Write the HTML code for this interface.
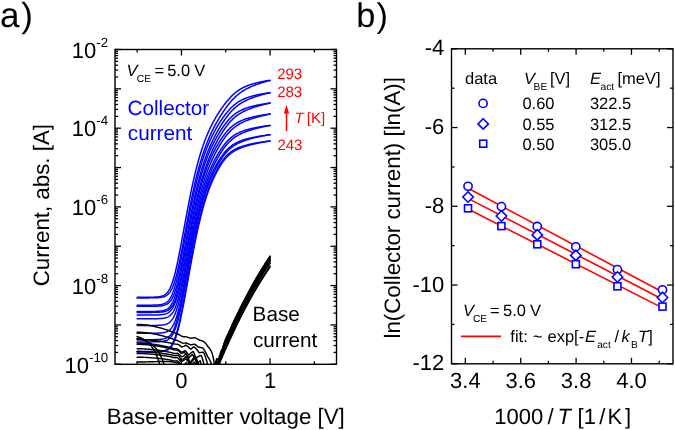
<!DOCTYPE html><html><head><meta charset="utf-8"><style>html,body{margin:0;padding:0;background:#fff;width:675px;height:430px;overflow:hidden}svg{display:block;will-change:transform}</style></head><body><svg width="675" height="430" viewBox="0 0 675 430" text-rendering="geometricPrecision" font-family='"Liberation Sans", sans-serif'>
<rect width="675" height="430" fill="#fff"/>
<defs><clipPath id="ca"><rect x="115.0" y="49.5" width="221.5" height="314.8"/></clipPath></defs>
<text y="27.2" font-size="35"><tspan x="0">a</tspan><tspan x="21.3">)</tspan></text>
<text y="26.6" font-size="34.3"><tspan x="356.2">b</tspan><tspan x="376.6">)</tspan></text>
<g clip-path="url(#ca)" fill="none" stroke-linejoin="round" stroke-linecap="round">
<path d="M137.15,297.3 L137.89,297.3 L138.63,297.3 L139.37,297.3 L140.11,297.3 L140.85,297.3 L141.58,297.29 L142.32,297.29 L143.06,297.29 L143.8,297.29 L144.54,297.29 L145.28,297.29 L146.02,297.28 L146.76,297.28 L147.5,297.27 L148.24,297.27 L148.98,297.26 L149.72,297.25 L150.45,297.24 L151.19,297.23 L151.93,297.21 L152.67,297.2 L153.41,297.17 L154.15,297.14 L154.89,297.11 L155.63,297.07 L156.37,297.02 L157.11,296.96 L157.85,296.88 L158.59,296.79 L159.32,296.68 L160.06,296.55 L160.66,296.42 L161.25,296.27 L161.84,296.1 L162.43,295.9 L163.02,295.66 L163.61,295.39 L164.2,295.08 L164.65,294.81 L165.09,294.51 L165.53,294.18 L165.98,293.82 L166.42,293.41 L166.86,292.96 L167.31,292.47 L167.75,291.92 L168.19,291.32 L168.49,290.89 L168.79,290.43 L169.08,289.95 L169.38,289.44 L169.67,288.89 L169.97,288.32 L170.26,287.71 L170.56,287.08 L170.86,286.41 L171.15,285.7 L171.45,284.97 L171.74,284.19 L172.04,283.39 L172.33,282.54 L172.63,281.67 L172.93,280.75 L173.22,279.81 L173.52,278.82 L173.81,277.81 L174.11,276.75 L174.4,275.67 L174.55,275.11 L174.7,274.55 L174.85,273.98 L174.99,273.4 L175.14,272.81 L175.29,272.22 L175.44,271.62 L175.59,271.01 L175.73,270.39 L175.88,269.77 L176.03,269.14 L176.18,268.5 L176.33,267.85 L176.47,267.2 L176.62,266.54 L176.77,265.88 L176.92,265.21 L177.06,264.53 L177.21,263.85 L177.36,263.16 L177.51,262.46 L177.66,261.76 L177.8,261.06 L177.95,260.35 L178.1,259.63 L178.25,258.91 L178.39,258.19 L178.54,257.46 L178.69,256.72 L178.84,255.98 L178.99,255.24 L179.13,254.5 L179.28,253.75 L179.43,252.99 L179.58,252.23 L179.73,251.47 L179.87,250.71 L180.02,249.94 L180.17,249.17 L180.32,248.4 L180.46,247.62 L180.61,246.84 L180.76,246.06 L180.91,245.28 L181.06,244.49 L181.2,243.71 L181.35,242.92 L181.5,242.13 L181.65,241.33 L181.79,240.54 L181.94,239.74 L182.09,238.95 L182.24,238.15 L182.39,237.35 L182.53,236.55 L182.68,235.75 L182.83,234.94 L182.98,234.14 L183.13,233.34 L183.27,232.53 L183.42,231.73 L183.57,230.92 L183.72,230.12 L183.86,229.32 L184.01,228.51 L184.16,227.71 L184.31,226.9 L184.46,226.1 L184.6,225.29 L184.75,224.49 L184.9,223.69 L185.05,222.88 L185.2,222.08 L185.34,221.28 L185.49,220.48 L185.64,219.68 L185.79,218.88 L185.93,218.09 L186.08,217.29 L186.23,216.5 L186.38,215.7 L186.53,214.91 L186.67,214.12 L186.82,213.33 L186.97,212.55 L187.12,211.76 L187.26,210.98 L187.41,210.2 L187.56,209.42 L187.71,208.64 L187.86,207.86 L188,207.09 L188.15,206.32 L188.3,205.55 L188.45,204.78 L188.6,204.02 L188.74,203.26 L188.89,202.5 L189.04,201.74 L189.19,200.98 L189.33,200.23 L189.48,199.48 L189.63,198.74 L189.78,197.99 L189.93,197.25 L190.07,196.52 L190.22,195.78 L190.37,195.05 L190.52,194.32 L190.66,193.6 L190.81,192.87 L190.96,192.15 L191.11,191.44 L191.26,190.73 L191.4,190.02 L191.55,189.31 L191.7,188.61 L191.85,187.91 L192,187.21 L192.14,186.52 L192.29,185.83 L192.44,185.15 L192.59,184.46 L192.73,183.79 L192.88,183.11 L193.03,182.44 L193.18,181.77 L193.33,181.11 L193.47,180.45 L193.62,179.8 L193.77,179.14 L193.92,178.5 L194.06,177.85 L194.21,177.21 L194.36,176.57 L194.51,175.94 L194.66,175.31 L194.8,174.69 L194.95,174.06 L195.1,173.45 L195.25,172.83 L195.4,172.22 L195.54,171.62 L195.69,171.01 L195.84,170.42 L195.99,169.82 L196.13,169.23 L196.28,168.64 L196.43,168.06 L196.58,167.48 L196.73,166.91 L196.87,166.34 L197.02,165.77 L197.17,165.21 L197.32,164.65 L197.47,164.09 L197.61,163.54 L197.91,162.44 L198.2,161.37 L198.5,160.3 L198.8,159.25 L199.09,158.22 L199.39,157.2 L199.68,156.19 L199.98,155.2 L200.27,154.22 L200.57,153.26 L200.87,152.31 L201.16,151.37 L201.46,150.45 L201.75,149.54 L202.05,148.64 L202.34,147.75 L202.64,146.88 L202.93,146.02 L203.23,145.17 L203.53,144.33 L203.82,143.51 L204.12,142.69 L204.41,141.89 L204.71,141.09 L205,140.31 L205.3,139.54 L205.6,138.78 L205.89,138.02 L206.19,137.28 L206.48,136.55 L206.78,135.83 L207.07,135.11 L207.37,134.41 L207.67,133.71 L207.96,133.03 L208.26,132.35 L208.55,131.68 L208.85,131.02 L209.14,130.36 L209.44,129.72 L209.73,129.08 L210.03,128.45 L210.33,127.82 L210.62,127.21 L210.92,126.6 L211.21,126 L211.51,125.4 L211.8,124.81 L212.1,124.23 L212.4,123.66 L212.69,123.09 L212.99,122.52 L213.28,121.97 L213.58,121.42 L213.87,120.87 L214.17,120.33 L214.47,119.8 L214.76,119.27 L215.06,118.75 L215.35,118.23 L215.65,117.72 L215.94,117.21 L216.24,116.71 L216.54,116.21 L216.83,115.72 L217.13,115.23 L217.42,114.75 L217.72,114.27 L218.01,113.79 L218.31,113.32 L218.6,112.86 L218.9,112.4 L219.2,111.94 L219.49,111.49 L219.79,111.04 L220.08,110.6 L220.38,110.15 L220.67,109.72 L220.97,109.29 L221.27,108.86 L221.56,108.43 L221.86,108.01 L222.15,107.59 L222.45,107.18 L222.74,106.77 L223.04,106.36 L223.48,105.76 L223.93,105.16 L224.37,104.58 L224.81,104 L225.26,103.43 L225.7,102.86 L226.14,102.31 L226.59,101.76 L227.03,101.22 L227.47,100.69 L227.92,100.16 L228.36,99.65 L228.81,99.14 L229.25,98.64 L229.69,98.16 L230.14,97.67 L230.58,97.2 L231.02,96.74 L231.47,96.28 L231.91,95.84 L232.35,95.4 L232.8,94.98 L233.24,94.56 L233.68,94.15 L234.13,93.76 L234.57,93.37 L235.01,92.99 L235.46,92.62 L235.9,92.26 L236.34,91.91 L236.79,91.57 L237.23,91.24 L237.68,90.91 L238.12,90.6 L238.56,90.29 L239.01,90 L239.45,89.71 L239.89,89.43 L240.34,89.16 L240.78,88.89 L241.37,88.55 L241.96,88.22 L242.55,87.91 L243.14,87.61 L243.74,87.31 L244.33,87.03 L244.92,86.76 L245.51,86.5 L246.1,86.25 L246.69,86 L247.28,85.77 L247.88,85.54 L248.47,85.32 L249.06,85.11 L249.65,84.9 L250.24,84.7 L250.83,84.51 L251.42,84.32 L252.01,84.14 L252.61,83.96 L253.2,83.79 L253.79,83.63 L254.38,83.46 L254.97,83.31 L255.56,83.15 L256.15,83.01 L256.75,82.86 L257.34,82.72 L257.93,82.58 L258.52,82.45 L259.11,82.31 L259.7,82.19 L260.29,82.06 L260.88,81.94 L261.48,81.82 L262.07,81.7 L262.66,81.59 L263.25,81.48 L263.84,81.36 L264.58,81.23 L265.32,81.1 L266.06,80.97 L266.8,80.85 L267.54,80.73 L268.28,80.61 L269.02,80.49 L269.75,80.4 L270.05,80.4" stroke="#00f" stroke-width="1.5"/>
<path d="M137.15,297.9 L137.89,297.9 L138.63,297.9 L139.37,297.9 L140.11,297.9 L140.85,297.9 L141.58,297.9 L142.32,297.9 L143.06,297.9 L143.8,297.89 L144.54,297.89 L145.28,297.89 L146.02,297.89 L146.76,297.89 L147.5,297.89 L148.24,297.88 L148.98,297.88 L149.72,297.87 L150.45,297.87 L151.19,297.86 L151.93,297.85 L152.67,297.84 L153.41,297.83 L154.15,297.81 L154.89,297.79 L155.63,297.77 L156.37,297.74 L157.11,297.71 L157.85,297.66 L158.59,297.61 L159.32,297.54 L160.06,297.46 L160.8,297.37 L161.54,297.25 L162.13,297.13 L162.72,297 L163.32,296.85 L163.91,296.67 L164.5,296.46 L165.09,296.21 L165.68,295.93 L166.27,295.6 L166.72,295.31 L167.16,295 L167.6,294.65 L168.05,294.26 L168.49,293.83 L168.93,293.36 L169.38,292.83 L169.82,292.25 L170.12,291.83 L170.41,291.39 L170.71,290.92 L171,290.42 L171.3,289.89 L171.59,289.32 L171.89,288.73 L172.19,288.1 L172.48,287.44 L172.78,286.75 L173.07,286.02 L173.37,285.26 L173.66,284.46 L173.96,283.62 L174.26,282.75 L174.55,281.84 L174.85,280.9 L175.14,279.92 L175.44,278.9 L175.73,277.85 L176.03,276.76 L176.18,276.21 L176.33,275.64 L176.47,275.07 L176.62,274.49 L176.77,273.9 L176.92,273.3 L177.06,272.7 L177.21,272.09 L177.36,271.47 L177.51,270.84 L177.66,270.2 L177.8,269.56 L177.95,268.91 L178.1,268.26 L178.25,267.6 L178.39,266.93 L178.54,266.25 L178.69,265.57 L178.84,264.88 L178.99,264.19 L179.13,263.49 L179.28,262.78 L179.43,262.07 L179.58,261.36 L179.73,260.64 L179.87,259.91 L180.02,259.18 L180.17,258.45 L180.32,257.71 L180.46,256.96 L180.61,256.22 L180.76,255.47 L180.91,254.71 L181.06,253.95 L181.2,253.19 L181.35,252.42 L181.5,251.65 L181.65,250.88 L181.79,250.11 L181.94,249.33 L182.09,248.55 L182.24,247.77 L182.39,246.98 L182.53,246.2 L182.68,245.41 L182.83,244.62 L182.98,243.83 L183.13,243.03 L183.27,242.24 L183.42,241.44 L183.57,240.64 L183.72,239.84 L183.86,239.04 L184.01,238.24 L184.16,237.44 L184.31,236.64 L184.46,235.84 L184.6,235.03 L184.75,234.23 L184.9,233.43 L185.05,232.63 L185.2,231.82 L185.34,231.02 L185.49,230.22 L185.64,229.42 L185.79,228.61 L185.93,227.81 L186.08,227.01 L186.23,226.21 L186.38,225.41 L186.53,224.62 L186.67,223.82 L186.82,223.02 L186.97,222.23 L187.12,221.44 L187.26,220.65 L187.41,219.86 L187.56,219.07 L187.71,218.28 L187.86,217.5 L188,216.71 L188.15,215.93 L188.3,215.15 L188.45,214.37 L188.6,213.6 L188.74,212.83 L188.89,212.05 L189.04,211.29 L189.19,210.52 L189.33,209.76 L189.48,208.99 L189.63,208.24 L189.78,207.48 L189.93,206.73 L190.07,205.97 L190.22,205.23 L190.37,204.48 L190.52,203.74 L190.66,203 L190.81,202.26 L190.96,201.53 L191.11,200.8 L191.26,200.07 L191.4,199.35 L191.55,198.63 L191.7,197.91 L191.85,197.2 L192,196.49 L192.14,195.78 L192.29,195.08 L192.44,194.38 L192.59,193.68 L192.73,192.99 L192.88,192.3 L193.03,191.61 L193.18,190.93 L193.33,190.25 L193.47,189.57 L193.62,188.9 L193.77,188.23 L193.92,187.57 L194.06,186.91 L194.21,186.25 L194.36,185.6 L194.51,184.95 L194.66,184.3 L194.8,183.66 L194.95,183.02 L195.1,182.39 L195.25,181.76 L195.4,181.13 L195.54,180.51 L195.69,179.89 L195.84,179.28 L195.99,178.67 L196.13,178.06 L196.28,177.46 L196.43,176.86 L196.58,176.26 L196.73,175.67 L196.87,175.08 L197.02,174.5 L197.17,173.92 L197.32,173.34 L197.47,172.77 L197.61,172.2 L197.76,171.63 L197.91,171.07 L198.06,170.51 L198.2,169.96 L198.5,168.86 L198.8,167.78 L199.09,166.71 L199.39,165.65 L199.68,164.61 L199.98,163.59 L200.27,162.57 L200.57,161.58 L200.87,160.59 L201.16,159.62 L201.46,158.66 L201.75,157.71 L202.05,156.78 L202.34,155.86 L202.64,154.95 L202.93,154.06 L203.23,153.17 L203.53,152.3 L203.82,151.44 L204.12,150.59 L204.41,149.75 L204.71,148.92 L205,148.1 L205.3,147.29 L205.6,146.5 L205.89,145.71 L206.19,144.93 L206.48,144.17 L206.78,143.41 L207.07,142.66 L207.37,141.92 L207.67,141.19 L207.96,140.47 L208.26,139.75 L208.55,139.05 L208.85,138.35 L209.14,137.66 L209.44,136.98 L209.73,136.31 L210.03,135.64 L210.33,134.98 L210.62,134.33 L210.92,133.69 L211.21,133.05 L211.51,132.42 L211.8,131.79 L212.1,131.18 L212.4,130.57 L212.69,129.96 L212.99,129.36 L213.28,128.77 L213.58,128.19 L213.87,127.61 L214.17,127.03 L214.47,126.46 L214.76,125.9 L215.06,125.34 L215.35,124.79 L215.65,124.24 L215.94,123.7 L216.24,123.16 L216.54,122.63 L216.83,122.1 L217.13,121.57 L217.42,121.06 L217.72,120.54 L218.01,120.03 L218.31,119.53 L218.6,119.03 L218.9,118.53 L219.2,118.04 L219.49,117.55 L219.79,117.07 L220.08,116.59 L220.38,116.11 L220.67,115.64 L220.97,115.17 L221.27,114.71 L221.56,114.24 L221.86,113.79 L222.15,113.33 L222.45,112.89 L222.74,112.44 L223.04,112 L223.34,111.56 L223.63,111.12 L223.93,110.69 L224.22,110.27 L224.52,109.84 L224.81,109.42 L225.11,109 L225.41,108.59 L225.7,108.18 L226,107.77 L226.44,107.17 L226.88,106.57 L227.33,105.99 L227.77,105.41 L228.21,104.84 L228.66,104.27 L229.1,103.72 L229.54,103.17 L229.99,102.64 L230.43,102.11 L230.87,101.59 L231.32,101.08 L231.76,100.58 L232.21,100.09 L232.65,99.6 L233.09,99.13 L233.54,98.67 L233.98,98.21 L234.42,97.77 L234.87,97.33 L235.31,96.91 L235.75,96.49 L236.2,96.08 L236.64,95.69 L237.08,95.3 L237.53,94.92 L237.97,94.55 L238.41,94.19 L238.86,93.83 L239.3,93.49 L239.74,93.15 L240.19,92.83 L240.63,92.51 L241.08,92.2 L241.52,91.89 L241.96,91.59 L242.41,91.3 L242.85,91.02 L243.29,90.74 L243.74,90.47 L244.18,90.2 L244.62,89.94 L245.21,89.61 L245.81,89.28 L246.4,88.96 L246.99,88.65 L247.58,88.35 L248.17,88.05 L248.76,87.77 L249.35,87.49 L249.94,87.21 L250.54,86.94 L251.13,86.68 L251.72,86.43 L252.31,86.18 L252.9,85.93 L253.49,85.69 L254.08,85.46 L254.68,85.23 L255.27,85 L255.86,84.78 L256.45,84.56 L257.04,84.35 L257.63,84.14 L258.22,83.93 L258.81,83.73 L259.41,83.53 L260,83.33 L260.59,83.13 L261.18,82.94 L261.77,82.75 L262.36,82.56 L262.95,82.38 L263.55,82.2 L264.14,82.02 L264.73,81.84 L265.32,81.67 L265.91,81.49 L266.5,81.32 L267.09,81.15 L267.68,80.99 L268.28,80.82 L268.87,80.66 L269.46,80.49 L270.05,80.4" stroke="#00f" stroke-width="1.5"/>
<path d="M137.15,305.2 L137.89,305.2 L138.63,305.2 L139.37,305.2 L140.11,305.2 L140.85,305.2 L141.58,305.2 L142.32,305.2 L143.06,305.19 L143.8,305.19 L144.54,305.19 L145.28,305.19 L146.02,305.19 L146.76,305.19 L147.5,305.18 L148.24,305.18 L148.98,305.17 L149.72,305.17 L150.45,305.16 L151.19,305.15 L151.93,305.14 L152.67,305.13 L153.41,305.11 L154.15,305.09 L154.89,305.07 L155.63,305.04 L156.37,305 L157.11,304.96 L157.85,304.91 L158.59,304.85 L159.32,304.77 L160.06,304.68 L160.8,304.56 L161.54,304.42 L162.13,304.29 L162.72,304.14 L163.32,303.96 L163.91,303.75 L164.5,303.51 L165.09,303.23 L165.68,302.91 L166.12,302.64 L166.57,302.33 L167.01,301.99 L167.46,301.62 L167.9,301.2 L168.34,300.74 L168.79,300.23 L169.23,299.67 L169.67,299.06 L169.97,298.62 L170.26,298.15 L170.56,297.66 L170.86,297.13 L171.15,296.58 L171.45,295.99 L171.74,295.38 L172.04,294.73 L172.33,294.04 L172.63,293.33 L172.93,292.58 L173.22,291.79 L173.52,290.97 L173.81,290.12 L174.11,289.23 L174.4,288.3 L174.7,287.34 L174.99,286.35 L175.29,285.32 L175.59,284.25 L175.88,283.16 L176.03,282.6 L176.18,282.03 L176.33,281.45 L176.47,280.87 L176.62,280.27 L176.77,279.67 L176.92,279.07 L177.06,278.45 L177.21,277.83 L177.36,277.2 L177.51,276.57 L177.66,275.92 L177.8,275.27 L177.95,274.62 L178.1,273.96 L178.25,273.29 L178.39,272.61 L178.54,271.93 L178.69,271.24 L178.84,270.55 L178.99,269.85 L179.13,269.15 L179.28,268.44 L179.43,267.73 L179.58,267.01 L179.73,266.29 L179.87,265.56 L180.02,264.83 L180.17,264.09 L180.32,263.35 L180.46,262.61 L180.61,261.86 L180.76,261.11 L180.91,260.36 L181.06,259.6 L181.2,258.84 L181.35,258.07 L181.5,257.3 L181.65,256.53 L181.79,255.76 L181.94,254.98 L182.09,254.2 L182.24,253.42 L182.39,252.64 L182.53,251.86 L182.68,251.07 L182.83,250.28 L182.98,249.49 L183.13,248.7 L183.27,247.91 L183.42,247.11 L183.57,246.32 L183.72,245.52 L183.86,244.72 L184.01,243.92 L184.16,243.12 L184.31,242.32 L184.46,241.52 L184.6,240.72 L184.75,239.92 L184.9,239.12 L185.05,238.32 L185.2,237.52 L185.34,236.72 L185.49,235.91 L185.64,235.11 L185.79,234.31 L185.93,233.51 L186.08,232.71 L186.23,231.91 L186.38,231.11 L186.53,230.32 L186.67,229.52 L186.82,228.72 L186.97,227.93 L187.12,227.13 L187.26,226.34 L187.41,225.55 L187.56,224.76 L187.71,223.97 L187.86,223.18 L188,222.4 L188.15,221.61 L188.3,220.83 L188.45,220.05 L188.6,219.27 L188.74,218.49 L188.89,217.72 L189.04,216.95 L189.19,216.18 L189.33,215.41 L189.48,214.64 L189.63,213.88 L189.78,213.12 L189.93,212.36 L190.07,211.6 L190.22,210.85 L190.37,210.09 L190.52,209.35 L190.66,208.6 L190.81,207.86 L190.96,207.12 L191.11,206.38 L191.26,205.64 L191.4,204.91 L191.55,204.18 L191.7,203.46 L191.85,202.73 L192,202.02 L192.14,201.3 L192.29,200.59 L192.44,199.88 L192.59,199.17 L192.73,198.47 L192.88,197.77 L193.03,197.07 L193.18,196.38 L193.33,195.69 L193.47,195 L193.62,194.32 L193.77,193.64 L193.92,192.97 L194.06,192.3 L194.21,191.63 L194.36,190.97 L194.51,190.31 L194.66,189.65 L194.8,189 L194.95,188.35 L195.1,187.7 L195.25,187.06 L195.4,186.42 L195.54,185.79 L195.69,185.16 L195.84,184.53 L195.99,183.91 L196.13,183.29 L196.28,182.68 L196.43,182.07 L196.58,181.46 L196.73,180.86 L196.87,180.26 L197.02,179.66 L197.17,179.07 L197.32,178.49 L197.47,177.9 L197.61,177.32 L197.76,176.75 L197.91,176.17 L198.06,175.61 L198.2,175.04 L198.35,174.48 L198.5,173.92 L198.65,173.37 L198.94,172.28 L199.24,171.2 L199.53,170.13 L199.83,169.08 L200.13,168.04 L200.42,167.02 L200.72,166.02 L201.01,165.02 L201.31,164.04 L201.6,163.08 L201.9,162.13 L202.2,161.19 L202.49,160.26 L202.79,159.35 L203.08,158.45 L203.38,157.56 L203.67,156.69 L203.97,155.82 L204.27,154.97 L204.56,154.13 L204.86,153.31 L205.15,152.49 L205.45,151.68 L205.74,150.89 L206.04,150.11 L206.33,149.33 L206.63,148.57 L206.93,147.82 L207.22,147.07 L207.52,146.34 L207.81,145.61 L208.11,144.9 L208.4,144.19 L208.7,143.5 L209,142.81 L209.29,142.13 L209.59,141.46 L209.88,140.79 L210.18,140.14 L210.47,139.49 L210.77,138.85 L211.07,138.22 L211.36,137.6 L211.66,136.98 L211.95,136.37 L212.25,135.77 L212.54,135.17 L212.84,134.58 L213.14,134 L213.43,133.43 L213.73,132.86 L214.02,132.29 L214.32,131.73 L214.61,131.18 L214.91,130.64 L215.2,130.1 L215.5,129.56 L215.8,129.03 L216.09,128.51 L216.39,127.99 L216.68,127.48 L216.98,126.97 L217.27,126.47 L217.57,125.97 L217.87,125.48 L218.16,124.99 L218.46,124.51 L218.75,124.03 L219.05,123.56 L219.34,123.09 L219.64,122.63 L219.94,122.17 L220.23,121.71 L220.53,121.26 L220.82,120.81 L221.12,120.37 L221.41,119.93 L221.71,119.5 L222,119.07 L222.3,118.64 L222.6,118.22 L222.89,117.8 L223.19,117.39 L223.48,116.98 L223.78,116.57 L224.22,115.97 L224.67,115.38 L225.11,114.79 L225.55,114.22 L226,113.66 L226.44,113.1 L226.88,112.56 L227.33,112.02 L227.77,111.49 L228.21,110.97 L228.66,110.47 L229.1,109.97 L229.54,109.48 L229.99,109.01 L230.43,108.54 L230.87,108.08 L231.32,107.64 L231.76,107.2 L232.21,106.78 L232.65,106.37 L233.09,105.96 L233.54,105.57 L233.98,105.19 L234.42,104.82 L234.87,104.46 L235.31,104.11 L235.75,103.77 L236.2,103.44 L236.64,103.11 L237.08,102.8 L237.53,102.5 L237.97,102.21 L238.41,101.92 L238.86,101.65 L239.3,101.38 L239.74,101.12 L240.34,100.79 L240.93,100.47 L241.52,100.16 L242.11,99.86 L242.7,99.58 L243.29,99.3 L243.88,99.04 L244.48,98.78 L245.07,98.54 L245.66,98.3 L246.25,98.07 L246.84,97.85 L247.43,97.64 L248.02,97.43 L248.61,97.23 L249.21,97.03 L249.8,96.85 L250.39,96.67 L250.98,96.49 L251.57,96.32 L252.16,96.15 L252.75,95.99 L253.35,95.83 L253.94,95.68 L254.53,95.53 L255.12,95.38 L255.71,95.24 L256.3,95.1 L256.89,94.97 L257.48,94.84 L258.08,94.71 L258.67,94.58 L259.26,94.46 L259.85,94.34 L260.44,94.23 L261.03,94.11 L261.62,94 L262.21,93.89 L262.95,93.76 L263.69,93.63 L264.43,93.5 L265.17,93.38 L265.91,93.26 L266.65,93.14 L267.39,93.02 L268.13,92.91 L268.87,92.8 L269.61,92.7 L270.05,92.7" stroke="#00f" stroke-width="1.5"/>
<path d="M137.15,306.3 L137.89,306.3 L138.63,306.3 L139.37,306.3 L140.11,306.3 L140.85,306.3 L141.58,306.3 L142.32,306.3 L143.06,306.3 L143.8,306.3 L144.54,306.3 L145.28,306.29 L146.02,306.29 L146.76,306.29 L147.5,306.29 L148.24,306.29 L148.98,306.28 L149.72,306.28 L150.45,306.28 L151.19,306.27 L151.93,306.26 L152.67,306.25 L153.41,306.24 L154.15,306.23 L154.89,306.22 L155.63,306.2 L156.37,306.17 L157.11,306.15 L157.85,306.11 L158.59,306.07 L159.32,306.02 L160.06,305.96 L160.8,305.88 L161.54,305.79 L162.28,305.67 L163.02,305.53 L163.61,305.4 L164.2,305.25 L164.79,305.07 L165.39,304.86 L165.98,304.61 L166.57,304.33 L167.16,304 L167.6,303.72 L168.05,303.41 L168.49,303.06 L168.93,302.67 L169.38,302.25 L169.82,301.77 L170.26,301.25 L170.71,300.68 L171,300.26 L171.3,299.82 L171.59,299.35 L171.89,298.86 L172.19,298.33 L172.48,297.77 L172.78,297.18 L173.07,296.56 L173.37,295.91 L173.66,295.22 L173.96,294.5 L174.26,293.74 L174.55,292.95 L174.85,292.12 L175.14,291.25 L175.44,290.35 L175.73,289.41 L176.03,288.44 L176.33,287.43 L176.62,286.39 L176.92,285.31 L177.21,284.2 L177.36,283.63 L177.51,283.05 L177.66,282.47 L177.8,281.87 L177.95,281.27 L178.1,280.67 L178.25,280.05 L178.39,279.43 L178.54,278.8 L178.69,278.16 L178.84,277.51 L178.99,276.86 L179.13,276.2 L179.28,275.54 L179.43,274.87 L179.58,274.19 L179.73,273.51 L179.87,272.82 L180.02,272.12 L180.17,271.42 L180.32,270.71 L180.46,270 L180.61,269.29 L180.76,268.56 L180.91,267.84 L181.06,267.11 L181.2,266.37 L181.35,265.63 L181.5,264.89 L181.65,264.14 L181.79,263.39 L181.94,262.63 L182.09,261.87 L182.24,261.11 L182.39,260.34 L182.53,259.57 L182.68,258.8 L182.83,258.03 L182.98,257.25 L183.13,256.47 L183.27,255.69 L183.42,254.91 L183.57,254.12 L183.72,253.33 L183.86,252.54 L184.01,251.75 L184.16,250.96 L184.31,250.17 L184.46,249.37 L184.6,248.57 L184.75,247.78 L184.9,246.98 L185.05,246.18 L185.2,245.38 L185.34,244.58 L185.49,243.78 L185.64,242.98 L185.79,242.18 L185.93,241.37 L186.08,240.57 L186.23,239.77 L186.38,238.97 L186.53,238.17 L186.67,237.37 L186.82,236.57 L186.97,235.77 L187.12,234.97 L187.26,234.17 L187.41,233.38 L187.56,232.58 L187.71,231.79 L187.86,230.99 L188,230.2 L188.15,229.41 L188.3,228.62 L188.45,227.83 L188.6,227.05 L188.74,226.26 L188.89,225.48 L189.04,224.7 L189.19,223.92 L189.33,223.14 L189.48,222.37 L189.63,221.59 L189.78,220.82 L189.93,220.05 L190.07,219.29 L190.22,218.52 L190.37,217.76 L190.52,217 L190.66,216.24 L190.81,215.49 L190.96,214.74 L191.11,213.99 L191.26,213.25 L191.4,212.5 L191.55,211.76 L191.7,211.03 L191.85,210.29 L192,209.56 L192.14,208.83 L192.29,208.11 L192.44,207.39 L192.59,206.67 L192.73,205.95 L192.88,205.24 L193.03,204.53 L193.18,203.83 L193.33,203.13 L193.47,202.43 L193.62,201.73 L193.77,201.04 L193.92,200.35 L194.06,199.67 L194.21,198.99 L194.36,198.31 L194.51,197.64 L194.66,196.97 L194.8,196.31 L194.95,195.64 L195.1,194.98 L195.25,194.33 L195.4,193.68 L195.54,193.03 L195.69,192.39 L195.84,191.75 L195.99,191.11 L196.13,190.48 L196.28,189.85 L196.43,189.23 L196.58,188.61 L196.73,187.99 L196.87,187.38 L197.02,186.77 L197.17,186.17 L197.32,185.57 L197.47,184.97 L197.61,184.37 L197.76,183.79 L197.91,183.2 L198.06,182.62 L198.2,182.04 L198.35,181.46 L198.5,180.89 L198.65,180.33 L198.8,179.76 L198.94,179.2 L199.09,178.65 L199.39,177.55 L199.68,176.46 L199.98,175.39 L200.27,174.33 L200.57,173.29 L200.87,172.26 L201.16,171.25 L201.46,170.25 L201.75,169.26 L202.05,168.29 L202.34,167.33 L202.64,166.38 L202.93,165.45 L203.23,164.52 L203.53,163.61 L203.82,162.72 L204.12,161.83 L204.41,160.96 L204.71,160.1 L205,159.24 L205.3,158.4 L205.6,157.58 L205.89,156.76 L206.19,155.95 L206.48,155.15 L206.78,154.37 L207.07,153.59 L207.37,152.82 L207.67,152.07 L207.96,151.32 L208.26,150.58 L208.55,149.85 L208.85,149.13 L209.14,148.41 L209.44,147.71 L209.73,147.01 L210.03,146.33 L210.33,145.65 L210.62,144.98 L210.92,144.31 L211.21,143.65 L211.51,143.01 L211.8,142.36 L212.1,141.73 L212.4,141.1 L212.69,140.48 L212.99,139.86 L213.28,139.26 L213.58,138.65 L213.87,138.06 L214.17,137.47 L214.47,136.89 L214.76,136.31 L215.06,135.74 L215.35,135.17 L215.65,134.61 L215.94,134.06 L216.24,133.51 L216.54,132.96 L216.83,132.42 L217.13,131.89 L217.42,131.36 L217.72,130.84 L218.01,130.32 L218.31,129.81 L218.6,129.3 L218.9,128.79 L219.2,128.29 L219.49,127.8 L219.79,127.3 L220.08,126.82 L220.38,126.34 L220.67,125.86 L220.97,125.38 L221.27,124.91 L221.56,124.45 L221.86,123.99 L222.15,123.53 L222.45,123.08 L222.74,122.63 L223.04,122.18 L223.34,121.74 L223.63,121.31 L223.93,120.87 L224.22,120.45 L224.52,120.02 L224.81,119.6 L225.11,119.18 L225.41,118.77 L225.7,118.36 L226.14,117.76 L226.59,117.16 L227.03,116.58 L227.47,116 L227.92,115.43 L228.36,114.88 L228.81,114.33 L229.25,113.79 L229.69,113.27 L230.14,112.75 L230.58,112.24 L231.02,111.75 L231.47,111.26 L231.91,110.79 L232.35,110.32 L232.8,109.87 L233.24,109.43 L233.68,109 L234.13,108.57 L234.57,108.16 L235.01,107.76 L235.46,107.37 L235.9,106.99 L236.34,106.62 L236.79,106.26 L237.23,105.91 L237.68,105.57 L238.12,105.23 L238.56,104.91 L239.01,104.59 L239.45,104.28 L239.89,103.98 L240.34,103.69 L240.78,103.4 L241.22,103.13 L241.67,102.86 L242.11,102.59 L242.55,102.33 L243.14,102 L243.74,101.67 L244.33,101.36 L244.92,101.05 L245.51,100.75 L246.1,100.47 L246.69,100.19 L247.28,99.91 L247.88,99.65 L248.47,99.39 L249.06,99.13 L249.65,98.89 L250.24,98.65 L250.83,98.41 L251.42,98.18 L252.01,97.95 L252.61,97.73 L253.2,97.52 L253.79,97.31 L254.38,97.1 L254.97,96.89 L255.56,96.69 L256.15,96.5 L256.75,96.3 L257.34,96.11 L257.93,95.93 L258.52,95.74 L259.11,95.56 L259.7,95.39 L260.29,95.21 L260.88,95.04 L261.48,94.87 L262.07,94.7 L262.66,94.53 L263.25,94.37 L263.84,94.21 L264.43,94.05 L265.02,93.89 L265.62,93.74 L266.21,93.58 L266.8,93.43 L267.39,93.28 L267.98,93.13 L268.57,92.99 L269.16,92.84 L269.75,92.73 L270.05,92.7" stroke="#00f" stroke-width="1.5"/>
<path d="M137.15,311.5 L137.89,311.5 L138.63,311.5 L139.37,311.5 L140.11,311.5 L140.85,311.5 L141.58,311.5 L142.32,311.5 L143.06,311.5 L143.8,311.5 L144.54,311.49 L145.28,311.49 L146.02,311.49 L146.76,311.49 L147.5,311.49 L148.24,311.48 L148.98,311.48 L149.72,311.48 L150.45,311.47 L151.19,311.47 L151.93,311.46 L152.67,311.45 L153.41,311.44 L154.15,311.42 L154.89,311.41 L155.63,311.38 L156.37,311.36 L157.11,311.33 L157.85,311.29 L158.59,311.24 L159.32,311.19 L160.06,311.12 L160.8,311.04 L161.54,310.94 L162.28,310.82 L162.87,310.7 L163.46,310.56 L164.06,310.41 L164.65,310.22 L165.24,310.01 L165.83,309.76 L166.42,309.47 L167.01,309.14 L167.46,308.86 L167.9,308.55 L168.34,308.2 L168.79,307.81 L169.23,307.39 L169.67,306.91 L170.12,306.39 L170.56,305.82 L170.86,305.41 L171.15,304.97 L171.45,304.51 L171.74,304.02 L172.04,303.49 L172.33,302.94 L172.63,302.36 L172.93,301.75 L173.22,301.1 L173.52,300.43 L173.81,299.71 L174.11,298.97 L174.4,298.19 L174.7,297.37 L174.99,296.52 L175.29,295.63 L175.59,294.71 L175.88,293.76 L176.18,292.77 L176.47,291.74 L176.77,290.68 L177.06,289.59 L177.21,289.03 L177.36,288.47 L177.51,287.89 L177.66,287.31 L177.8,286.72 L177.95,286.12 L178.1,285.52 L178.25,284.91 L178.39,284.29 L178.54,283.66 L178.69,283.03 L178.84,282.39 L178.99,281.74 L179.13,281.09 L179.28,280.43 L179.43,279.76 L179.58,279.09 L179.73,278.41 L179.87,277.73 L180.02,277.04 L180.17,276.34 L180.32,275.64 L180.46,274.93 L180.61,274.22 L180.76,273.51 L180.91,272.79 L181.06,272.06 L181.2,271.33 L181.35,270.6 L181.5,269.86 L181.65,269.12 L181.79,268.37 L181.94,267.62 L182.09,266.87 L182.24,266.12 L182.39,265.36 L182.53,264.59 L182.68,263.83 L182.83,263.06 L182.98,262.29 L183.13,261.52 L183.27,260.74 L183.42,259.96 L183.57,259.18 L183.72,258.4 L183.86,257.61 L184.01,256.83 L184.16,256.04 L184.31,255.25 L184.46,254.46 L184.6,253.67 L184.75,252.88 L184.9,252.08 L185.05,251.29 L185.2,250.49 L185.34,249.7 L185.49,248.9 L185.64,248.1 L185.79,247.3 L185.93,246.51 L186.08,245.71 L186.23,244.91 L186.38,244.11 L186.53,243.31 L186.67,242.51 L186.82,241.72 L186.97,240.92 L187.12,240.12 L187.26,239.33 L187.41,238.53 L187.56,237.74 L187.71,236.94 L187.86,236.15 L188,235.36 L188.15,234.56 L188.3,233.77 L188.45,232.99 L188.6,232.2 L188.74,231.41 L188.89,230.63 L189.04,229.84 L189.19,229.06 L189.33,228.28 L189.48,227.51 L189.63,226.73 L189.78,225.96 L189.93,225.18 L190.07,224.41 L190.22,223.64 L190.37,222.88 L190.52,222.12 L190.66,221.35 L190.81,220.6 L190.96,219.84 L191.11,219.08 L191.26,218.33 L191.4,217.58 L191.55,216.84 L191.7,216.1 L191.85,215.35 L192,214.62 L192.14,213.88 L192.29,213.15 L192.44,212.42 L192.59,211.69 L192.73,210.97 L192.88,210.25 L193.03,209.54 L193.18,208.82 L193.33,208.11 L193.47,207.41 L193.62,206.7 L193.77,206 L193.92,205.3 L194.06,204.61 L194.21,203.92 L194.36,203.24 L194.51,202.55 L194.66,201.87 L194.8,201.2 L194.95,200.53 L195.1,199.86 L195.25,199.19 L195.4,198.53 L195.54,197.87 L195.69,197.22 L195.84,196.57 L195.99,195.92 L196.13,195.28 L196.28,194.64 L196.43,194.01 L196.58,193.38 L196.73,192.75 L196.87,192.13 L197.02,191.51 L197.17,190.89 L197.32,190.28 L197.47,189.67 L197.61,189.07 L197.76,188.47 L197.91,187.87 L198.06,187.28 L198.2,186.69 L198.35,186.11 L198.5,185.53 L198.65,184.95 L198.8,184.38 L198.94,183.81 L199.09,183.24 L199.24,182.68 L199.39,182.12 L199.53,181.57 L199.83,180.47 L200.13,179.39 L200.42,178.32 L200.72,177.27 L201.01,176.23 L201.31,175.21 L201.6,174.2 L201.9,173.2 L202.2,172.22 L202.49,171.26 L202.79,170.3 L203.08,169.36 L203.38,168.43 L203.67,167.52 L203.97,166.62 L204.27,165.73 L204.56,164.85 L204.86,163.99 L205.15,163.13 L205.45,162.29 L205.74,161.46 L206.04,160.65 L206.33,159.84 L206.63,159.04 L206.93,158.26 L207.22,157.48 L207.52,156.72 L207.81,155.96 L208.11,155.22 L208.4,154.48 L208.7,153.76 L209,153.04 L209.29,152.34 L209.59,151.64 L209.88,150.95 L210.18,150.27 L210.47,149.6 L210.77,148.93 L211.07,148.28 L211.36,147.63 L211.66,146.99 L211.95,146.36 L212.25,145.73 L212.54,145.11 L212.84,144.5 L213.14,143.9 L213.43,143.3 L213.73,142.71 L214.02,142.13 L214.32,141.55 L214.61,140.98 L214.91,140.42 L215.2,139.86 L215.5,139.31 L215.8,138.77 L216.09,138.23 L216.39,137.69 L216.68,137.16 L216.98,136.64 L217.27,136.12 L217.57,135.61 L217.87,135.1 L218.16,134.6 L218.46,134.11 L218.75,133.61 L219.05,133.13 L219.34,132.65 L219.64,132.17 L219.94,131.7 L220.23,131.23 L220.53,130.77 L220.82,130.31 L221.12,129.86 L221.41,129.41 L221.71,128.97 L222,128.53 L222.3,128.1 L222.6,127.67 L222.89,127.24 L223.19,126.82 L223.48,126.4 L223.78,125.99 L224.07,125.59 L224.52,124.98 L224.96,124.39 L225.41,123.81 L225.85,123.24 L226.29,122.68 L226.74,122.13 L227.18,121.59 L227.62,121.07 L228.07,120.55 L228.51,120.05 L228.95,119.55 L229.4,119.07 L229.84,118.6 L230.28,118.14 L230.73,117.7 L231.17,117.26 L231.61,116.84 L232.06,116.43 L232.5,116.03 L232.94,115.64 L233.39,115.27 L233.83,114.9 L234.27,114.55 L234.72,114.2 L235.16,113.87 L235.61,113.55 L236.05,113.23 L236.49,112.93 L236.94,112.64 L237.38,112.35 L237.82,112.08 L238.27,111.81 L238.71,111.55 L239.3,111.22 L239.89,110.9 L240.48,110.6 L241.08,110.3 L241.67,110.02 L242.26,109.75 L242.85,109.49 L243.44,109.23 L244.03,108.99 L244.62,108.76 L245.21,108.53 L245.81,108.31 L246.4,108.1 L246.99,107.9 L247.58,107.7 L248.17,107.51 L248.76,107.33 L249.35,107.15 L249.94,106.97 L250.54,106.8 L251.13,106.64 L251.72,106.48 L252.31,106.32 L252.9,106.17 L253.49,106.03 L254.08,105.88 L254.68,105.75 L255.27,105.61 L255.86,105.48 L256.45,105.35 L257.04,105.22 L257.63,105.1 L258.22,104.98 L258.81,104.86 L259.41,104.74 L260,104.63 L260.59,104.52 L261.18,104.41 L261.92,104.28 L262.66,104.15 L263.4,104.03 L264.14,103.91 L264.88,103.79 L265.62,103.67 L266.35,103.56 L267.09,103.44 L267.83,103.34 L268.57,103.23 L269.31,103.12 L270.05,103.1" stroke="#00f" stroke-width="1.5"/>
<path d="M137.15,312.4 L137.89,312.4 L138.63,312.4 L139.37,312.4 L140.11,312.4 L140.85,312.4 L141.58,312.4 L142.32,312.4 L143.06,312.4 L143.8,312.4 L144.54,312.4 L145.28,312.4 L146.02,312.39 L146.76,312.39 L147.5,312.39 L148.24,312.39 L148.98,312.39 L149.72,312.38 L150.45,312.38 L151.19,312.38 L151.93,312.37 L152.67,312.37 L153.41,312.36 L154.15,312.35 L154.89,312.34 L155.63,312.32 L156.37,312.31 L157.11,312.28 L157.85,312.26 L158.59,312.23 L159.32,312.19 L160.06,312.14 L160.8,312.09 L161.54,312.02 L162.28,311.93 L163.02,311.83 L163.76,311.7 L164.35,311.58 L164.94,311.44 L165.53,311.27 L166.12,311.08 L166.72,310.86 L167.31,310.6 L167.9,310.3 L168.34,310.04 L168.79,309.75 L169.23,309.43 L169.67,309.08 L170.12,308.69 L170.56,308.25 L171,307.77 L171.45,307.24 L171.89,306.65 L172.19,306.23 L172.48,305.78 L172.78,305.3 L173.07,304.8 L173.37,304.26 L173.66,303.7 L173.96,303.1 L174.26,302.47 L174.55,301.8 L174.85,301.11 L175.14,300.38 L175.44,299.61 L175.73,298.81 L176.03,297.97 L176.33,297.09 L176.62,296.18 L176.92,295.24 L177.21,294.26 L177.51,293.24 L177.8,292.19 L178.1,291.1 L178.25,290.55 L178.39,289.98 L178.54,289.41 L178.69,288.83 L178.84,288.24 L178.99,287.65 L179.13,287.04 L179.28,286.43 L179.43,285.81 L179.58,285.19 L179.73,284.56 L179.87,283.91 L180.02,283.27 L180.17,282.61 L180.32,281.95 L180.46,281.29 L180.61,280.61 L180.76,279.93 L180.91,279.25 L181.06,278.56 L181.2,277.86 L181.35,277.16 L181.5,276.45 L181.65,275.74 L181.79,275.02 L181.94,274.3 L182.09,273.57 L182.24,272.84 L182.39,272.11 L182.53,271.37 L182.68,270.62 L182.83,269.87 L182.98,269.12 L183.13,268.37 L183.27,267.61 L183.42,266.85 L183.57,266.08 L183.72,265.31 L183.86,264.54 L184.01,263.77 L184.16,262.99 L184.31,262.22 L184.46,261.44 L184.6,260.65 L184.75,259.87 L184.9,259.08 L185.05,258.3 L185.2,257.51 L185.34,256.72 L185.49,255.92 L185.64,255.13 L185.79,254.34 L185.93,253.54 L186.08,252.75 L186.23,251.95 L186.38,251.15 L186.53,250.36 L186.67,249.56 L186.82,248.76 L186.97,247.96 L187.12,247.17 L187.26,246.37 L187.41,245.57 L187.56,244.77 L187.71,243.98 L187.86,243.18 L188,242.38 L188.15,241.59 L188.3,240.8 L188.45,240 L188.6,239.21 L188.74,238.42 L188.89,237.63 L189.04,236.84 L189.19,236.05 L189.33,235.27 L189.48,234.48 L189.63,233.7 L189.78,232.92 L189.93,232.14 L190.07,231.36 L190.22,230.59 L190.37,229.81 L190.52,229.04 L190.66,228.27 L190.81,227.5 L190.96,226.74 L191.11,225.98 L191.26,225.22 L191.4,224.46 L191.55,223.7 L191.7,222.95 L191.85,222.2 L192,221.45 L192.14,220.71 L192.29,219.97 L192.44,219.23 L192.59,218.49 L192.73,217.76 L192.88,217.03 L193.03,216.3 L193.18,215.58 L193.33,214.85 L193.47,214.14 L193.62,213.42 L193.77,212.71 L193.92,212 L194.06,211.3 L194.21,210.6 L194.36,209.9 L194.51,209.21 L194.66,208.52 L194.8,207.83 L194.95,207.15 L195.1,206.47 L195.25,205.79 L195.4,205.12 L195.54,204.45 L195.69,203.78 L195.84,203.12 L195.99,202.46 L196.13,201.81 L196.28,201.16 L196.43,200.51 L196.58,199.87 L196.73,199.23 L196.87,198.59 L197.02,197.96 L197.17,197.34 L197.32,196.71 L197.47,196.09 L197.61,195.48 L197.76,194.86 L197.91,194.25 L198.06,193.65 L198.2,193.05 L198.35,192.45 L198.5,191.86 L198.65,191.27 L198.8,190.68 L198.94,190.1 L199.09,189.52 L199.24,188.95 L199.39,188.38 L199.53,187.81 L199.68,187.25 L199.83,186.69 L199.98,186.13 L200.27,185.03 L200.57,183.95 L200.87,182.88 L201.16,181.82 L201.46,180.78 L201.75,179.75 L202.05,178.74 L202.34,177.74 L202.64,176.75 L202.93,175.78 L203.23,174.82 L203.53,173.87 L203.82,172.94 L204.12,172.02 L204.41,171.11 L204.71,170.21 L205,169.33 L205.3,168.46 L205.6,167.6 L205.89,166.75 L206.19,165.91 L206.48,165.08 L206.78,164.26 L207.07,163.46 L207.37,162.66 L207.67,161.88 L207.96,161.1 L208.26,160.33 L208.55,159.58 L208.85,158.83 L209.14,158.09 L209.44,157.36 L209.73,156.65 L210.03,155.93 L210.33,155.23 L210.62,154.54 L210.92,153.85 L211.21,153.17 L211.51,152.5 L211.8,151.84 L212.1,151.19 L212.4,150.54 L212.69,149.9 L212.99,149.27 L213.28,148.64 L213.58,148.02 L213.87,147.41 L214.17,146.8 L214.47,146.2 L214.76,145.61 L215.06,145.02 L215.35,144.44 L215.65,143.87 L215.94,143.3 L216.24,142.74 L216.54,142.18 L216.83,141.63 L217.13,141.08 L217.42,140.54 L217.72,140 L218.01,139.47 L218.31,138.95 L218.6,138.43 L218.9,137.91 L219.2,137.4 L219.49,136.9 L219.79,136.4 L220.08,135.9 L220.38,135.41 L220.67,134.93 L220.97,134.44 L221.27,133.97 L221.56,133.5 L221.86,133.03 L222.15,132.57 L222.45,132.11 L222.74,131.65 L223.04,131.2 L223.34,130.76 L223.63,130.32 L223.93,129.88 L224.22,129.45 L224.52,129.03 L224.81,128.61 L225.11,128.19 L225.41,127.78 L225.7,127.37 L226.14,126.77 L226.59,126.17 L227.03,125.59 L227.47,125.02 L227.92,124.46 L228.36,123.92 L228.81,123.38 L229.25,122.85 L229.69,122.34 L230.14,121.84 L230.58,121.35 L231.02,120.87 L231.47,120.41 L231.91,119.95 L232.35,119.51 L232.8,119.08 L233.24,118.66 L233.68,118.25 L234.13,117.85 L234.57,117.47 L235.01,117.09 L235.46,116.73 L235.9,116.37 L236.34,116.03 L236.79,115.69 L237.23,115.36 L237.68,115.05 L238.12,114.74 L238.56,114.44 L239.01,114.14 L239.45,113.86 L239.89,113.58 L240.34,113.31 L240.78,113.05 L241.22,112.79 L241.81,112.46 L242.41,112.14 L243,111.82 L243.59,111.52 L244.18,111.23 L244.77,110.95 L245.36,110.67 L245.95,110.4 L246.54,110.14 L247.14,109.88 L247.73,109.64 L248.32,109.39 L248.91,109.16 L249.5,108.93 L250.09,108.7 L250.68,108.48 L251.28,108.27 L251.87,108.06 L252.46,107.85 L253.05,107.65 L253.64,107.45 L254.23,107.25 L254.82,107.06 L255.41,106.88 L256.01,106.69 L256.6,106.51 L257.19,106.33 L257.78,106.16 L258.37,105.98 L258.96,105.82 L259.55,105.65 L260.15,105.48 L260.74,105.32 L261.33,105.16 L261.92,105 L262.51,104.85 L263.1,104.69 L263.69,104.54 L264.28,104.39 L264.88,104.25 L265.47,104.1 L266.06,103.96 L266.65,103.81 L267.24,103.67 L267.83,103.53 L268.42,103.4 L269.02,103.26 L269.61,103.14 L270.05,103.1" stroke="#00f" stroke-width="1.5"/>
<path d="M137.15,315.1 L137.89,315.1 L138.63,315.1 L139.37,315.1 L140.11,315.1 L140.85,315.1 L141.58,315.1 L142.32,315.1 L143.06,315.1 L143.8,315.1 L144.54,315.1 L145.28,315.09 L146.02,315.09 L146.76,315.09 L147.5,315.09 L148.24,315.09 L148.98,315.09 L149.72,315.08 L150.45,315.08 L151.19,315.07 L151.93,315.07 L152.67,315.06 L153.41,315.05 L154.15,315.04 L154.89,315.03 L155.63,315.01 L156.37,314.99 L157.11,314.97 L157.85,314.94 L158.59,314.91 L159.32,314.87 L160.06,314.82 L160.8,314.75 L161.54,314.68 L162.28,314.59 L163.02,314.48 L163.76,314.34 L164.35,314.21 L164.94,314.06 L165.53,313.89 L166.12,313.68 L166.72,313.45 L167.31,313.18 L167.9,312.86 L168.34,312.59 L168.79,312.29 L169.23,311.96 L169.67,311.59 L170.12,311.18 L170.56,310.73 L171,310.23 L171.45,309.69 L171.89,309.08 L172.19,308.65 L172.48,308.19 L172.78,307.71 L173.07,307.19 L173.37,306.64 L173.66,306.07 L173.96,305.46 L174.26,304.82 L174.55,304.15 L174.85,303.45 L175.14,302.71 L175.44,301.94 L175.73,301.13 L176.03,300.28 L176.33,299.41 L176.62,298.49 L176.92,297.55 L177.21,296.56 L177.51,295.55 L177.8,294.5 L178.1,293.41 L178.25,292.86 L178.39,292.3 L178.54,291.73 L178.69,291.15 L178.84,290.57 L178.99,289.97 L179.13,289.37 L179.28,288.77 L179.43,288.15 L179.58,287.53 L179.73,286.9 L179.87,286.26 L180.02,285.62 L180.17,284.97 L180.32,284.32 L180.46,283.66 L180.61,282.99 L180.76,282.32 L180.91,281.64 L181.06,280.95 L181.2,280.26 L181.35,279.57 L181.5,278.87 L181.65,278.16 L181.79,277.45 L181.94,276.73 L182.09,276.01 L182.24,275.29 L182.39,274.56 L182.53,273.83 L182.68,273.09 L182.83,272.35 L182.98,271.61 L183.13,270.86 L183.27,270.11 L183.42,269.36 L183.57,268.6 L183.72,267.84 L183.86,267.08 L184.01,266.32 L184.16,265.55 L184.31,264.78 L184.46,264.01 L184.6,263.24 L184.75,262.46 L184.9,261.68 L185.05,260.91 L185.2,260.13 L185.34,259.34 L185.49,258.56 L185.64,257.78 L185.79,256.99 L185.93,256.21 L186.08,255.42 L186.23,254.63 L186.38,253.84 L186.53,253.06 L186.67,252.27 L186.82,251.48 L186.97,250.69 L187.12,249.9 L187.26,249.11 L187.41,248.32 L187.56,247.53 L187.71,246.74 L187.86,245.96 L188,245.17 L188.15,244.38 L188.3,243.6 L188.45,242.81 L188.6,242.03 L188.74,241.25 L188.89,240.46 L189.04,239.68 L189.19,238.9 L189.33,238.12 L189.48,237.35 L189.63,236.57 L189.78,235.8 L189.93,235.03 L190.07,234.26 L190.22,233.49 L190.37,232.72 L190.52,231.96 L190.66,231.2 L190.81,230.44 L190.96,229.68 L191.11,228.92 L191.26,228.17 L191.4,227.42 L191.55,226.67 L191.7,225.92 L191.85,225.18 L192,224.44 L192.14,223.7 L192.29,222.96 L192.44,222.23 L192.59,221.5 L192.73,220.78 L192.88,220.05 L193.03,219.33 L193.18,218.61 L193.33,217.9 L193.47,217.19 L193.62,216.48 L193.77,215.77 L193.92,215.07 L194.06,214.37 L194.21,213.68 L194.36,212.99 L194.51,212.3 L194.66,211.61 L194.8,210.93 L194.95,210.25 L195.1,209.58 L195.25,208.91 L195.4,208.24 L195.54,207.58 L195.69,206.92 L195.84,206.26 L195.99,205.61 L196.13,204.96 L196.28,204.32 L196.43,203.68 L196.58,203.04 L196.73,202.41 L196.87,201.78 L197.02,201.15 L197.17,200.53 L197.32,199.91 L197.47,199.3 L197.61,198.68 L197.76,198.08 L197.91,197.48 L198.06,196.88 L198.2,196.28 L198.35,195.69 L198.5,195.1 L198.65,194.52 L198.8,193.94 L198.94,193.36 L199.09,192.79 L199.24,192.22 L199.39,191.66 L199.53,191.1 L199.68,190.54 L199.83,189.99 L200.13,188.9 L200.42,187.82 L200.72,186.75 L201.01,185.7 L201.31,184.67 L201.6,183.65 L201.9,182.64 L202.2,181.65 L202.49,180.67 L202.79,179.71 L203.08,178.76 L203.38,177.82 L203.67,176.9 L203.97,175.99 L204.27,175.09 L204.56,174.21 L204.86,173.33 L205.15,172.47 L205.45,171.63 L205.74,170.79 L206.04,169.97 L206.33,169.15 L206.63,168.35 L206.93,167.56 L207.22,166.78 L207.52,166.01 L207.81,165.25 L208.11,164.5 L208.4,163.76 L208.7,163.03 L209,162.31 L209.29,161.6 L209.59,160.9 L209.88,160.21 L210.18,159.52 L210.47,158.85 L210.77,158.18 L211.07,157.53 L211.36,156.88 L211.66,156.24 L211.95,155.6 L212.25,154.98 L212.54,154.36 L212.84,153.75 L213.14,153.14 L213.43,152.55 L213.73,151.96 L214.02,151.38 L214.32,150.8 L214.61,150.23 L214.91,149.67 L215.2,149.11 L215.5,148.56 L215.8,148.02 L216.09,147.48 L216.39,146.95 L216.68,146.42 L216.98,145.9 L217.27,145.39 L217.57,144.88 L217.87,144.38 L218.16,143.88 L218.46,143.39 L218.75,142.9 L219.05,142.42 L219.34,141.94 L219.64,141.47 L219.94,141 L220.23,140.54 L220.53,140.09 L220.82,139.64 L221.12,139.19 L221.41,138.75 L221.71,138.32 L222,137.89 L222.3,137.46 L222.6,137.04 L222.89,136.62 L223.19,136.21 L223.48,135.81 L223.93,135.21 L224.37,134.62 L224.81,134.05 L225.26,133.48 L225.7,132.93 L226.14,132.39 L226.59,131.86 L227.03,131.35 L227.47,130.84 L227.92,130.35 L228.36,129.87 L228.81,129.41 L229.25,128.95 L229.69,128.51 L230.14,128.08 L230.58,127.66 L231.02,127.26 L231.47,126.87 L231.91,126.48 L232.35,126.11 L232.8,125.76 L233.24,125.41 L233.68,125.07 L234.13,124.75 L234.57,124.43 L235.01,124.13 L235.46,123.83 L235.9,123.55 L236.34,123.27 L236.79,123 L237.23,122.75 L237.82,122.41 L238.41,122.09 L239.01,121.78 L239.6,121.49 L240.19,121.21 L240.78,120.93 L241.37,120.67 L241.96,120.42 L242.55,120.18 L243.14,119.94 L243.74,119.72 L244.33,119.5 L244.92,119.29 L245.51,119.08 L246.1,118.89 L246.69,118.7 L247.28,118.51 L247.88,118.33 L248.47,118.16 L249.06,117.99 L249.65,117.83 L250.24,117.67 L250.83,117.51 L251.42,117.36 L252.01,117.21 L252.61,117.07 L253.2,116.93 L253.79,116.8 L254.38,116.66 L254.97,116.54 L255.56,116.41 L256.15,116.29 L256.75,116.17 L257.34,116.05 L257.93,115.93 L258.52,115.82 L259.11,115.71 L259.85,115.58 L260.59,115.45 L261.33,115.32 L262.07,115.19 L262.81,115.07 L263.55,114.95 L264.28,114.84 L265.02,114.72 L265.76,114.61 L266.5,114.51 L267.24,114.4 L267.98,114.3 L268.72,114.19 L269.46,114.1 L270.05,114.1" stroke="#00f" stroke-width="1.5"/>
<path d="M137.15,318.8 L137.89,318.8 L138.63,318.8 L139.37,318.8 L140.11,318.8 L140.85,318.8 L141.58,318.8 L142.32,318.8 L143.06,318.8 L143.8,318.8 L144.54,318.8 L145.28,318.8 L146.02,318.8 L146.76,318.79 L147.5,318.79 L148.24,318.79 L148.98,318.79 L149.72,318.79 L150.45,318.78 L151.19,318.78 L151.93,318.78 L152.67,318.77 L153.41,318.76 L154.15,318.75 L154.89,318.74 L155.63,318.73 L156.37,318.72 L157.11,318.7 L157.85,318.68 L158.59,318.65 L159.32,318.61 L160.06,318.57 L160.8,318.52 L161.54,318.46 L162.28,318.39 L163.02,318.29 L163.76,318.18 L164.5,318.05 L165.09,317.92 L165.68,317.77 L166.27,317.59 L166.86,317.39 L167.46,317.15 L168.05,316.87 L168.64,316.55 L169.08,316.27 L169.52,315.97 L169.97,315.63 L170.41,315.25 L170.86,314.84 L171.3,314.37 L171.74,313.86 L172.19,313.3 L172.48,312.9 L172.78,312.46 L173.07,312.01 L173.37,311.52 L173.66,311 L173.96,310.46 L174.26,309.88 L174.55,309.27 L174.85,308.63 L175.14,307.96 L175.44,307.25 L175.73,306.51 L176.03,305.73 L176.33,304.92 L176.62,304.07 L176.92,303.18 L177.21,302.26 L177.51,301.3 L177.8,300.31 L178.1,299.29 L178.39,298.22 L178.69,297.13 L178.84,296.57 L178.99,296 L179.13,295.43 L179.28,294.84 L179.43,294.25 L179.58,293.65 L179.73,293.04 L179.87,292.43 L180.02,291.81 L180.17,291.18 L180.32,290.54 L180.46,289.9 L180.61,289.25 L180.76,288.59 L180.91,287.93 L181.06,287.26 L181.2,286.58 L181.35,285.9 L181.5,285.21 L181.65,284.52 L181.79,283.82 L181.94,283.12 L182.09,282.41 L182.24,281.7 L182.39,280.98 L182.53,280.25 L182.68,279.53 L182.83,278.79 L182.98,278.06 L183.13,277.32 L183.27,276.57 L183.42,275.82 L183.57,275.07 L183.72,274.32 L183.86,273.56 L184.01,272.8 L184.16,272.03 L184.31,271.27 L184.46,270.5 L184.6,269.73 L184.75,268.95 L184.9,268.17 L185.05,267.4 L185.2,266.62 L185.34,265.83 L185.49,265.05 L185.64,264.26 L185.79,263.48 L185.93,262.69 L186.08,261.9 L186.23,261.11 L186.38,260.32 L186.53,259.52 L186.67,258.73 L186.82,257.94 L186.97,257.15 L187.12,256.35 L187.26,255.56 L187.41,254.76 L187.56,253.97 L187.71,253.17 L187.86,252.38 L188,251.59 L188.15,250.79 L188.3,250 L188.45,249.21 L188.6,248.42 L188.74,247.63 L188.89,246.84 L189.04,246.05 L189.19,245.26 L189.33,244.48 L189.48,243.69 L189.63,242.91 L189.78,242.13 L189.93,241.35 L190.07,240.57 L190.22,239.79 L190.37,239.02 L190.52,238.24 L190.66,237.47 L190.81,236.7 L190.96,235.94 L191.11,235.17 L191.26,234.41 L191.4,233.65 L191.55,232.89 L191.7,232.13 L191.85,231.38 L192,230.63 L192.14,229.88 L192.29,229.13 L192.44,228.39 L192.59,227.65 L192.73,226.91 L192.88,226.18 L193.03,225.45 L193.18,224.72 L193.33,224 L193.47,223.27 L193.62,222.55 L193.77,221.84 L193.92,221.13 L194.06,220.42 L194.21,219.71 L194.36,219.01 L194.51,218.31 L194.66,217.61 L194.8,216.92 L194.95,216.23 L195.1,215.55 L195.25,214.87 L195.4,214.19 L195.54,213.51 L195.69,212.84 L195.84,212.18 L195.99,211.51 L196.13,210.85 L196.28,210.2 L196.43,209.54 L196.58,208.9 L196.73,208.25 L196.87,207.61 L197.02,206.97 L197.17,206.34 L197.32,205.71 L197.47,205.08 L197.61,204.46 L197.76,203.84 L197.91,203.23 L198.06,202.62 L198.2,202.01 L198.35,201.41 L198.5,200.81 L198.65,200.22 L198.8,199.63 L198.94,199.04 L199.09,198.46 L199.24,197.88 L199.39,197.3 L199.53,196.73 L199.68,196.16 L199.83,195.6 L199.98,195.04 L200.13,194.48 L200.27,193.93 L200.57,192.83 L200.87,191.75 L201.16,190.69 L201.46,189.64 L201.75,188.6 L202.05,187.58 L202.34,186.57 L202.64,185.57 L202.93,184.59 L203.23,183.63 L203.53,182.67 L203.82,181.73 L204.12,180.81 L204.41,179.89 L204.71,178.99 L205,178.1 L205.3,177.22 L205.6,176.36 L205.89,175.5 L206.19,174.66 L206.48,173.83 L206.78,173.01 L207.07,172.2 L207.37,171.4 L207.67,170.61 L207.96,169.84 L208.26,169.07 L208.55,168.31 L208.85,167.56 L209.14,166.82 L209.44,166.09 L209.73,165.37 L210.03,164.66 L210.33,163.96 L210.62,163.27 L210.92,162.58 L211.21,161.9 L211.51,161.23 L211.8,160.57 L212.1,159.92 L212.4,159.27 L212.69,158.64 L212.99,158.01 L213.28,157.38 L213.58,156.77 L213.87,156.16 L214.17,155.55 L214.47,154.96 L214.76,154.37 L215.06,153.78 L215.35,153.21 L215.65,152.64 L215.94,152.07 L216.24,151.51 L216.54,150.96 L216.83,150.42 L217.13,149.87 L217.42,149.34 L217.72,148.81 L218.01,148.29 L218.31,147.77 L218.6,147.25 L218.9,146.75 L219.2,146.24 L219.49,145.75 L219.79,145.26 L220.08,144.77 L220.38,144.29 L220.67,143.81 L220.97,143.34 L221.27,142.87 L221.56,142.41 L221.86,141.95 L222.15,141.5 L222.45,141.05 L222.74,140.61 L223.04,140.18 L223.34,139.75 L223.63,139.32 L223.93,138.9 L224.22,138.48 L224.52,138.07 L224.81,137.66 L225.26,137.06 L225.7,136.48 L226.14,135.9 L226.59,135.34 L227.03,134.79 L227.47,134.25 L227.92,133.72 L228.36,133.21 L228.81,132.7 L229.25,132.21 L229.69,131.74 L230.14,131.27 L230.58,130.82 L231.02,130.38 L231.47,129.95 L231.91,129.53 L232.35,129.13 L232.8,128.73 L233.24,128.35 L233.68,127.98 L234.13,127.62 L234.57,127.27 L235.01,126.93 L235.46,126.6 L235.9,126.28 L236.34,125.97 L236.79,125.66 L237.23,125.37 L237.68,125.08 L238.12,124.8 L238.56,124.53 L239.01,124.27 L239.45,124.01 L240.04,123.68 L240.63,123.35 L241.22,123.04 L241.81,122.74 L242.41,122.45 L243,122.16 L243.59,121.89 L244.18,121.62 L244.77,121.36 L245.36,121.11 L245.95,120.86 L246.54,120.62 L247.14,120.39 L247.73,120.16 L248.32,119.94 L248.91,119.72 L249.5,119.51 L250.09,119.3 L250.68,119.1 L251.28,118.9 L251.87,118.7 L252.46,118.51 L253.05,118.33 L253.64,118.14 L254.23,117.96 L254.82,117.78 L255.41,117.61 L256.01,117.44 L256.6,117.27 L257.19,117.11 L257.78,116.94 L258.37,116.78 L258.96,116.63 L259.55,116.47 L260.15,116.32 L260.74,116.16 L261.33,116.02 L261.92,115.87 L262.51,115.72 L263.1,115.58 L263.69,115.44 L264.28,115.3 L264.88,115.16 L265.47,115.02 L266.06,114.89 L266.65,114.76 L267.24,114.62 L267.83,114.49 L268.42,114.37 L269.02,114.24 L269.75,114.12 L270.05,114.1" stroke="#00f" stroke-width="1.5"/>
<path d="M137.15,325.5 L137.89,325.5 L138.63,325.5 L139.37,325.5 L140.11,325.5 L140.85,325.5 L141.58,325.5 L142.32,325.5 L143.06,325.5 L143.8,325.5 L144.54,325.5 L145.28,325.5 L146.02,325.49 L146.76,325.49 L147.5,325.49 L148.24,325.49 L148.98,325.49 L149.72,325.48 L150.45,325.48 L151.19,325.48 L151.93,325.47 L152.67,325.46 L153.41,325.46 L154.15,325.45 L154.89,325.43 L155.63,325.42 L156.37,325.4 L157.11,325.38 L157.85,325.35 L158.59,325.32 L159.32,325.28 L160.06,325.24 L160.8,325.18 L161.54,325.11 L162.28,325.02 L163.02,324.92 L163.76,324.79 L164.35,324.67 L164.94,324.53 L165.53,324.37 L166.12,324.18 L166.72,323.96 L167.31,323.7 L167.9,323.41 L168.49,323.06 L168.93,322.77 L169.38,322.45 L169.82,322.09 L170.26,321.69 L170.71,321.25 L171.15,320.77 L171.59,320.23 L172.04,319.64 L172.33,319.22 L172.63,318.77 L172.93,318.3 L173.22,317.79 L173.52,317.26 L173.81,316.69 L174.11,316.1 L174.4,315.47 L174.7,314.81 L174.99,314.12 L175.29,313.4 L175.59,312.64 L175.88,311.84 L176.18,311.01 L176.47,310.14 L176.77,309.24 L177.06,308.31 L177.36,307.34 L177.66,306.34 L177.95,305.3 L178.25,304.23 L178.54,303.12 L178.69,302.56 L178.84,301.98 L178.99,301.4 L179.13,300.82 L179.28,300.22 L179.43,299.62 L179.58,299.01 L179.73,298.39 L179.87,297.77 L180.02,297.13 L180.17,296.5 L180.32,295.85 L180.46,295.2 L180.61,294.54 L180.76,293.88 L180.91,293.21 L181.06,292.53 L181.2,291.85 L181.35,291.16 L181.5,290.47 L181.65,289.77 L181.79,289.07 L181.94,288.36 L182.09,287.65 L182.24,286.93 L182.39,286.21 L182.53,285.48 L182.68,284.75 L182.83,284.01 L182.98,283.27 L183.13,282.53 L183.27,281.79 L183.42,281.04 L183.57,280.28 L183.72,279.53 L183.86,278.77 L184.01,278 L184.16,277.24 L184.31,276.47 L184.46,275.7 L184.6,274.93 L184.75,274.15 L184.9,273.38 L185.05,272.6 L185.2,271.82 L185.34,271.04 L185.49,270.25 L185.64,269.47 L185.79,268.68 L185.93,267.89 L186.08,267.1 L186.23,266.32 L186.38,265.52 L186.53,264.73 L186.67,263.94 L186.82,263.15 L186.97,262.36 L187.12,261.56 L187.26,260.77 L187.41,259.98 L187.56,259.18 L187.71,258.39 L187.86,257.6 L188,256.8 L188.15,256.01 L188.3,255.22 L188.45,254.43 L188.6,253.64 L188.74,252.85 L188.89,252.06 L189.04,251.27 L189.19,250.49 L189.33,249.7 L189.48,248.92 L189.63,248.13 L189.78,247.35 L189.93,246.57 L190.07,245.79 L190.22,245.01 L190.37,244.24 L190.52,243.46 L190.66,242.69 L190.81,241.92 L190.96,241.15 L191.11,240.39 L191.26,239.62 L191.4,238.86 L191.55,238.1 L191.7,237.35 L191.85,236.59 L192,235.84 L192.14,235.09 L192.29,234.34 L192.44,233.6 L192.59,232.85 L192.73,232.12 L192.88,231.38 L193.03,230.65 L193.18,229.91 L193.33,229.19 L193.47,228.46 L193.62,227.74 L193.77,227.02 L193.92,226.31 L194.06,225.59 L194.21,224.89 L194.36,224.18 L194.51,223.48 L194.66,222.78 L194.8,222.08 L194.95,221.39 L195.1,220.7 L195.25,220.02 L195.4,219.34 L195.54,218.66 L195.69,217.98 L195.84,217.31 L195.99,216.65 L196.13,215.98 L196.28,215.32 L196.43,214.67 L196.58,214.02 L196.73,213.37 L196.87,212.72 L197.02,212.08 L197.17,211.45 L197.32,210.81 L197.47,210.18 L197.61,209.56 L197.76,208.94 L197.91,208.32 L198.06,207.71 L198.2,207.1 L198.35,206.49 L198.5,205.89 L198.65,205.29 L198.8,204.7 L198.94,204.11 L199.09,203.52 L199.24,202.94 L199.39,202.36 L199.53,201.79 L199.68,201.21 L199.83,200.65 L199.98,200.08 L200.13,199.53 L200.27,198.97 L200.57,197.87 L200.87,196.79 L201.16,195.72 L201.46,194.67 L201.75,193.63 L202.05,192.6 L202.34,191.59 L202.64,190.6 L202.93,189.62 L203.23,188.65 L203.53,187.7 L203.82,186.76 L204.12,185.83 L204.41,184.92 L204.71,184.02 L205,183.14 L205.3,182.26 L205.6,181.4 L205.89,180.55 L206.19,179.72 L206.48,178.89 L206.78,178.08 L207.07,177.28 L207.37,176.49 L207.67,175.71 L207.96,174.94 L208.26,174.18 L208.55,173.43 L208.85,172.69 L209.14,171.97 L209.44,171.25 L209.73,170.54 L210.03,169.84 L210.33,169.15 L210.62,168.47 L210.92,167.8 L211.21,167.13 L211.51,166.48 L211.8,165.83 L212.1,165.2 L212.4,164.57 L212.69,163.94 L212.99,163.33 L213.28,162.72 L213.58,162.12 L213.87,161.53 L214.17,160.95 L214.47,160.37 L214.76,159.8 L215.06,159.24 L215.35,158.68 L215.65,158.13 L215.94,157.59 L216.24,157.05 L216.54,156.52 L216.83,155.99 L217.13,155.47 L217.42,154.96 L217.72,154.45 L218.01,153.95 L218.31,153.46 L218.6,152.97 L218.9,152.49 L219.2,152.01 L219.49,151.54 L219.79,151.07 L220.08,150.61 L220.38,150.16 L220.67,149.71 L220.97,149.27 L221.27,148.83 L221.56,148.4 L221.86,147.97 L222.15,147.55 L222.45,147.13 L222.74,146.72 L223.19,146.12 L223.63,145.53 L224.07,144.95 L224.52,144.38 L224.96,143.83 L225.41,143.29 L225.85,142.77 L226.29,142.26 L226.74,141.76 L227.18,141.27 L227.62,140.8 L228.07,140.34 L228.51,139.9 L228.95,139.47 L229.4,139.05 L229.84,138.64 L230.28,138.25 L230.73,137.87 L231.17,137.5 L231.61,137.14 L232.06,136.8 L232.5,136.47 L232.94,136.14 L233.39,135.83 L233.83,135.53 L234.27,135.24 L234.72,134.95 L235.16,134.68 L235.61,134.42 L236.2,134.08 L236.79,133.75 L237.38,133.44 L237.97,133.14 L238.56,132.85 L239.15,132.58 L239.74,132.31 L240.34,132.06 L240.93,131.81 L241.52,131.58 L242.11,131.35 L242.7,131.13 L243.29,130.91 L243.88,130.71 L244.48,130.51 L245.07,130.32 L245.66,130.13 L246.25,129.95 L246.84,129.78 L247.43,129.61 L248.02,129.44 L248.61,129.28 L249.21,129.13 L249.8,128.97 L250.39,128.83 L250.98,128.68 L251.57,128.54 L252.16,128.41 L252.75,128.27 L253.35,128.15 L253.94,128.02 L254.53,127.9 L255.12,127.77 L255.71,127.66 L256.3,127.54 L256.89,127.43 L257.48,127.32 L258.22,127.18 L258.96,127.05 L259.7,126.93 L260.44,126.8 L261.18,126.68 L261.92,126.56 L262.66,126.44 L263.4,126.33 L264.14,126.22 L264.88,126.11 L265.62,126 L266.35,125.9 L267.09,125.8 L267.83,125.7 L268.57,125.6 L269.31,125.5 L270.05,125.5" stroke="#00f" stroke-width="1.5"/>
<path d="M137.15,333.3 L137.89,333.3 L138.63,333.3 L139.37,333.3 L140.11,333.3 L140.85,333.3 L141.58,333.3 L142.32,333.3 L143.06,333.3 L143.8,333.3 L144.54,333.3 L145.28,333.3 L146.02,333.29 L146.76,333.29 L147.5,333.29 L148.24,333.29 L148.98,333.29 L149.72,333.28 L150.45,333.28 L151.19,333.28 L151.93,333.27 L152.67,333.26 L153.41,333.26 L154.15,333.25 L154.89,333.23 L155.63,333.22 L156.37,333.2 L157.11,333.18 L157.85,333.15 L158.59,333.12 L159.32,333.08 L160.06,333.03 L160.8,332.97 L161.54,332.9 L162.28,332.81 L163.02,332.7 L163.76,332.57 L164.35,332.44 L164.94,332.3 L165.53,332.13 L166.12,331.93 L166.72,331.7 L167.31,331.43 L167.9,331.12 L168.34,330.85 L168.79,330.56 L169.23,330.23 L169.67,329.86 L170.12,329.46 L170.56,329.01 L171,328.51 L171.45,327.96 L171.89,327.36 L172.19,326.93 L172.48,326.47 L172.78,325.98 L173.07,325.47 L173.37,324.92 L173.66,324.34 L173.96,323.73 L174.26,323.09 L174.55,322.41 L174.85,321.7 L175.14,320.96 L175.44,320.18 L175.73,319.36 L176.03,318.51 L176.33,317.62 L176.62,316.7 L176.92,315.74 L177.21,314.74 L177.51,313.71 L177.8,312.65 L178.1,311.55 L178.25,310.99 L178.39,310.42 L178.54,309.84 L178.69,309.25 L178.84,308.66 L178.99,308.06 L179.13,307.45 L179.28,306.83 L179.43,306.21 L179.58,305.57 L179.73,304.94 L179.87,304.29 L180.02,303.64 L180.17,302.98 L180.32,302.31 L180.46,301.64 L180.61,300.96 L180.76,300.27 L180.91,299.58 L181.06,298.89 L181.2,298.19 L181.35,297.48 L181.5,296.76 L181.65,296.05 L181.79,295.32 L181.94,294.59 L182.09,293.86 L182.24,293.13 L182.39,292.38 L182.53,291.64 L182.68,290.89 L182.83,290.13 L182.98,289.38 L183.13,288.62 L183.27,287.85 L183.42,287.08 L183.57,286.31 L183.72,285.54 L183.86,284.76 L184.01,283.98 L184.16,283.2 L184.31,282.42 L184.46,281.63 L184.6,280.84 L184.75,280.05 L184.9,279.26 L185.05,278.46 L185.2,277.67 L185.34,276.87 L185.49,276.07 L185.64,275.27 L185.79,274.47 L185.93,273.66 L186.08,272.86 L186.23,272.06 L186.38,271.25 L186.53,270.45 L186.67,269.64 L186.82,268.83 L186.97,268.03 L187.12,267.22 L187.26,266.41 L187.41,265.61 L187.56,264.8 L187.71,263.99 L187.86,263.19 L188,262.38 L188.15,261.57 L188.3,260.77 L188.45,259.97 L188.6,259.16 L188.74,258.36 L188.89,257.56 L189.04,256.76 L189.19,255.96 L189.33,255.16 L189.48,254.36 L189.63,253.57 L189.78,252.77 L189.93,251.98 L190.07,251.19 L190.22,250.4 L190.37,249.61 L190.52,248.83 L190.66,248.04 L190.81,247.26 L190.96,246.48 L191.11,245.7 L191.26,244.93 L191.4,244.16 L191.55,243.38 L191.7,242.62 L191.85,241.85 L192,241.09 L192.14,240.33 L192.29,239.57 L192.44,238.81 L192.59,238.06 L192.73,237.31 L192.88,236.56 L193.03,235.82 L193.18,235.07 L193.33,234.34 L193.47,233.6 L193.62,232.87 L193.77,232.14 L193.92,231.41 L194.06,230.69 L194.21,229.97 L194.36,229.25 L194.51,228.54 L194.66,227.83 L194.8,227.12 L194.95,226.42 L195.1,225.72 L195.25,225.03 L195.4,224.34 L195.54,223.65 L195.69,222.96 L195.84,222.28 L195.99,221.6 L196.13,220.93 L196.28,220.26 L196.43,219.59 L196.58,218.93 L196.73,218.27 L196.87,217.62 L197.02,216.97 L197.17,216.32 L197.32,215.68 L197.47,215.04 L197.61,214.4 L197.76,213.77 L197.91,213.14 L198.06,212.52 L198.2,211.9 L198.35,211.28 L198.5,210.67 L198.65,210.06 L198.8,209.46 L198.94,208.86 L199.09,208.26 L199.24,207.67 L199.39,207.08 L199.53,206.5 L199.68,205.91 L199.83,205.34 L199.98,204.76 L200.13,204.2 L200.27,203.63 L200.42,203.07 L200.57,202.51 L200.72,201.96 L201.01,200.86 L201.31,199.78 L201.6,198.71 L201.9,197.66 L202.2,196.63 L202.49,195.6 L202.79,194.6 L203.08,193.6 L203.38,192.62 L203.67,191.66 L203.97,190.7 L204.27,189.77 L204.56,188.84 L204.86,187.93 L205.15,187.03 L205.45,186.14 L205.74,185.27 L206.04,184.4 L206.33,183.55 L206.63,182.71 L206.93,181.89 L207.22,181.07 L207.52,180.27 L207.81,179.47 L208.11,178.69 L208.4,177.91 L208.7,177.15 L209,176.4 L209.29,175.66 L209.59,174.92 L209.88,174.2 L210.18,173.49 L210.47,172.78 L210.77,172.09 L211.07,171.4 L211.36,170.72 L211.66,170.05 L211.95,169.39 L212.25,168.73 L212.54,168.09 L212.84,167.45 L213.14,166.82 L213.43,166.2 L213.73,165.58 L214.02,164.98 L214.32,164.37 L214.61,163.78 L214.91,163.19 L215.2,162.61 L215.5,162.04 L215.8,161.47 L216.09,160.91 L216.39,160.36 L216.68,159.81 L216.98,159.27 L217.27,158.73 L217.57,158.21 L217.87,157.68 L218.16,157.16 L218.46,156.65 L218.75,156.15 L219.05,155.65 L219.34,155.15 L219.64,154.66 L219.94,154.18 L220.23,153.7 L220.53,153.23 L220.82,152.77 L221.12,152.31 L221.41,151.85 L221.71,151.4 L222,150.96 L222.3,150.52 L222.6,150.09 L222.89,149.66 L223.19,149.24 L223.48,148.83 L223.78,148.42 L224.22,147.81 L224.67,147.22 L225.11,146.65 L225.55,146.08 L226,145.53 L226.44,145 L226.88,144.47 L227.33,143.96 L227.77,143.47 L228.21,142.98 L228.66,142.51 L229.1,142.05 L229.54,141.61 L229.99,141.18 L230.43,140.76 L230.87,140.36 L231.32,139.96 L231.76,139.58 L232.21,139.21 L232.65,138.85 L233.09,138.5 L233.54,138.16 L233.98,137.84 L234.42,137.52 L234.87,137.21 L235.31,136.91 L235.75,136.62 L236.2,136.33 L236.64,136.06 L237.08,135.79 L237.53,135.53 L238.12,135.2 L238.71,134.87 L239.3,134.56 L239.89,134.26 L240.48,133.97 L241.08,133.68 L241.67,133.41 L242.26,133.14 L242.85,132.89 L243.44,132.63 L244.03,132.39 L244.62,132.16 L245.21,131.93 L245.81,131.7 L246.4,131.48 L246.99,131.27 L247.58,131.06 L248.17,130.86 L248.76,130.66 L249.35,130.47 L249.94,130.28 L250.54,130.09 L251.13,129.91 L251.72,129.73 L252.31,129.56 L252.9,129.39 L253.49,129.22 L254.08,129.05 L254.68,128.89 L255.27,128.73 L255.86,128.57 L256.45,128.42 L257.04,128.27 L257.63,128.12 L258.22,127.97 L258.81,127.83 L259.41,127.69 L260,127.55 L260.59,127.41 L261.18,127.27 L261.77,127.14 L262.36,127 L262.95,126.87 L263.55,126.74 L264.14,126.61 L264.73,126.49 L265.32,126.36 L265.91,126.24 L266.5,126.12 L267.09,125.99 L267.68,125.88 L268.28,125.76 L268.87,125.64 L269.61,125.53 L270.05,125.5" stroke="#00f" stroke-width="1.5"/>
<path d="M137.15,339.7 L137.89,339.7 L138.63,339.7 L139.37,339.7 L140.11,339.7 L140.85,339.7 L141.58,339.7 L142.32,339.7 L143.06,339.7 L143.8,339.7 L144.54,339.7 L145.28,339.69 L146.02,339.69 L146.76,339.69 L147.5,339.69 L148.24,339.69 L148.98,339.68 L149.72,339.68 L150.45,339.68 L151.19,339.67 L151.93,339.66 L152.67,339.66 L153.41,339.65 L154.15,339.63 L154.89,339.62 L155.63,339.6 L156.37,339.58 L157.11,339.56 L157.85,339.52 L158.59,339.49 L159.32,339.44 L160.06,339.38 L160.8,339.31 L161.54,339.23 L162.28,339.12 L163.02,339 L163.61,338.88 L164.2,338.74 L164.79,338.58 L165.39,338.39 L165.98,338.17 L166.57,337.92 L167.16,337.62 L167.75,337.28 L168.19,336.99 L168.64,336.67 L169.08,336.31 L169.52,335.92 L169.97,335.48 L170.41,335 L170.86,334.47 L171.3,333.88 L171.59,333.46 L171.89,333.02 L172.19,332.54 L172.48,332.04 L172.78,331.51 L173.07,330.95 L173.37,330.35 L173.66,329.73 L173.96,329.07 L174.26,328.38 L174.55,327.66 L174.85,326.9 L175.14,326.1 L175.44,325.27 L175.73,324.41 L176.03,323.51 L176.33,322.58 L176.62,321.61 L176.92,320.6 L177.21,319.56 L177.51,318.49 L177.8,317.38 L177.95,316.82 L178.1,316.25 L178.25,315.66 L178.39,315.08 L178.54,314.48 L178.69,313.87 L178.84,313.26 L178.99,312.64 L179.13,312.02 L179.28,311.38 L179.43,310.74 L179.58,310.1 L179.73,309.44 L179.87,308.78 L180.02,308.11 L180.17,307.44 L180.32,306.76 L180.46,306.08 L180.61,305.39 L180.76,304.69 L180.91,303.99 L181.06,303.28 L181.2,302.57 L181.35,301.85 L181.5,301.13 L181.65,300.4 L181.79,299.67 L181.94,298.93 L182.09,298.19 L182.24,297.45 L182.39,296.7 L182.53,295.95 L182.68,295.19 L182.83,294.43 L182.98,293.67 L183.13,292.9 L183.27,292.13 L183.42,291.36 L183.57,290.58 L183.72,289.81 L183.86,289.03 L184.01,288.24 L184.16,287.46 L184.31,286.67 L184.46,285.88 L184.6,285.09 L184.75,284.29 L184.9,283.5 L185.05,282.7 L185.2,281.9 L185.34,281.11 L185.49,280.3 L185.64,279.5 L185.79,278.7 L185.93,277.9 L186.08,277.09 L186.23,276.29 L186.38,275.48 L186.53,274.67 L186.67,273.87 L186.82,273.06 L186.97,272.25 L187.12,271.44 L187.26,270.64 L187.41,269.83 L187.56,269.02 L187.71,268.22 L187.86,267.41 L188,266.6 L188.15,265.8 L188.3,264.99 L188.45,264.19 L188.6,263.38 L188.74,262.58 L188.89,261.78 L189.04,260.98 L189.19,260.18 L189.33,259.38 L189.48,258.58 L189.63,257.78 L189.78,256.99 L189.93,256.2 L190.07,255.4 L190.22,254.61 L190.37,253.82 L190.52,253.04 L190.66,252.25 L190.81,251.47 L190.96,250.69 L191.11,249.91 L191.26,249.13 L191.4,248.36 L191.55,247.59 L191.7,246.81 L191.85,246.05 L192,245.28 L192.14,244.52 L192.29,243.76 L192.44,243 L192.59,242.24 L192.73,241.49 L192.88,240.74 L193.03,239.99 L193.18,239.25 L193.33,238.51 L193.47,237.77 L193.62,237.03 L193.77,236.3 L193.92,235.57 L194.06,234.85 L194.21,234.12 L194.36,233.41 L194.51,232.69 L194.66,231.98 L194.8,231.27 L194.95,230.56 L195.1,229.86 L195.25,229.16 L195.4,228.46 L195.54,227.77 L195.69,227.08 L195.84,226.4 L195.99,225.72 L196.13,225.04 L196.28,224.37 L196.43,223.7 L196.58,223.03 L196.73,222.37 L196.87,221.71 L197.02,221.05 L197.17,220.4 L197.32,219.76 L197.47,219.11 L197.61,218.47 L197.76,217.84 L197.91,217.21 L198.06,216.58 L198.2,215.96 L198.35,215.34 L198.5,214.72 L198.65,214.11 L198.8,213.5 L198.94,212.9 L199.09,212.3 L199.24,211.7 L199.39,211.11 L199.53,210.52 L199.68,209.94 L199.83,209.36 L199.98,208.78 L200.13,208.21 L200.27,207.64 L200.42,207.08 L200.57,206.52 L200.72,205.96 L200.87,205.41 L201.16,204.32 L201.46,203.24 L201.75,202.18 L202.05,201.13 L202.34,200.1 L202.64,199.08 L202.93,198.08 L203.23,197.09 L203.53,196.12 L203.82,195.16 L204.12,194.21 L204.41,193.28 L204.71,192.36 L205,191.46 L205.3,190.57 L205.6,189.69 L205.89,188.83 L206.19,187.97 L206.48,187.13 L206.78,186.3 L207.07,185.49 L207.37,184.68 L207.67,183.89 L207.96,183.11 L208.26,182.34 L208.55,181.58 L208.85,180.83 L209.14,180.09 L209.44,179.36 L209.73,178.64 L210.03,177.93 L210.33,177.24 L210.62,176.55 L210.92,175.87 L211.21,175.19 L211.51,174.53 L211.8,173.88 L212.1,173.24 L212.4,172.6 L212.69,171.97 L212.99,171.35 L213.28,170.74 L213.58,170.14 L213.87,169.54 L214.17,168.95 L214.47,168.37 L214.76,167.8 L215.06,167.23 L215.35,166.67 L215.65,166.12 L215.94,165.57 L216.24,165.03 L216.54,164.5 L216.83,163.98 L217.13,163.46 L217.42,162.95 L217.72,162.44 L218.01,161.94 L218.31,161.45 L218.6,160.96 L218.9,160.48 L219.2,160.01 L219.49,159.54 L219.79,159.08 L220.08,158.62 L220.38,158.17 L220.67,157.73 L220.97,157.29 L221.27,156.86 L221.56,156.44 L221.86,156.02 L222.15,155.6 L222.45,155.2 L222.89,154.6 L223.34,154.02 L223.78,153.45 L224.22,152.89 L224.67,152.35 L225.11,151.83 L225.55,151.31 L226,150.82 L226.44,150.33 L226.88,149.87 L227.33,149.41 L227.77,148.97 L228.21,148.54 L228.66,148.13 L229.1,147.73 L229.54,147.34 L229.99,146.97 L230.43,146.61 L230.87,146.26 L231.32,145.92 L231.76,145.6 L232.21,145.28 L232.65,144.98 L233.09,144.68 L233.54,144.4 L233.98,144.12 L234.42,143.86 L234.87,143.6 L235.46,143.27 L236.05,142.95 L236.64,142.65 L237.23,142.36 L237.82,142.08 L238.41,141.81 L239.01,141.55 L239.6,141.3 L240.19,141.06 L240.78,140.83 L241.37,140.61 L241.96,140.4 L242.55,140.19 L243.14,139.99 L243.74,139.8 L244.33,139.61 L244.92,139.43 L245.51,139.25 L246.1,139.08 L246.69,138.91 L247.28,138.76 L247.88,138.6 L248.47,138.45 L249.06,138.3 L249.65,138.15 L250.24,138.01 L250.83,137.88 L251.42,137.74 L252.01,137.61 L252.61,137.49 L253.2,137.36 L253.79,137.24 L254.38,137.12 L254.97,137.01 L255.56,136.9 L256.15,136.78 L256.75,136.67 L257.48,136.54 L258.22,136.41 L258.96,136.29 L259.7,136.17 L260.44,136.05 L261.18,135.93 L261.92,135.82 L262.66,135.7 L263.4,135.6 L264.14,135.49 L264.88,135.38 L265.62,135.28 L266.35,135.18 L267.09,135.08 L267.83,134.99 L268.57,134.89 L269.31,134.8 L270.05,134.8" stroke="#00f" stroke-width="1.5"/>
<path d="M137.15,341.9 L137.89,341.9 L138.63,341.9 L139.37,341.9 L140.11,341.9 L140.85,341.9 L141.58,341.9 L142.32,341.9 L143.06,341.9 L143.8,341.9 L144.54,341.9 L145.28,341.89 L146.02,341.89 L146.76,341.89 L147.5,341.89 L148.24,341.89 L148.98,341.89 L149.72,341.88 L150.45,341.88 L151.19,341.87 L151.93,341.87 L152.67,341.86 L153.41,341.85 L154.15,341.84 L154.89,341.83 L155.63,341.81 L156.37,341.8 L157.11,341.77 L157.85,341.74 L158.59,341.71 L159.32,341.67 L160.06,341.62 L160.8,341.55 L161.54,341.48 L162.28,341.38 L163.02,341.27 L163.76,341.13 L164.35,341 L164.94,340.85 L165.53,340.67 L166.12,340.47 L166.72,340.22 L167.31,339.95 L167.9,339.62 L168.34,339.35 L168.79,339.04 L169.23,338.7 L169.67,338.32 L170.12,337.9 L170.56,337.44 L171,336.93 L171.45,336.36 L171.74,335.96 L172.04,335.53 L172.33,335.07 L172.63,334.58 L172.93,334.07 L173.22,333.52 L173.52,332.94 L173.81,332.34 L174.11,331.7 L174.4,331.02 L174.7,330.31 L174.99,329.57 L175.29,328.79 L175.59,327.98 L175.88,327.13 L176.18,326.25 L176.47,325.33 L176.77,324.37 L177.06,323.38 L177.36,322.35 L177.66,321.29 L177.95,320.2 L178.1,319.64 L178.25,319.07 L178.39,318.49 L178.54,317.91 L178.69,317.32 L178.84,316.72 L178.99,316.11 L179.13,315.49 L179.28,314.87 L179.43,314.24 L179.58,313.6 L179.73,312.96 L179.87,312.31 L180.02,311.65 L180.17,310.98 L180.32,310.31 L180.46,309.64 L180.61,308.95 L180.76,308.26 L180.91,307.57 L181.06,306.87 L181.2,306.16 L181.35,305.45 L181.5,304.73 L181.65,304.01 L181.79,303.28 L181.94,302.55 L182.09,301.81 L182.24,301.07 L182.39,300.33 L182.53,299.58 L182.68,298.82 L182.83,298.07 L182.98,297.31 L183.13,296.54 L183.27,295.77 L183.42,295 L183.57,294.23 L183.72,293.45 L183.86,292.67 L184.01,291.89 L184.16,291.1 L184.31,290.32 L184.46,289.53 L184.6,288.73 L184.75,287.94 L184.9,287.14 L185.05,286.35 L185.2,285.55 L185.34,284.74 L185.49,283.94 L185.64,283.14 L185.79,282.33 L185.93,281.53 L186.08,280.72 L186.23,279.91 L186.38,279.1 L186.53,278.29 L186.67,277.48 L186.82,276.67 L186.97,275.86 L187.12,275.05 L187.26,274.24 L187.41,273.43 L187.56,272.62 L187.71,271.81 L187.86,271 L188,270.19 L188.15,269.38 L188.3,268.57 L188.45,267.76 L188.6,266.95 L188.74,266.14 L188.89,265.33 L189.04,264.53 L189.19,263.72 L189.33,262.92 L189.48,262.12 L189.63,261.32 L189.78,260.52 L189.93,259.72 L190.07,258.92 L190.22,258.13 L190.37,257.33 L190.52,256.54 L190.66,255.75 L190.81,254.96 L190.96,254.17 L191.11,253.39 L191.26,252.61 L191.4,251.83 L191.55,251.05 L191.7,250.27 L191.85,249.5 L192,248.73 L192.14,247.96 L192.29,247.19 L192.44,246.43 L192.59,245.67 L192.73,244.91 L192.88,244.15 L193.03,243.4 L193.18,242.65 L193.33,241.9 L193.47,241.16 L193.62,240.42 L193.77,239.68 L193.92,238.94 L194.06,238.21 L194.21,237.48 L194.36,236.76 L194.51,236.03 L194.66,235.31 L194.8,234.6 L194.95,233.89 L195.1,233.18 L195.25,232.47 L195.4,231.77 L195.54,231.07 L195.69,230.38 L195.84,229.69 L195.99,229 L196.13,228.32 L196.28,227.64 L196.43,226.96 L196.58,226.29 L196.73,225.62 L196.87,224.95 L197.02,224.29 L197.17,223.63 L197.32,222.98 L197.47,222.33 L197.61,221.69 L197.76,221.04 L197.91,220.41 L198.06,219.77 L198.2,219.14 L198.35,218.52 L198.5,217.89 L198.65,217.28 L198.8,216.66 L198.94,216.05 L199.09,215.45 L199.24,214.84 L199.39,214.24 L199.53,213.65 L199.68,213.06 L199.83,212.47 L199.98,211.89 L200.13,211.31 L200.27,210.74 L200.42,210.17 L200.57,209.6 L200.72,209.04 L200.87,208.48 L201.01,207.92 L201.31,206.83 L201.6,205.74 L201.9,204.68 L202.2,203.62 L202.49,202.59 L202.79,201.56 L203.08,200.56 L203.38,199.56 L203.67,198.58 L203.97,197.62 L204.27,196.67 L204.56,195.73 L204.86,194.8 L205.15,193.89 L205.45,193 L205.74,192.11 L206.04,191.24 L206.33,190.38 L206.63,189.53 L206.93,188.7 L207.22,187.87 L207.52,187.06 L207.81,186.26 L208.11,185.47 L208.4,184.69 L208.7,183.93 L209,183.17 L209.29,182.42 L209.59,181.69 L209.88,180.96 L210.18,180.24 L210.47,179.54 L210.77,178.84 L211.07,178.15 L211.36,177.47 L211.66,176.8 L211.95,176.14 L212.25,175.48 L212.54,174.84 L212.84,174.2 L213.14,173.57 L213.43,172.95 L213.73,172.34 L214.02,171.73 L214.32,171.14 L214.61,170.54 L214.91,169.96 L215.2,169.39 L215.5,168.82 L215.8,168.25 L216.09,167.7 L216.39,167.15 L216.68,166.61 L216.98,166.07 L217.27,165.55 L217.57,165.02 L217.87,164.51 L218.16,164 L218.46,163.5 L218.75,163 L219.05,162.51 L219.34,162.02 L219.64,161.55 L219.94,161.07 L220.23,160.61 L220.53,160.15 L220.82,159.7 L221.12,159.25 L221.41,158.81 L221.71,158.37 L222,157.94 L222.3,157.52 L222.6,157.11 L222.89,156.7 L223.34,156.09 L223.78,155.5 L224.22,154.93 L224.67,154.37 L225.11,153.82 L225.55,153.29 L226,152.77 L226.44,152.27 L226.88,151.78 L227.33,151.31 L227.77,150.85 L228.21,150.4 L228.66,149.97 L229.1,149.55 L229.54,149.14 L229.99,148.75 L230.43,148.37 L230.87,148 L231.32,147.64 L231.76,147.3 L232.21,146.96 L232.65,146.64 L233.09,146.32 L233.54,146.02 L233.98,145.73 L234.42,145.44 L234.87,145.16 L235.31,144.89 L235.75,144.63 L236.34,144.3 L236.94,143.97 L237.53,143.66 L238.12,143.36 L238.71,143.07 L239.3,142.79 L239.89,142.52 L240.48,142.26 L241.08,142.01 L241.67,141.76 L242.26,141.53 L242.85,141.3 L243.44,141.08 L244.03,140.86 L244.62,140.65 L245.21,140.44 L245.81,140.24 L246.4,140.05 L246.99,139.86 L247.58,139.67 L248.17,139.49 L248.76,139.32 L249.35,139.14 L249.94,138.98 L250.54,138.81 L251.13,138.65 L251.72,138.49 L252.31,138.34 L252.9,138.19 L253.49,138.04 L254.08,137.89 L254.68,137.75 L255.27,137.61 L255.86,137.47 L256.45,137.33 L257.04,137.2 L257.63,137.07 L258.22,136.94 L258.81,136.81 L259.41,136.69 L260,136.56 L260.59,136.44 L261.18,136.32 L261.77,136.21 L262.36,136.09 L262.95,135.98 L263.55,135.86 L264.14,135.75 L264.73,135.64 L265.47,135.51 L266.21,135.37 L266.95,135.24 L267.68,135.11 L268.42,134.98 L269.16,134.86 L269.9,134.8 L270.05,134.8" stroke="#00f" stroke-width="1.5"/>
<path d="M137.15,351.6 L137.89,351.6 L138.63,351.6 L139.37,351.6 L140.11,351.6 L140.85,351.6 L141.58,351.6 L142.32,351.6 L143.06,351.6 L143.8,351.6 L144.54,351.59 L145.28,351.59 L146.02,351.59 L146.76,351.59 L147.5,351.59 L148.24,351.59 L148.98,351.58 L149.72,351.58 L150.45,351.57 L151.19,351.57 L151.93,351.56 L152.67,351.55 L153.41,351.54 L154.15,351.53 L154.89,351.52 L155.63,351.5 L156.37,351.48 L157.11,351.45 L157.85,351.42 L158.59,351.37 L159.32,351.33 L160.06,351.26 L160.8,351.19 L161.54,351.1 L162.28,350.99 L163.02,350.86 L163.61,350.74 L164.2,350.59 L164.79,350.42 L165.39,350.23 L165.98,350 L166.57,349.73 L167.16,349.42 L167.6,349.16 L168.05,348.87 L168.49,348.55 L168.93,348.19 L169.38,347.79 L169.82,347.35 L170.26,346.86 L170.71,346.32 L171.15,345.74 L171.45,345.31 L171.74,344.86 L172.04,344.38 L172.33,343.88 L172.63,343.34 L172.93,342.78 L173.22,342.18 L173.52,341.55 L173.81,340.89 L174.11,340.19 L174.4,339.46 L174.7,338.7 L174.99,337.9 L175.29,337.06 L175.59,336.19 L175.88,335.29 L176.18,334.35 L176.47,333.37 L176.77,332.36 L177.06,331.31 L177.36,330.23 L177.51,329.68 L177.66,329.12 L177.8,328.55 L177.95,327.97 L178.1,327.39 L178.25,326.79 L178.39,326.19 L178.54,325.59 L178.69,324.97 L178.84,324.35 L178.99,323.72 L179.13,323.08 L179.28,322.43 L179.43,321.78 L179.58,321.12 L179.73,320.46 L179.87,319.79 L180.02,319.11 L180.17,318.42 L180.32,317.73 L180.46,317.04 L180.61,316.34 L180.76,315.63 L180.91,314.92 L181.06,314.2 L181.2,313.48 L181.35,312.75 L181.5,312.02 L181.65,311.28 L181.79,310.54 L181.94,309.79 L182.09,309.04 L182.24,308.29 L182.39,307.53 L182.53,306.76 L182.68,306 L182.83,305.23 L182.98,304.46 L183.13,303.68 L183.27,302.9 L183.42,302.12 L183.57,301.33 L183.72,300.54 L183.86,299.75 L184.01,298.96 L184.16,298.16 L184.31,297.37 L184.46,296.57 L184.6,295.77 L184.75,294.96 L184.9,294.16 L185.05,293.35 L185.2,292.54 L185.34,291.73 L185.49,290.92 L185.64,290.11 L185.79,289.29 L185.93,288.48 L186.08,287.66 L186.23,286.84 L186.38,286.03 L186.53,285.21 L186.67,284.39 L186.82,283.57 L186.97,282.75 L187.12,281.93 L187.26,281.11 L187.41,280.29 L187.56,279.47 L187.71,278.65 L187.86,277.83 L188,277.01 L188.15,276.19 L188.3,275.37 L188.45,274.55 L188.6,273.73 L188.74,272.91 L188.89,272.1 L189.04,271.28 L189.19,270.47 L189.33,269.65 L189.48,268.84 L189.63,268.02 L189.78,267.21 L189.93,266.4 L190.07,265.59 L190.22,264.79 L190.37,263.98 L190.52,263.17 L190.66,262.37 L190.81,261.57 L190.96,260.77 L191.11,259.97 L191.26,259.17 L191.4,258.38 L191.55,257.59 L191.7,256.8 L191.85,256.01 L192,255.22 L192.14,254.44 L192.29,253.65 L192.44,252.87 L192.59,252.1 L192.73,251.32 L192.88,250.55 L193.03,249.78 L193.18,249.01 L193.33,248.25 L193.47,247.48 L193.62,246.72 L193.77,245.97 L193.92,245.21 L194.06,244.46 L194.21,243.71 L194.36,242.97 L194.51,242.23 L194.66,241.49 L194.8,240.75 L194.95,240.02 L195.1,239.29 L195.25,238.56 L195.4,237.84 L195.54,237.12 L195.69,236.4 L195.84,235.69 L195.99,234.98 L196.13,234.27 L196.28,233.57 L196.43,232.87 L196.58,232.18 L196.73,231.49 L196.87,230.8 L197.02,230.11 L197.17,229.43 L197.32,228.76 L197.47,228.08 L197.61,227.41 L197.76,226.75 L197.91,226.09 L198.06,225.43 L198.2,224.77 L198.35,224.12 L198.5,223.48 L198.65,222.83 L198.8,222.2 L198.94,221.56 L199.09,220.93 L199.24,220.3 L199.39,219.68 L199.53,219.06 L199.68,218.45 L199.83,217.84 L199.98,217.23 L200.13,216.63 L200.27,216.03 L200.42,215.43 L200.57,214.84 L200.72,214.25 L200.87,213.67 L201.01,213.09 L201.16,212.52 L201.31,211.94 L201.46,211.38 L201.6,210.81 L201.75,210.25 L201.9,209.7 L202.2,208.6 L202.49,207.51 L202.79,206.45 L203.08,205.39 L203.38,204.35 L203.67,203.33 L203.97,202.32 L204.27,201.32 L204.56,200.34 L204.86,199.38 L205.15,198.43 L205.45,197.49 L205.74,196.56 L206.04,195.65 L206.33,194.75 L206.63,193.87 L206.93,193 L207.22,192.14 L207.52,191.29 L207.81,190.45 L208.11,189.63 L208.4,188.82 L208.7,188.02 L209,187.23 L209.29,186.45 L209.59,185.69 L209.88,184.93 L210.18,184.18 L210.47,183.45 L210.77,182.72 L211.07,182.01 L211.36,181.3 L211.66,180.61 L211.95,179.92 L212.25,179.24 L212.54,178.58 L212.84,177.92 L213.14,177.27 L213.43,176.63 L213.73,175.99 L214.02,175.37 L214.32,174.75 L214.61,174.14 L214.91,173.54 L215.2,172.95 L215.5,172.37 L215.8,171.79 L216.09,171.22 L216.39,170.66 L216.68,170.1 L216.98,169.56 L217.27,169.02 L217.57,168.49 L217.87,167.96 L218.16,167.44 L218.46,166.93 L218.75,166.43 L219.05,165.93 L219.34,165.44 L219.64,164.96 L219.94,164.49 L220.23,164.02 L220.53,163.56 L220.82,163.1 L221.12,162.66 L221.41,162.22 L221.71,161.79 L222,161.36 L222.3,160.94 L222.6,160.53 L223.04,159.93 L223.48,159.35 L223.93,158.78 L224.37,158.23 L224.81,157.7 L225.26,157.18 L225.7,156.68 L226.14,156.19 L226.59,155.72 L227.03,155.27 L227.47,154.83 L227.92,154.41 L228.36,154 L228.81,153.61 L229.25,153.23 L229.69,152.87 L230.14,152.51 L230.58,152.17 L231.02,151.85 L231.47,151.53 L231.91,151.23 L232.35,150.93 L232.8,150.65 L233.24,150.38 L233.68,150.11 L234.27,149.77 L234.87,149.45 L235.46,149.14 L236.05,148.84 L236.64,148.56 L237.23,148.28 L237.82,148.02 L238.41,147.77 L239.01,147.53 L239.6,147.3 L240.19,147.07 L240.78,146.85 L241.37,146.65 L241.96,146.44 L242.55,146.25 L243.14,146.06 L243.74,145.88 L244.33,145.7 L244.92,145.53 L245.51,145.36 L246.1,145.2 L246.69,145.04 L247.28,144.89 L247.88,144.74 L248.47,144.6 L249.06,144.46 L249.65,144.32 L250.24,144.19 L250.83,144.06 L251.42,143.93 L252.01,143.81 L252.61,143.68 L253.2,143.56 L253.79,143.45 L254.38,143.33 L254.97,143.23 L255.71,143.09 L256.45,142.96 L257.19,142.83 L257.93,142.7 L258.67,142.58 L259.41,142.46 L260.15,142.35 L260.88,142.23 L261.62,142.12 L262.36,142.01 L263.1,141.91 L263.84,141.8 L264.58,141.7 L265.32,141.6 L266.06,141.5 L266.8,141.41 L267.54,141.31 L268.28,141.22 L269.02,141.13 L269.75,141.1 L270.05,141.1" stroke="#00f" stroke-width="1.5"/>
<path d="M137.15,352 L137.89,352 L138.63,352 L139.37,352 L140.11,352 L140.85,352 L141.58,352 L142.32,352 L143.06,352 L143.8,352 L144.54,352 L145.28,351.99 L146.02,351.99 L146.76,351.99 L147.5,351.99 L148.24,351.99 L148.98,351.99 L149.72,351.98 L150.45,351.98 L151.19,351.97 L151.93,351.97 L152.67,351.96 L153.41,351.95 L154.15,351.94 L154.89,351.93 L155.63,351.91 L156.37,351.89 L157.11,351.87 L157.85,351.84 L158.59,351.81 L159.32,351.76 L160.06,351.71 L160.8,351.65 L161.54,351.57 L162.28,351.48 L163.02,351.36 L163.61,351.26 L164.2,351.13 L164.79,350.98 L165.39,350.81 L165.98,350.61 L166.57,350.37 L167.16,350.1 L167.75,349.79 L168.19,349.52 L168.64,349.22 L169.08,348.89 L169.52,348.52 L169.97,348.11 L170.41,347.66 L170.86,347.17 L171.3,346.62 L171.74,346.01 L172.04,345.58 L172.33,345.12 L172.63,344.63 L172.93,344.11 L173.22,343.56 L173.52,342.98 L173.81,342.37 L174.11,341.73 L174.4,341.05 L174.7,340.34 L174.99,339.59 L175.29,338.81 L175.59,338 L175.88,337.15 L176.18,336.26 L176.47,335.33 L176.77,334.37 L177.06,333.38 L177.36,332.35 L177.66,331.28 L177.95,330.18 L178.1,329.62 L178.25,329.05 L178.39,328.47 L178.54,327.89 L178.69,327.29 L178.84,326.69 L178.99,326.08 L179.13,325.46 L179.28,324.84 L179.43,324.2 L179.58,323.56 L179.73,322.92 L179.87,322.26 L180.02,321.6 L180.17,320.94 L180.32,320.26 L180.46,319.58 L180.61,318.9 L180.76,318.2 L180.91,317.5 L181.06,316.8 L181.2,316.09 L181.35,315.37 L181.5,314.65 L181.65,313.93 L181.79,313.2 L181.94,312.46 L182.09,311.72 L182.24,310.98 L182.39,310.23 L182.53,309.47 L182.68,308.72 L182.83,307.96 L182.98,307.19 L183.13,306.42 L183.27,305.65 L183.42,304.87 L183.57,304.09 L183.72,303.31 L183.86,302.53 L184.01,301.74 L184.16,300.95 L184.31,300.16 L184.46,299.36 L184.6,298.56 L184.75,297.76 L184.9,296.96 L185.05,296.15 L185.2,295.35 L185.34,294.54 L185.49,293.73 L185.64,292.92 L185.79,292.11 L185.93,291.29 L186.08,290.48 L186.23,289.66 L186.38,288.85 L186.53,288.03 L186.67,287.21 L186.82,286.39 L186.97,285.57 L187.12,284.75 L187.26,283.93 L187.41,283.11 L187.56,282.29 L187.71,281.47 L187.86,280.64 L188,279.82 L188.15,279 L188.3,278.18 L188.45,277.36 L188.6,276.54 L188.74,275.72 L188.89,274.9 L189.04,274.08 L189.19,273.26 L189.33,272.45 L189.48,271.63 L189.63,270.82 L189.78,270 L189.93,269.19 L190.07,268.38 L190.22,267.57 L190.37,266.76 L190.52,265.95 L190.66,265.14 L190.81,264.34 L190.96,263.53 L191.11,262.73 L191.26,261.93 L191.4,261.13 L191.55,260.34 L191.7,259.54 L191.85,258.75 L192,257.96 L192.14,257.17 L192.29,256.38 L192.44,255.6 L192.59,254.82 L192.73,254.04 L192.88,253.26 L193.03,252.49 L193.18,251.72 L193.33,250.95 L193.47,250.18 L193.62,249.41 L193.77,248.65 L193.92,247.9 L194.06,247.14 L194.21,246.39 L194.36,245.64 L194.51,244.89 L194.66,244.15 L194.8,243.41 L194.95,242.67 L195.1,241.93 L195.25,241.2 L195.4,240.48 L195.54,239.75 L195.69,239.03 L195.84,238.31 L195.99,237.6 L196.13,236.89 L196.28,236.18 L196.43,235.48 L196.58,234.78 L196.73,234.08 L196.87,233.39 L197.02,232.7 L197.17,232.01 L197.32,231.33 L197.47,230.65 L197.61,229.98 L197.76,229.31 L197.91,228.64 L198.06,227.98 L198.2,227.32 L198.35,226.66 L198.5,226.01 L198.65,225.36 L198.8,224.72 L198.94,224.08 L199.09,223.44 L199.24,222.81 L199.39,222.18 L199.53,221.56 L199.68,220.94 L199.83,220.32 L199.98,219.71 L200.13,219.1 L200.27,218.5 L200.42,217.9 L200.57,217.3 L200.72,216.71 L200.87,216.12 L201.01,215.54 L201.16,214.96 L201.31,214.38 L201.46,213.81 L201.6,213.24 L201.75,212.68 L201.9,212.12 L202.05,211.56 L202.2,211.01 L202.49,209.91 L202.79,208.83 L203.08,207.77 L203.38,206.72 L203.67,205.68 L203.97,204.66 L204.27,203.66 L204.56,202.67 L204.86,201.69 L205.15,200.73 L205.45,199.78 L205.74,198.85 L206.04,197.92 L206.33,197.02 L206.63,196.12 L206.93,195.24 L207.22,194.37 L207.52,193.51 L207.81,192.66 L208.11,191.83 L208.4,191.01 L208.7,190.2 L209,189.4 L209.29,188.61 L209.59,187.83 L209.88,187.07 L210.18,186.31 L210.47,185.56 L210.77,184.83 L211.07,184.1 L211.36,183.39 L211.66,182.68 L211.95,181.98 L212.25,181.3 L212.54,180.62 L212.84,179.95 L213.14,179.29 L213.43,178.64 L213.73,177.99 L214.02,177.36 L214.32,176.73 L214.61,176.11 L214.91,175.5 L215.2,174.9 L215.5,174.3 L215.8,173.72 L216.09,173.14 L216.39,172.56 L216.68,172 L216.98,171.44 L217.27,170.89 L217.57,170.35 L217.87,169.81 L218.16,169.29 L218.46,168.76 L218.75,168.25 L219.05,167.74 L219.34,167.24 L219.64,166.75 L219.94,166.27 L220.23,165.79 L220.53,165.32 L220.82,164.85 L221.12,164.4 L221.41,163.95 L221.71,163.5 L222,163.07 L222.3,162.64 L222.6,162.22 L222.89,161.81 L223.19,161.4 L223.63,160.81 L224.07,160.23 L224.52,159.67 L224.96,159.12 L225.41,158.6 L225.85,158.08 L226.29,157.59 L226.74,157.11 L227.18,156.65 L227.62,156.2 L228.07,155.76 L228.51,155.35 L228.95,154.94 L229.4,154.55 L229.84,154.17 L230.28,153.81 L230.73,153.46 L231.17,153.12 L231.61,152.79 L232.06,152.48 L232.5,152.17 L232.94,151.87 L233.39,151.59 L233.83,151.31 L234.27,151.04 L234.72,150.78 L235.31,150.45 L235.9,150.13 L236.49,149.82 L237.08,149.52 L237.68,149.24 L238.27,148.96 L238.86,148.7 L239.45,148.44 L240.04,148.19 L240.63,147.95 L241.22,147.72 L241.81,147.5 L242.41,147.28 L243,147.07 L243.59,146.86 L244.18,146.66 L244.77,146.47 L245.36,146.28 L245.95,146.1 L246.54,145.92 L247.14,145.74 L247.73,145.57 L248.32,145.41 L248.91,145.24 L249.5,145.08 L250.09,144.93 L250.68,144.78 L251.28,144.63 L251.87,144.48 L252.46,144.34 L253.05,144.2 L253.64,144.06 L254.23,143.93 L254.82,143.79 L255.41,143.66 L256.01,143.54 L256.6,143.41 L257.19,143.29 L257.78,143.17 L258.37,143.05 L258.96,142.93 L259.55,142.81 L260.15,142.7 L260.74,142.59 L261.33,142.48 L261.92,142.37 L262.66,142.23 L263.4,142.1 L264.14,141.97 L264.88,141.84 L265.62,141.72 L266.35,141.6 L267.09,141.47 L267.83,141.36 L268.57,141.24 L269.31,141.12 L270.05,141.1" stroke="#00f" stroke-width="1.5"/>
<path d="M137.15,324.4 L137.77,324.41 L138.39,324.42 L139.01,324.44 L139.63,324.46 L140.25,324.49 L140.87,324.53 L141.49,324.57 L142.11,324.62 L142.74,324.67 L143.36,324.73 L143.98,324.79 L144.6,324.86 L145.22,324.93 L145.84,325 L146.46,325.08 L146.99,325.15 L147.52,325.23 L148.06,325.3 L148.59,325.38 L149.12,325.47 L149.65,325.55 L150.18,325.64 L150.71,325.74 L151.25,325.83 L151.78,325.93 L152.31,326.03 L152.84,326.14 L153.37,326.25 L153.91,326.36 L154.44,326.47 L154.97,326.59 L155.5,326.71 L156.03,326.83 L156.57,326.95 L157.1,327.08 L157.63,327.21 L158.16,327.34 L158.69,327.48 L159.23,327.62 L159.76,327.76 L160.29,327.9 L160.82,328.05 L161.35,328.2 L161.89,328.35 L162.42,328.51 L162.95,328.66 L163.48,328.82 L164.01,328.99 L164.55,329.15 L165.08,329.32 L165.61,329.49 L166.14,329.67 L166.67,329.84 L167.21,330.02 L167.74,330.21 L168.27,330.39 L168.8,330.58 L169.24,330.74 L169.69,330.9 L170.13,331.06 L170.57,331.22 L171.02,331.39 L171.46,331.56 L171.9,331.73 L172.35,331.9 L172.79,332.08 L173.23,332.26 L173.68,332.44 L174.12,332.61 L174.56,332.79 L175.01,332.97 L175.45,333.14 L175.89,333.32 L176.34,333.49 L176.78,333.66 L177.22,333.83 L177.67,334 L178.11,334.22 L178.55,334.45 L179,334.68 L179.44,334.93 L179.88,335.18 L180.33,335.44 L180.77,335.71 L181.21,335.94 L181.66,336.13 L182.1,336.3 L182.63,336.46 L183.16,336.58 L183.7,336.68 L184.23,336.75 L184.85,336.81 L185.47,336.84 L186.09,336.86 L186.71,336.91 L187.15,337.08 L187.6,337.25 L188.04,337.42 L188.48,337.59 L188.93,337.76 L189.37,337.93 L189.81,338.1 L190.26,338.28 L190.88,338.21 L191.41,338.14 L191.94,338.07 L192.56,337.99 L193.18,337.92 L193.8,337.86 L194.42,337.8 L195.04,337.8 L195.49,337.99 L195.93,338.18 L196.37,338.39 L196.82,338.59 L197.26,338.81 L197.7,339.04 L198.15,339.28 L198.59,339.52 L199.03,339.78 L199.48,340.05 L199.92,340.22 L200.45,340.36 L200.98,340.51 L201.52,340.68 L202.05,340.86 L202.49,341.03 L202.94,341.21 L203.38,341.41 L203.82,341.7 L204.18,342.02 L204.53,342.35 L204.89,342.71 L205.24,343.08 L205.59,343.47 L205.95,343.88 L206.3,344.32 L206.57,344.66 L206.84,345.01 L207.1,345.38 L207.37,345.77 L207.63,346.17 L207.99,346.55 L208.34,346.93 L208.7,347.33 L209.05,347.76 L209.32,348.1 L209.58,348.46 L209.85,348.84 L210.12,349.23 L210.38,349.65 L210.65,350.08 L210.91,350.54 L211.18,351.03 L211.45,351.54 L211.71,352.08 L211.98,352.73 L212.16,353.33 L212.33,353.97 L212.51,354.63 L212.69,355.33 L212.86,356.06 L213.04,356.83 L213.22,357.65 L213.4,358.52 L213.57,359.44 L213.75,360.42 L213.84,360.93 L213.93,361.47 L214.02,362.02 L214.11,362.6 L214.19,363.2 L214.28,363.82 L214.37,364.46 L214.46,365.14 L214.55,365.85 L214.64,366.59 L214.73,367.36 L214.82,368.18 L214.9,369.04 L214.99,369.95 L215.08,370.92 L215.17,371.95 L215.26,373.04 L215.35,374.22 L215.44,375.49 L215.52,376.11 L216.15,376.11 L216.77,376.11 L217.39,376.11 L218.01,376.11 L218.1,375.35 L218.18,374.27 L218.27,373.25 L218.36,372.29 L218.45,371.38 L218.54,370.51 L218.63,369.68 L218.72,368.88 L218.81,368.12 L218.89,367.39 L218.98,366.68 L219.07,366 L219.16,365.35 L219.25,364.71 L219.34,364.1 L219.43,363.51 L219.51,362.93 L219.6,362.37 L219.69,361.83 L219.78,361.3 L219.87,360.79 L220.05,359.8 L220.22,358.86 L220.4,357.96 L220.58,357.1 L220.76,356.28 L220.93,355.49 L221.11,354.72 L221.29,353.99 L221.46,353.28 L221.64,352.59 L221.82,351.86 L222,351.08 L222.17,350.33 L222.35,349.61 L222.53,348.91 L222.71,348.23 L222.88,347.58 L223.06,346.94 L223.24,346.32 L223.42,345.71 L223.59,345.12 L223.77,344.55 L223.95,343.99 L224.12,343.43 L224.3,342.9 L224.48,342.37 L224.66,341.85 L224.83,341.34 L225.01,340.84 L225.19,340.34 L225.37,339.86 L225.54,339.38 L225.72,338.94 L225.99,338.34 L226.25,337.76 L226.52,337.17 L226.78,336.59 L227.05,336.01 L227.32,335.44 L227.58,334.87 L227.85,334.29 L228.11,333.72 L228.38,333.16 L228.65,332.59 L228.91,332.02 L229.18,331.46 L229.44,330.89 L229.71,330.3 L229.98,329.68 L230.24,329.07 L230.51,328.46 L230.77,327.85 L231.04,327.25 L231.31,326.65 L231.57,326.05 L231.84,325.46 L232.1,324.87 L232.37,324.28 L232.64,323.69 L232.9,323.11 L233.17,322.52 L233.43,321.94 L233.7,321.36 L233.97,320.79 L234.23,320.21 L234.5,319.64 L234.76,319.07 L235.03,318.5 L235.3,317.94 L235.56,317.41 L235.83,316.88 L236.09,316.34 L236.36,315.81 L236.63,315.28 L236.89,314.75 L237.16,314.22 L237.42,313.69 L237.69,313.15 L237.96,312.62 L238.22,312.09 L238.49,311.56 L238.75,311.02 L239.02,310.46 L239.29,309.9 L239.55,309.35 L239.82,308.8 L240.08,308.25 L240.35,307.7 L240.62,307.15 L240.88,306.61 L241.15,306.07 L241.41,305.53 L241.68,304.99 L241.95,304.45 L242.21,303.92 L242.48,303.39 L242.74,302.86 L243.01,302.33 L243.27,301.8 L243.54,301.29 L243.81,300.78 L244.07,300.27 L244.34,299.76 L244.6,299.26 L244.87,298.75 L245.14,298.25 L245.4,297.74 L245.67,297.24 L245.93,296.74 L246.2,296.24 L246.47,295.74 L246.73,295.24 L247,294.74 L247.26,294.24 L247.53,293.74 L247.8,293.24 L248.06,292.74 L248.33,292.24 L248.59,291.74 L248.86,291.24 L249.13,290.75 L249.39,290.25 L249.66,289.76 L249.92,289.27 L250.19,288.78 L250.46,288.29 L250.72,287.8 L250.99,287.32 L251.25,286.83 L251.52,286.35 L251.79,285.87 L252.05,285.39 L252.32,284.91 L252.58,284.43 L252.85,283.96 L253.12,283.49 L253.38,283.03 L253.65,282.56 L253.91,282.09 L254.18,281.63 L254.45,281.16 L254.71,280.7 L254.98,280.24 L255.24,279.78 L255.51,279.32 L255.78,278.86 L256.04,278.41 L256.31,277.95 L256.57,277.5 L256.84,277.04 L257.11,276.59 L257.37,276.13 L257.64,275.68 L257.9,275.23 L258.17,274.78 L258.44,274.33 L258.7,273.88 L258.97,273.44 L259.23,272.99 L259.5,272.55 L259.77,272.11 L260.03,271.67 L260.3,271.23 L260.56,270.79 L260.83,270.35 L261.1,269.92 L261.36,269.49 L261.63,269.06 L261.89,268.63 L262.16,268.2 L262.43,267.77 L262.69,267.35 L262.96,266.93 L263.22,266.5 L263.49,266.08 L263.76,265.66 L264.02,265.24 L264.29,264.83 L264.55,264.41 L264.82,264 L265.09,263.58 L265.35,263.17 L265.62,262.76 L265.88,262.35 L266.15,261.94 L266.41,261.53 L266.68,261.12 L266.95,260.72 L267.21,260.31 L267.48,259.91 L267.74,259.51 L268.01,259.11 L268.28,258.71 L268.54,258.31 L268.81,257.92 L269.07,257.52 L269.34,257.13 L269.61,256.73 L269.87,256.34 L270.05,256.08" stroke="#000" stroke-width="1.45"/>
<path d="M137.15,332.2 L137.77,332.21 L138.39,332.22 L139.01,332.23 L139.63,332.26 L140.25,332.28 L140.87,332.32 L141.49,332.35 L142.11,332.39 L142.74,332.44 L143.36,332.49 L143.98,332.54 L144.6,332.6 L145.22,332.66 L145.84,332.73 L146.46,332.8 L147.08,332.87 L147.7,332.95 L148.23,333.02 L148.76,333.09 L149.3,333.16 L149.83,333.24 L150.36,333.32 L150.89,333.4 L151.42,333.49 L151.96,333.58 L152.49,333.67 L153.02,333.76 L153.55,333.86 L154.08,333.95 L154.62,334.05 L155.15,334.16 L155.68,334.26 L156.21,334.37 L156.74,334.48 L157.28,334.59 L157.81,334.71 L158.34,334.83 L158.87,334.95 L159.4,335.07 L159.94,335.2 L160.47,335.32 L161,335.45 L161.53,335.59 L162.06,335.72 L162.6,335.86 L163.13,336 L163.66,336.14 L164.19,336.29 L164.72,336.43 L165.25,336.58 L165.79,336.73 L166.32,336.89 L166.85,337.05 L167.38,337.21 L167.91,337.37 L168.45,337.53 L168.98,337.7 L169.51,337.87 L170.04,338.04 L170.57,338.22 L171.11,338.39 L171.64,338.57 L172.17,338.75 L172.7,338.95 L173.15,339.12 L173.59,339.3 L174.03,339.47 L174.48,339.63 L175.01,339.81 L175.54,339.99 L176.07,340.15 L176.6,340.3 L177.14,340.48 L177.58,340.67 L178.02,340.87 L178.47,341.07 L178.91,341.29 L179.35,341.51 L179.8,341.74 L180.24,341.97 L180.68,342.22 L181.12,342.47 L181.57,342.74 L182.01,342.99 L182.54,343.08 L183.16,343.14 L183.78,343.16 L184.41,343.13 L185.03,343.08 L185.56,343.01 L186.18,343.03 L186.62,343.2 L187.07,343.37 L187.51,343.54 L187.95,343.71 L188.39,343.89 L188.84,344.07 L189.28,344.25 L189.72,344.43 L190.17,344.62 L190.61,344.81 L191.23,344.79 L191.76,344.68 L192.3,344.58 L192.83,344.48 L193.36,344.39 L193.89,344.31 L194.42,344.23 L194.96,344.36 L195.31,344.62 L195.67,344.88 L196.02,345.15 L196.37,345.43 L196.73,345.72 L197.08,346.02 L197.44,346.33 L197.79,346.65 L198.15,346.98 L198.59,347.18 L199.21,347.25 L199.74,347.32 L200.28,347.41 L200.81,347.52 L201.34,347.65 L201.87,347.8 L202.4,347.98 L202.85,348.14 L203.2,348.57 L203.47,348.92 L203.73,349.28 L204,349.66 L204.26,350.05 L204.53,350.46 L204.8,350.89 L205.06,351.33 L205.33,351.8 L205.59,352.28 L205.86,352.79 L206.13,353.33 L206.39,353.89 L206.66,354.48 L206.92,355.1 L207.1,355.53 L207.28,355.98 L207.55,356.4 L207.81,356.76 L208.08,357.13 L208.34,357.53 L208.61,357.95 L208.88,358.39 L209.14,358.86 L209.41,359.35 L209.67,359.87 L209.94,360.42 L210.21,361.01 L210.47,361.63 L210.65,362.07 L210.83,362.52 L211,362.99 L211.18,363.49 L211.36,364.01 L211.53,364.55 L211.71,365.11 L211.89,365.71 L212.07,366.45 L212.16,366.99 L212.24,367.55 L212.33,368.13 L212.42,368.74 L212.51,369.37 L212.6,370.02 L212.69,370.71 L212.78,371.42 L212.86,372.18 L212.95,372.96 L213.04,373.79 L213.13,374.67 L213.22,375.6 L213.4,376.11 L214.02,376.11 L214.64,376.11 L215.26,376.11 L215.88,376.11 L216.23,375.51 L216.32,374.49 L216.41,373.52 L216.5,372.6 L216.59,371.72 L216.68,370.89 L216.77,370.09 L216.85,369.33 L216.94,368.59 L217.03,367.89 L217.12,367.21 L217.21,366.55 L217.3,365.92 L217.39,365.31 L217.48,364.72 L217.56,364.14 L217.65,363.59 L217.83,362.81 L218.01,362.21 L218.18,361.62 L218.36,361.05 L218.54,360.49 L218.72,359.94 L218.89,359.41 L219.07,358.88 L219.25,358.37 L219.43,357.86 L219.6,357.36 L219.78,356.87 L219.96,356.39 L220.13,355.92 L220.31,355.45 L220.49,354.99 L220.67,354.53 L220.84,354.08 L221.02,353.64 L221.2,353.2 L221.38,352.76 L221.55,352.33 L221.73,351.67 L221.91,351.02 L222.09,350.39 L222.26,349.78 L222.44,349.18 L222.62,348.6 L222.79,348.03 L222.97,347.46 L223.15,346.91 L223.33,346.37 L223.5,345.84 L223.68,345.32 L223.86,344.8 L224.04,344.3 L224.21,343.8 L224.39,343.3 L224.57,342.82 L224.75,342.33 L224.92,341.86 L225.1,341.39 L225.28,340.92 L225.45,340.46 L225.63,340 L225.81,339.55 L225.99,339.1 L226.16,338.66 L226.34,338.23 L226.61,337.69 L226.87,337.16 L227.14,336.62 L227.4,336.08 L227.67,335.54 L227.94,334.99 L228.2,334.45 L228.47,333.9 L228.73,333.35 L229,332.8 L229.27,332.25 L229.53,331.69 L229.8,331.14 L230.06,330.58 L230.33,330.02 L230.51,329.59 L230.69,329.17 L230.95,328.54 L231.22,327.91 L231.48,327.29 L231.75,326.67 L232.02,326.06 L232.28,325.45 L232.55,324.84 L232.81,324.23 L233.08,323.63 L233.35,323.04 L233.61,322.44 L233.88,321.85 L234.14,321.26 L234.41,320.68 L234.68,320.1 L234.94,319.53 L235.21,318.99 L235.47,318.44 L235.74,317.9 L236,317.36 L236.27,316.82 L236.54,316.28 L236.8,315.74 L237.07,315.2 L237.33,314.66 L237.6,314.12 L237.87,313.59 L238.13,313.05 L238.4,312.51 L238.66,311.98 L238.93,311.44 L239.2,310.91 L239.46,310.37 L239.73,309.83 L239.99,309.28 L240.26,308.74 L240.53,308.19 L240.79,307.65 L241.06,307.11 L241.32,306.57 L241.59,306.03 L241.86,305.5 L242.12,304.97 L242.39,304.43 L242.65,303.9 L242.92,303.37 L243.19,302.85 L243.45,302.32 L243.72,301.8 L243.98,301.28 L244.25,300.76 L244.52,300.25 L244.78,299.74 L245.05,299.24 L245.31,298.73 L245.58,298.23 L245.85,297.72 L246.11,297.22 L246.38,296.72 L246.64,296.22 L246.91,295.72 L247.18,295.22 L247.44,294.73 L247.71,294.23 L247.97,293.74 L248.24,293.24 L248.51,292.75 L248.77,292.25 L249.04,291.75 L249.3,291.26 L249.57,290.76 L249.84,290.27 L250.1,289.77 L250.37,289.28 L250.63,288.79 L250.9,288.3 L251.17,287.82 L251.43,287.33 L251.7,286.85 L251.96,286.37 L252.23,285.88 L252.5,285.41 L252.76,284.93 L253.03,284.45 L253.29,283.99 L253.56,283.52 L253.83,283.06 L254.09,282.59 L254.36,282.13 L254.62,281.67 L254.89,281.2 L255.16,280.74 L255.42,280.29 L255.69,279.83 L255.95,279.37 L256.22,278.91 L256.49,278.45 L256.75,278 L257.02,277.54 L257.28,277.09 L257.55,276.63 L257.82,276.18 L258.08,275.73 L258.35,275.28 L258.61,274.84 L258.88,274.39 L259.14,273.95 L259.41,273.5 L259.68,273.06 L259.94,272.62 L260.21,272.18 L260.47,271.74 L260.74,271.31 L261.01,270.87 L261.27,270.44 L261.54,270.01 L261.8,269.58 L262.07,269.15 L262.34,268.72 L262.6,268.3 L262.87,267.87 L263.13,267.45 L263.4,267.03 L263.67,266.61 L263.93,266.19 L264.2,265.77 L264.46,265.35 L264.73,264.94 L265,264.52 L265.26,264.11 L265.53,263.69 L265.79,263.28 L266.06,262.87 L266.33,262.46 L266.59,262.05 L266.86,261.65 L267.12,261.24 L267.39,260.84 L267.66,260.44 L267.92,260.03 L268.19,259.63 L268.45,259.24 L268.72,258.84 L268.99,258.44 L269.25,258.05 L269.52,257.65 L269.78,257.26 L270.05,256.87" stroke="#000" stroke-width="1.45"/>
<path d="M137.15,339.4 L137.77,339.4 L138.39,339.41 L139.01,339.42 L139.63,339.44 L140.25,339.45 L140.87,339.47 L141.49,339.49 L142.11,339.52 L142.74,339.55 L143.36,339.58 L143.98,339.61 L144.6,339.64 L145.22,339.68 L145.84,339.72 L146.46,339.76 L147.08,339.81 L147.7,339.85 L148.32,339.9 L148.94,339.95 L149.56,340.01 L150.18,340.06 L150.8,340.12 L151.42,340.18 L152.04,340.24 L152.67,340.31 L153.29,340.37 L153.91,340.44 L154.53,340.51 L155.15,340.58 L155.77,340.66 L156.39,340.73 L157.01,340.81 L157.54,340.88 L158.07,340.95 L158.61,341.03 L159.14,341.1 L159.67,341.18 L160.2,341.25 L160.73,341.33 L161.27,341.41 L161.8,341.49 L162.33,341.58 L162.86,341.66 L163.39,341.75 L163.93,341.84 L164.46,341.93 L164.99,342.02 L165.52,342.11 L166.05,342.2 L166.58,342.3 L167.12,342.4 L167.65,342.5 L168.18,342.6 L168.71,342.7 L169.24,342.81 L169.78,342.91 L170.31,343.02 L170.84,343.13 L171.37,343.24 L171.9,343.35 L172.44,343.47 L172.97,343.62 L173.5,343.76 L174.03,343.88 L174.56,343.98 L175.1,344.06 L175.72,344.12 L176.34,344.16 L176.96,344.17 L177.58,344.15 L178.02,344.32 L178.47,344.55 L178.91,344.82 L179.35,345.11 L179.71,345.36 L180.06,345.64 L180.42,345.93 L180.77,346.25 L181.12,346.6 L181.48,346.97 L182.01,346.9 L182.54,346.78 L183.08,346.61 L183.52,346.43 L183.96,346.23 L184.41,346 L184.85,345.75 L185.29,345.48 L185.74,345.19 L186.18,345.43 L186.53,345.69 L186.89,345.95 L187.24,346.21 L187.6,346.49 L187.95,346.76 L188.31,347.04 L188.66,347.33 L189.02,347.62 L189.37,347.93 L189.72,348.24 L190.08,348.55 L190.43,348.88 L190.79,349.21 L191.23,348.91 L191.59,348.59 L191.94,348.28 L192.3,347.98 L192.65,347.69 L193.01,347.41 L193.36,347.14 L193.71,346.88 L194.25,347.05 L194.6,347.37 L194.96,347.7 L195.31,348.03 L195.67,348.38 L196.02,348.74 L196.37,349.12 L196.73,349.51 L197.08,349.91 L197.44,350.34 L197.79,350.78 L198.06,351.12 L198.32,351.47 L198.59,351.84 L198.86,352.22 L199.12,352.61 L199.57,352.8 L200.1,352.65 L200.63,352.53 L201.16,352.43 L201.69,352.35 L202.31,352.29 L202.94,352.27 L203.56,352.49 L203.82,353.03 L204.09,353.59 L204.35,354.17 L204.62,354.78 L204.8,355.21 L204.97,355.65 L205.15,356.1 L205.33,356.57 L205.51,357.06 L205.68,357.57 L205.86,358.1 L206.04,358.65 L206.22,359.22 L206.39,359.82 L206.57,360.44 L206.75,361.09 L206.92,361.77 L207.1,362.49 L207.28,363.24 L207.46,364.04 L207.63,364.87 L207.81,365.76 L207.99,366.71 L208.17,367.72 L208.25,368.25 L208.34,368.79 L208.43,369.36 L208.52,369.95 L208.61,370.57 L208.7,371.2 L208.79,371.87 L208.88,372.56 L209.05,373 L209.32,373.57 L209.58,374.17 L209.76,374.59 L209.94,375.04 L210.12,375.51 L210.29,376 L210.83,376.11 L211.45,376.11 L212.07,376.11 L212.69,376.11 L213.31,376.11 L213.93,376.11 L214.55,376.11 L215.17,376.11 L215.35,374.66 L215.44,373.73 L215.52,372.84 L215.61,372 L215.7,371.2 L215.79,370.43 L215.88,369.69 L215.97,368.98 L216.06,368.3 L216.23,367.47 L216.41,366.81 L216.59,366.17 L216.77,365.55 L216.94,364.95 L217.12,364.37 L217.3,363.79 L217.48,363.23 L217.65,362.69 L217.83,362.15 L218.01,361.63 L218.18,361.12 L218.36,360.62 L218.54,360.12 L218.72,359.64 L218.89,359.16 L219.07,358.69 L219.25,358.22 L219.43,357.76 L219.6,357.31 L219.78,356.86 L219.96,356.42 L220.13,355.98 L220.31,355.55 L220.49,355.11 L220.67,354.69 L220.84,354.17 L221.02,353.54 L221.2,352.93 L221.38,352.33 L221.55,351.74 L221.73,351.16 L221.91,350.59 L222.09,350.04 L222.26,349.49 L222.44,348.96 L222.62,348.43 L222.79,347.91 L222.97,347.39 L223.15,346.89 L223.33,346.39 L223.5,345.9 L223.68,345.41 L223.86,344.92 L224.04,344.45 L224.21,343.97 L224.39,343.51 L224.57,343.04 L224.75,342.58 L224.92,342.13 L225.1,341.67 L225.28,341.23 L225.45,340.78 L225.63,340.34 L225.9,339.81 L226.16,339.29 L226.43,338.78 L226.7,338.26 L226.96,337.73 L227.23,337.2 L227.49,336.67 L227.76,336.14 L228.03,335.6 L228.29,335.07 L228.56,334.53 L228.82,333.98 L229.09,333.44 L229.36,332.89 L229.62,332.34 L229.89,331.79 L230.15,331.24 L230.42,330.68 L230.69,330.07 L230.86,329.62 L231.04,329.18 L231.22,328.74 L231.39,328.3 L231.57,327.87 L231.75,327.44 L231.93,327.01 L232.1,326.59 L232.28,326.17 L232.55,325.54 L232.81,324.91 L233.08,324.29 L233.35,323.68 L233.61,323.07 L233.88,322.46 L234.14,321.86 L234.41,321.29 L234.68,320.77 L234.94,320.24 L235.21,319.72 L235.47,319.2 L235.74,318.67 L236,318.15 L236.27,317.62 L236.54,317.09 L236.8,316.57 L237.07,316.04 L237.33,315.51 L237.6,314.99 L237.87,314.46 L238.13,313.93 L238.4,313.4 L238.66,312.87 L238.93,312.33 L239.2,311.77 L239.46,311.22 L239.73,310.66 L239.99,310.11 L240.26,309.56 L240.53,309.01 L240.79,308.47 L241.06,307.93 L241.32,307.38 L241.59,306.84 L241.86,306.31 L242.12,305.77 L242.39,305.24 L242.65,304.71 L242.92,304.17 L243.19,303.65 L243.45,303.12 L243.72,302.59 L243.98,302.07 L244.25,301.55 L244.52,301.05 L244.78,300.55 L245.05,300.05 L245.31,299.55 L245.58,299.05 L245.85,298.55 L246.11,298.05 L246.38,297.55 L246.64,297.06 L246.91,296.56 L247.18,296.07 L247.44,295.57 L247.71,295.08 L247.97,294.59 L248.24,294.1 L248.51,293.6 L248.77,293.11 L249.04,292.61 L249.3,292.1 L249.57,291.6 L249.84,291.1 L250.1,290.61 L250.37,290.11 L250.63,289.62 L250.9,289.13 L251.17,288.64 L251.43,288.15 L251.7,287.66 L251.96,287.18 L252.23,286.69 L252.5,286.22 L252.76,285.75 L253.03,285.28 L253.29,284.81 L253.56,284.34 L253.83,283.87 L254.09,283.41 L254.36,282.94 L254.62,282.48 L254.89,282.01 L255.16,281.55 L255.42,281.09 L255.69,280.63 L255.95,280.17 L256.22,279.72 L256.49,279.26 L256.75,278.81 L257.02,278.35 L257.28,277.9 L257.55,277.45 L257.82,277 L258.08,276.54 L258.35,276.09 L258.61,275.64 L258.88,275.2 L259.14,274.75 L259.41,274.3 L259.68,273.86 L259.94,273.42 L260.21,272.98 L260.47,272.54 L260.74,272.1 L261.01,271.67 L261.27,271.23 L261.54,270.8 L261.8,270.37 L262.07,269.95 L262.34,269.52 L262.6,269.09 L262.87,268.67 L263.13,268.24 L263.4,267.82 L263.67,267.4 L263.93,266.98 L264.2,266.56 L264.46,266.15 L264.73,265.73 L265,265.31 L265.26,264.9 L265.53,264.49 L265.79,264.07 L266.06,263.66 L266.33,263.25 L266.59,262.84 L266.86,262.44 L267.12,262.03 L267.39,261.62 L267.66,261.22 L267.92,260.82 L268.19,260.42 L268.45,260.02 L268.72,259.62 L268.99,259.23 L269.25,258.83 L269.52,258.44 L269.78,258.04 L270.05,257.65" stroke="#000" stroke-width="1.45"/>
<path d="M137.15,343.1 L137.77,343.11 L138.39,343.11 L139.01,343.13 L139.63,343.14 L140.25,343.16 L140.87,343.19 L141.49,343.21 L142.11,343.25 L142.74,343.28 L143.36,343.32 L143.98,343.36 L144.6,343.4 L145.22,343.45 L145.84,343.49 L146.46,343.55 L147.08,343.6 L147.7,343.66 L148.32,343.72 L148.94,343.78 L149.56,343.85 L150.18,343.92 L150.8,343.99 L151.42,344.06 L152.04,344.14 L152.67,344.22 L153.2,344.29 L153.73,344.36 L154.26,344.43 L154.79,344.51 L155.33,344.59 L155.86,344.67 L156.39,344.75 L156.92,344.83 L157.45,344.92 L157.98,345 L158.52,345.09 L159.05,345.18 L159.58,345.28 L160.11,345.37 L160.64,345.47 L161.18,345.57 L161.71,345.67 L162.24,345.77 L162.77,345.87 L163.3,345.98 L163.84,346.09 L164.37,346.2 L164.9,346.31 L165.43,346.42 L165.96,346.54 L166.5,346.66 L167.03,346.78 L167.56,346.9 L168.09,347.02 L168.62,347.15 L169.16,347.28 L169.69,347.41 L170.22,347.54 L170.75,347.68 L171.28,347.82 L171.82,347.96 L172.35,348.1 L172.88,348.27 L173.41,348.44 L173.94,348.57 L174.48,348.65 L175.1,348.69 L175.72,348.66 L176.34,348.7 L176.78,348.88 L177.22,349.08 L177.67,349.31 L178.11,349.56 L178.55,349.85 L178.91,350.1 L179.26,350.37 L179.62,350.66 L179.97,350.97 L180.33,351.31 L180.68,351.67 L181.04,352.06 L181.66,352.05 L182.19,351.95 L182.72,351.79 L183.16,351.62 L183.61,351.41 L184.05,351.17 L184.49,350.91 L184.94,350.62 L185.38,350.88 L185.74,351.26 L186.09,351.67 L186.44,352.1 L186.8,352.54 L187.07,352.88 L187.33,353.23 L187.6,353.58 L187.86,353.95 L188.13,354.32 L188.39,354.7 L188.66,355.09 L189.02,354.79 L189.37,354.45 L189.72,354.12 L190.08,353.8 L190.43,353.48 L190.79,353.18 L191.14,352.88 L191.5,352.6 L191.85,352.32 L192.21,352.05 L192.56,351.79 L192.92,351.53 L193.36,351.72 L193.63,352.31 L193.89,352.93 L194.07,353.35 L194.25,353.79 L194.42,354.24 L194.6,354.71 L194.78,355.19 L194.96,355.68 L195.13,356.19 L195.31,356.72 L195.49,357.27 L195.67,357.83 L195.84,358.29 L196.2,358.01 L196.55,357.74 L196.91,357.49 L197.35,357.19 L197.79,356.91 L198.24,356.65 L198.68,356.4 L199.12,356.18 L199.57,355.97 L200.01,355.78 L200.45,355.6 L200.98,355.42 L201.43,355.82 L201.61,356.29 L201.78,356.77 L201.96,357.27 L202.14,357.79 L202.31,358.33 L202.49,358.89 L202.67,359.47 L202.85,360.08 L203.02,360.71 L203.2,361.37 L203.38,362.06 L203.56,362.79 L203.73,363.55 L203.91,364.35 L204.09,365.19 L204.26,366.09 L204.44,367.04 L204.62,367.93 L205.24,367.97 L205.77,368.06 L206.3,368.21 L206.75,368.36 L207.19,368.56 L207.63,368.79 L208.08,369.06 L208.25,369.64 L208.43,370.68 L208.52,371.22 L208.61,371.78 L208.7,372.37 L208.79,372.97 L208.88,373.6 L208.96,374.26 L209.05,374.94 L209.14,375.66 L209.32,376.11 L209.94,376.11 L210.56,376.11 L211.18,376.11 L211.8,376.11 L212.42,376.11 L213.04,376.11 L213.49,375.77 L213.75,375.24 L214.02,374.71 L214.28,374.18 L214.55,373.66 L214.82,373.14 L215.08,372.62 L215.35,372.1 L215.61,371.59 L215.88,371.07 L216.15,370.56 L216.41,370.05 L216.68,369.53 L216.85,368.47 L216.94,367.9 L217.03,367.35 L217.12,366.82 L217.21,366.3 L217.39,365.3 L217.56,364.35 L217.74,363.44 L217.92,362.58 L218.1,361.74 L218.27,360.94 L218.45,360.17 L218.63,359.42 L218.81,358.7 L218.98,358 L219.16,357.32 L219.34,356.66 L219.51,356.02 L219.69,355.39 L219.87,354.78 L220.05,354.18 L220.22,353.6 L220.4,353.03 L220.58,352.46 L220.76,351.91 L220.93,351.37 L221.11,350.84 L221.38,350.4 L221.73,350.06 L222.09,349.7 L222.44,349.31 L222.79,348.89 L223.15,348.45 L223.42,348.1 L223.68,347.74 L223.95,347.1 L224.12,346.54 L224.3,345.99 L224.48,345.45 L224.66,344.91 L224.83,344.38 L225.01,343.86 L225.19,343.35 L225.37,342.84 L225.54,342.34 L225.72,341.84 L225.9,341.35 L226.08,340.86 L226.25,340.38 L226.43,339.9 L226.61,339.42 L226.78,338.96 L226.96,338.49 L227.14,338.03 L227.32,337.57 L227.49,337.12 L227.67,336.67 L227.85,336.22 L228.03,335.78 L228.2,335.34 L228.38,334.9 L228.65,334.32 L228.91,333.84 L229.18,333.36 L229.44,332.87 L229.71,332.37 L229.98,331.88 L230.24,331.38 L230.51,330.87 L230.77,330.36 L231.04,329.85 L231.31,329.33 L231.57,328.82 L231.84,328.29 L232.1,327.77 L232.37,327.24 L232.64,326.61 L232.9,325.98 L233.17,325.36 L233.43,324.75 L233.7,324.13 L233.97,323.53 L234.23,322.92 L234.5,322.32 L234.76,321.72 L235.03,321.13 L235.3,320.54 L235.56,319.95 L235.83,319.37 L236.09,318.79 L236.36,318.21 L236.63,317.64 L236.89,317.12 L237.16,316.6 L237.42,316.09 L237.69,315.57 L237.96,315.05 L238.22,314.53 L238.49,314.01 L238.75,313.49 L239.02,312.97 L239.29,312.45 L239.55,311.93 L239.82,311.41 L240.08,310.87 L240.35,310.31 L240.62,309.75 L240.88,309.19 L241.15,308.64 L241.41,308.09 L241.68,307.54 L241.95,307 L242.21,306.45 L242.48,305.91 L242.74,305.37 L243.01,304.84 L243.27,304.3 L243.54,303.77 L243.81,303.26 L244.07,302.75 L244.34,302.24 L244.6,301.74 L244.87,301.23 L245.14,300.73 L245.4,300.23 L245.67,299.72 L245.93,299.22 L246.2,298.72 L246.47,298.22 L246.73,297.72 L247,297.22 L247.26,296.73 L247.53,296.23 L247.8,295.74 L248.06,295.24 L248.33,294.75 L248.59,294.25 L248.86,293.74 L249.13,293.23 L249.39,292.73 L249.66,292.23 L249.92,291.73 L250.19,291.24 L250.46,290.74 L250.72,290.25 L250.99,289.76 L251.25,289.27 L251.52,288.78 L251.79,288.29 L252.05,287.81 L252.32,287.33 L252.58,286.86 L252.85,286.39 L253.12,285.93 L253.38,285.46 L253.65,284.99 L253.91,284.53 L254.18,284.06 L254.45,283.6 L254.71,283.14 L254.98,282.68 L255.24,282.22 L255.51,281.76 L255.78,281.3 L256.04,280.85 L256.31,280.39 L256.57,279.94 L256.84,279.48 L257.11,279.03 L257.37,278.57 L257.64,278.11 L257.9,277.65 L258.17,277.2 L258.44,276.74 L258.7,276.29 L258.97,275.84 L259.23,275.39 L259.5,274.95 L259.77,274.5 L260.03,274.06 L260.3,273.61 L260.56,273.18 L260.83,272.75 L261.1,272.32 L261.36,271.89 L261.63,271.46 L261.89,271.03 L262.16,270.6 L262.43,270.18 L262.69,269.75 L262.96,269.33 L263.22,268.91 L263.49,268.49 L263.76,268.07 L264.02,267.65 L264.29,267.23 L264.55,266.81 L264.82,266.39 L265.09,265.97 L265.35,265.56 L265.62,265.14 L265.88,264.73 L266.15,264.32 L266.41,263.91 L266.68,263.5 L266.95,263.09 L267.21,262.68 L267.48,262.28 L267.74,261.87 L268.01,261.47 L268.28,261.07 L268.54,260.67 L268.81,260.28 L269.07,259.88 L269.34,259.49 L269.61,259.1 L269.87,258.71 L270.05,258.45" stroke="#000" stroke-width="1.45"/>
<path d="M137.15,348.7 L137.77,348.71 L138.39,348.71 L139.01,348.72 L139.63,348.74 L140.25,348.75 L140.87,348.77 L141.49,348.79 L142.11,348.82 L142.74,348.85 L143.36,348.88 L143.98,348.91 L144.6,348.95 L145.22,348.98 L145.84,349.02 L146.46,349.07 L147.08,349.11 L147.7,349.16 L148.32,349.21 L148.94,349.26 L149.56,349.31 L150.18,349.37 L150.8,349.43 L151.42,349.49 L152.04,349.55 L152.67,349.61 L153.29,349.68 L153.91,349.75 L154.53,349.82 L155.15,349.9 L155.77,349.97 L156.39,350.05 L156.92,350.12 L157.45,350.19 L157.98,350.26 L158.52,350.33 L159.05,350.41 L159.58,350.49 L160.11,350.56 L160.64,350.64 L161.18,350.72 L161.71,350.81 L162.24,350.89 L162.77,350.98 L163.3,351.07 L163.84,351.16 L164.37,351.25 L164.9,351.34 L165.43,351.44 L165.96,351.54 L166.5,351.64 L167.03,351.74 L167.56,351.84 L168.09,351.95 L168.62,352.05 L169.16,352.16 L169.69,352.27 L170.22,352.39 L170.75,352.5 L171.28,352.62 L171.82,352.74 L172.35,352.86 L172.88,353.05 L173.32,353.22 L173.85,353.39 L174.39,353.5 L175.01,353.56 L175.63,353.56 L176.25,353.48 L176.78,353.35 L177.31,353.25 L177.76,353.46 L178.2,353.7 L178.64,353.98 L179,354.23 L179.35,354.51 L179.71,354.81 L180.06,355.14 L180.42,355.5 L180.77,355.89 L181.12,356.31 L181.39,356.65 L181.83,356.85 L182.28,356.65 L182.72,356.41 L183.16,356.12 L183.52,355.86 L183.87,355.58 L184.23,355.28 L184.58,354.97 L184.94,354.63 L185.29,354.28 L185.65,353.92 L186,353.57 L186.36,354.05 L186.62,354.56 L186.89,355.08 L187.15,355.62 L187.42,356.18 L187.69,356.76 L187.95,357.37 L188.22,357.99 L188.39,358.42 L188.57,358.86 L188.75,359.32 L188.93,359.79 L189.1,360.27 L189.28,360.77 L189.46,361.29 L189.64,361.82 L189.81,362.37 L189.99,362.94 L190.35,362.62 L190.61,362.16 L190.88,361.71 L191.14,361.29 L191.41,360.87 L191.68,360.47 L191.94,360.08 L192.21,359.7 L192.47,359.33 L192.74,358.98 L193.01,358.64 L193.36,358.19 L193.71,357.77 L194.07,357.36 L194.42,356.97 L194.78,356.59 L195.13,356.22 L195.49,356.63 L195.75,357.17 L196.02,357.74 L196.29,358.33 L196.55,358.94 L196.73,359.37 L196.91,359.81 L197.08,360.26 L197.26,360.73 L197.44,361.21 L197.62,361.71 L197.79,362.23 L197.97,362.76 L198.15,363.32 L198.32,363.9 L198.5,364.5 L198.68,365.13 L198.86,365.78 L199.03,366.47 L199.21,367.18 L199.39,367.77 L199.83,367.53 L200.28,367.31 L200.72,367.13 L201.16,366.96 L201.69,366.8 L202.23,366.68 L202.76,366.59 L203.29,366.66 L203.47,367.48 L203.64,368.34 L203.82,369.25 L204,370.22 L204.18,371.25 L204.26,371.79 L204.35,372.36 L204.44,372.94 L204.53,373.54 L204.62,374.16 L204.71,374.82 L204.8,375.49 L204.89,376.11 L205.51,376.11 L206.13,376.11 L206.75,376.11 L207.37,376.11 L207.99,376.11 L208.61,376.11 L209.23,376.11 L209.85,376.11 L210.47,376.11 L211.09,376.11 L211.71,376.11 L212.33,376.11 L212.95,376.11 L213.57,376.11 L213.93,375.07 L214.02,374.28 L214.11,373.52 L214.19,372.79 L214.28,372.09 L214.37,371.41 L214.46,370.76 L214.55,370.14 L214.64,369.53 L214.73,368.94 L214.82,368.38 L214.9,367.82 L214.99,367.29 L215.08,366.77 L215.26,365.77 L215.44,364.82 L215.61,363.91 L215.79,363.05 L215.97,362.22 L216.15,361.43 L216.32,360.66 L216.5,359.92 L216.68,359.45 L217.3,359.51 L217.92,359.49 L218.45,359.41 L218.98,359.24 L219.43,359.04 L219.87,358.78 L220.22,358.53 L220.58,357.81 L220.76,357.06 L220.93,356.34 L221.11,355.63 L221.29,354.94 L221.46,354.26 L221.64,353.6 L221.82,352.96 L222,352.33 L222.17,351.71 L222.35,351.1 L222.53,350.51 L222.71,349.92 L222.88,349.35 L223.06,348.78 L223.24,348.22 L223.42,347.68 L223.59,347.13 L223.77,346.6 L223.95,346.08 L224.12,345.56 L224.3,345.05 L224.48,344.54 L224.66,344.04 L224.83,343.55 L225.01,343.06 L225.19,342.61 L225.45,342.19 L225.72,341.77 L225.99,341.33 L226.25,340.89 L226.52,340.44 L226.78,339.98 L227.05,339.51 L227.32,339.04 L227.58,338.56 L227.85,338.07 L228.11,337.58 L228.38,337.08 L228.65,336.58 L228.91,336.07 L229.18,335.55 L229.44,335 L229.62,334.52 L229.8,334.05 L229.98,333.58 L230.15,333.11 L230.33,332.65 L230.51,332.19 L230.69,331.74 L230.86,331.28 L231.04,330.84 L231.22,330.39 L231.39,329.95 L231.57,329.51 L231.75,329.08 L231.93,328.64 L232.1,328.21 L232.28,327.79 L232.46,327.36 L232.72,326.73 L232.99,326.1 L233.26,325.48 L233.52,324.86 L233.79,324.25 L234.05,323.64 L234.32,323.07 L234.59,322.55 L234.85,322.03 L235.12,321.51 L235.38,320.99 L235.65,320.46 L235.92,319.94 L236.18,319.41 L236.45,318.89 L236.71,318.36 L236.98,317.83 L237.25,317.31 L237.51,316.78 L237.78,316.25 L238.04,315.72 L238.31,315.2 L238.58,314.67 L238.84,314.13 L239.11,313.56 L239.37,312.99 L239.64,312.43 L239.91,311.87 L240.17,311.31 L240.44,310.75 L240.7,310.2 L240.97,309.65 L241.24,309.1 L241.5,308.56 L241.77,308.01 L242.03,307.47 L242.3,306.93 L242.57,306.39 L242.83,305.86 L243.1,305.33 L243.36,304.79 L243.63,304.26 L243.9,303.76 L244.16,303.26 L244.43,302.76 L244.69,302.25 L244.96,301.75 L245.23,301.25 L245.49,300.75 L245.76,300.25 L246.02,299.76 L246.29,299.26 L246.56,298.76 L246.82,298.27 L247.09,297.77 L247.35,297.28 L247.62,296.78 L247.89,296.29 L248.15,295.8 L248.42,295.3 L248.68,294.8 L248.95,294.29 L249.22,293.79 L249.48,293.29 L249.75,292.79 L250.01,292.29 L250.28,291.8 L250.54,291.31 L250.81,290.81 L251.08,290.32 L251.34,289.83 L251.61,289.35 L251.87,288.86 L252.14,288.38 L252.41,287.9 L252.67,287.42 L252.94,286.96 L253.2,286.49 L253.47,286.03 L253.74,285.57 L254,285.11 L254.27,284.65 L254.53,284.19 L254.8,283.73 L255.07,283.27 L255.33,282.81 L255.6,282.36 L255.86,281.9 L256.13,281.45 L256.4,280.99 L256.66,280.53 L256.93,280.07 L257.19,279.61 L257.46,279.16 L257.73,278.7 L257.99,278.25 L258.26,277.8 L258.52,277.35 L258.79,276.9 L259.06,276.46 L259.32,276.01 L259.59,275.57 L259.85,275.12 L260.12,274.68 L260.39,274.24 L260.65,273.8 L260.92,273.37 L261.18,272.93 L261.45,272.5 L261.72,272.07 L261.98,271.64 L262.25,271.21 L262.51,270.79 L262.78,270.36 L263.05,269.94 L263.31,269.52 L263.58,269.1 L263.84,268.68 L264.11,268.27 L264.38,267.85 L264.64,267.44 L264.91,267.02 L265.17,266.61 L265.44,266.2 L265.71,265.79 L265.97,265.38 L266.24,264.97 L266.5,264.56 L266.77,264.15 L267.04,263.74 L267.3,263.34 L267.57,262.93 L267.83,262.53 L268.1,262.13 L268.37,261.73 L268.63,261.33 L268.9,260.93 L269.16,260.53 L269.43,260.14 L269.7,259.75 L269.96,259.35 L270.05,259.22" stroke="#000" stroke-width="1.45"/>
<path d="M137.15,351.5 L137.77,351.51 L138.39,351.51 L139.01,351.52 L139.63,351.53 L140.25,351.55 L140.87,351.56 L141.49,351.58 L142.11,351.6 L142.74,351.63 L143.36,351.65 L143.98,351.68 L144.6,351.71 L145.22,351.74 L145.84,351.77 L146.46,351.81 L147.08,351.85 L147.7,351.89 L148.32,351.93 L148.94,351.97 L149.56,352.02 L150.18,352.06 L150.8,352.11 L151.42,352.16 L152.04,352.22 L152.67,352.27 L153.29,352.33 L153.91,352.39 L154.53,352.45 L155.15,352.51 L155.77,352.57 L156.39,352.64 L157.01,352.71 L157.63,352.78 L158.25,352.85 L158.87,352.92 L159.49,353 L160.11,353.08 L160.64,353.14 L161.18,353.21 L161.71,353.28 L162.24,353.36 L162.77,353.43 L163.3,353.51 L163.84,353.59 L164.37,353.66 L164.9,353.75 L165.43,353.83 L165.96,353.91 L166.5,354 L167.03,354.09 L167.56,354.18 L168.09,354.27 L168.62,354.36 L169.16,354.46 L169.69,354.55 L170.22,354.65 L170.75,354.76 L171.28,354.86 L171.82,354.97 L172.35,355.08 L172.88,355.25 L173.32,355.41 L173.85,355.55 L174.39,355.65 L175.01,355.69 L175.63,355.67 L176.16,355.59 L176.69,355.47 L177.22,355.29 L177.67,355.11 L178.2,355.34 L178.55,355.69 L178.91,356.08 L179.26,356.54 L179.53,356.91 L179.8,357.32 L180.06,357.76 L180.33,358.24 L180.59,358.77 L180.86,359.34 L181.12,359.95 L181.57,360.11 L182.01,359.91 L182.45,359.65 L182.9,359.34 L183.25,359.06 L183.61,358.76 L183.96,358.43 L184.32,358.08 L184.67,357.7 L185.03,357.31 L185.38,356.91 L185.74,356.49 L186.18,356.8 L186.44,357.24 L186.71,357.69 L186.98,358.16 L187.24,358.64 L187.51,359.13 L187.77,359.64 L188.04,360.17 L188.31,360.72 L188.57,361.28 L188.84,361.87 L189.1,362.49 L189.28,362.91 L189.46,363.35 L189.64,363.79 L189.81,364.26 L189.99,364.73 L190.35,364.24 L190.61,363.78 L190.88,363.34 L191.14,362.91 L191.41,362.49 L191.68,362.09 L191.94,361.7 L192.21,361.33 L192.47,360.96 L192.74,360.61 L193.01,360.27 L193.36,359.83 L193.71,359.41 L194.07,359 L194.42,358.61 L194.78,358.24 L195.13,357.88 L195.4,358.44 L195.58,358.92 L195.75,359.42 L195.93,359.93 L196.11,360.46 L196.29,361 L196.46,361.57 L196.64,362.16 L196.82,362.78 L196.99,363.42 L197.17,364.09 L197.35,364.78 L197.53,365.51 L197.7,366.28 L197.88,367.08 L198.06,367.93 L198.24,368.83 L198.41,369.78 L198.59,370.79 L198.68,371.32 L198.77,371.87 L199.21,372.02 L199.74,371.86 L200.28,371.73 L200.81,371.64 L201.43,371.59 L202.05,371.58 L202.67,371.62 L203.2,371.69 L203.73,371.79 L204.18,372.2 L204.26,372.81 L204.35,373.45 L204.44,374.11 L204.53,374.8 L204.62,375.52 L204.71,376.11 L205.33,376.11 L205.95,376.11 L206.57,376.11 L207.19,376.11 L207.81,376.11 L208.43,376.11 L209.05,376.11 L209.67,376.11 L210.29,376.11 L210.91,376.11 L211.53,376.11 L212.16,376.11 L212.78,376.11 L213.4,376.11 L213.66,375.06 L213.75,374.33 L213.84,373.62 L213.93,372.95 L214.02,372.3 L214.11,371.67 L214.19,371.06 L214.28,370.47 L214.37,369.9 L214.46,369.34 L214.55,368.8 L214.64,368.28 L214.82,367.28 L214.99,366.32 L215.17,365.41 L215.35,364.54 L215.52,363.71 L215.7,362.91 L215.88,362.14 L216.06,361.39 L216.23,360.67 L216.41,359.98 L216.59,359.3 L216.77,358.65 L217.3,358.75 L217.83,358.85 L218.45,358.88 L219.07,358.79 L219.6,358.63 L220.05,358.43 L220.49,358.15 L220.76,357.59 L220.93,356.79 L221.11,356.02 L221.29,355.28 L221.46,354.55 L221.64,353.85 L221.82,353.16 L222,352.49 L222.17,351.84 L222.35,351.2 L222.53,350.57 L222.71,349.96 L222.88,349.35 L223.06,348.76 L223.24,348.18 L223.42,347.62 L223.59,347.06 L223.77,346.51 L223.95,345.96 L224.12,345.43 L224.3,344.91 L224.48,344.39 L224.66,343.88 L224.83,343.37 L225.01,342.87 L225.19,342.38 L225.45,341.94 L225.72,341.54 L225.99,341.13 L226.25,340.71 L226.52,340.28 L226.78,339.84 L227.05,339.4 L227.32,338.94 L227.58,338.49 L227.85,338.02 L228.11,337.55 L228.38,337.07 L228.65,336.59 L228.91,336.1 L229.18,335.6 L229.44,335.1 L229.71,334.6 L229.98,334.09 L230.24,333.58 L230.51,333.06 L230.77,332.54 L230.95,332.06 L231.13,331.59 L231.31,331.11 L231.48,330.65 L231.66,330.18 L231.84,329.72 L232.02,329.27 L232.19,328.81 L232.37,328.37 L232.55,327.92 L232.72,327.48 L232.9,327.04 L233.08,326.61 L233.26,326.18 L233.43,325.75 L233.61,325.33 L233.88,324.69 L234.14,324.07 L234.41,323.46 L234.68,322.96 L234.94,322.45 L235.21,321.95 L235.47,321.44 L235.74,320.93 L236,320.42 L236.27,319.91 L236.54,319.4 L236.8,318.89 L237.07,318.37 L237.33,317.86 L237.6,317.34 L237.87,316.82 L238.13,316.3 L238.4,315.79 L238.66,315.24 L238.93,314.67 L239.2,314.1 L239.46,313.54 L239.73,312.98 L239.99,312.42 L240.26,311.86 L240.53,311.31 L240.79,310.75 L241.06,310.2 L241.32,309.66 L241.59,309.11 L241.86,308.57 L242.12,308.03 L242.39,307.49 L242.65,306.96 L242.92,306.42 L243.19,305.89 L243.45,305.36 L243.72,304.83 L243.98,304.31 L244.25,303.8 L244.52,303.31 L244.78,302.82 L245.05,302.32 L245.31,301.83 L245.58,301.34 L245.85,300.85 L246.11,300.36 L246.38,299.86 L246.64,299.37 L246.91,298.88 L247.18,298.39 L247.44,297.91 L247.71,297.42 L247.97,296.93 L248.24,296.42 L248.51,295.92 L248.77,295.41 L249.04,294.9 L249.3,294.4 L249.57,293.9 L249.84,293.4 L250.1,292.9 L250.37,292.41 L250.63,291.92 L250.9,291.42 L251.17,290.93 L251.43,290.45 L251.7,289.96 L251.96,289.47 L252.23,288.99 L252.5,288.51 L252.76,288.04 L253.03,287.57 L253.29,287.1 L253.56,286.64 L253.83,286.17 L254.09,285.71 L254.36,285.24 L254.62,284.78 L254.89,284.32 L255.16,283.86 L255.42,283.4 L255.69,282.95 L255.95,282.49 L256.22,282.04 L256.49,281.58 L256.75,281.13 L257.02,280.68 L257.28,280.23 L257.55,279.78 L257.82,279.32 L258.08,278.87 L258.35,278.42 L258.61,277.97 L258.88,277.52 L259.14,277.08 L259.41,276.63 L259.68,276.19 L259.94,275.75 L260.21,275.31 L260.47,274.87 L260.74,274.43 L261.01,273.99 L261.27,273.56 L261.54,273.13 L261.8,272.7 L262.07,272.27 L262.34,271.85 L262.6,271.43 L262.87,271 L263.13,270.58 L263.4,270.16 L263.67,269.74 L263.93,269.33 L264.2,268.91 L264.46,268.5 L264.73,268.08 L265,267.67 L265.26,267.26 L265.53,266.84 L265.79,266.43 L266.06,266.02 L266.33,265.61 L266.59,265.2 L266.86,264.79 L267.12,264.38 L267.39,263.98 L267.66,263.58 L267.92,263.17 L268.19,262.77 L268.45,262.37 L268.72,261.98 L268.99,261.58 L269.25,261.19 L269.52,260.79 L269.78,260.4 L270.05,260.01" stroke="#000" stroke-width="1.45"/>
<path d="M137.15,353.5 L137.77,353.51 L138.39,353.51 L139.01,353.52 L139.63,353.53 L140.25,353.55 L140.87,353.56 L141.49,353.58 L142.11,353.6 L142.74,353.63 L143.36,353.65 L143.98,353.68 L144.6,353.71 L145.22,353.74 L145.84,353.78 L146.46,353.81 L147.08,353.85 L147.7,353.89 L148.32,353.93 L148.94,353.98 L149.56,354.02 L150.18,354.07 L150.8,354.12 L151.42,354.17 L152.04,354.23 L152.67,354.28 L153.29,354.34 L153.91,354.4 L154.53,354.46 L155.15,354.52 L155.77,354.59 L156.39,354.66 L157.01,354.72 L157.63,354.8 L158.25,354.87 L158.87,354.95 L159.49,355.02 L160.02,355.09 L160.56,355.16 L161.09,355.23 L161.62,355.31 L162.15,355.38 L162.68,355.46 L163.22,355.54 L163.75,355.62 L164.28,355.7 L164.81,355.78 L165.34,355.87 L165.88,355.95 L166.41,356.04 L166.94,356.14 L167.47,356.23 L168,356.32 L168.54,356.42 L169.07,356.52 L169.6,356.63 L170.13,356.73 L170.66,356.84 L171.2,356.95 L171.73,357.07 L172.26,357.18 L172.79,357.33 L173.32,357.49 L173.85,357.6 L174.39,357.68 L175.01,357.71 L175.63,357.69 L176.16,357.62 L176.69,357.51 L177.14,357.71 L177.58,357.98 L177.93,358.23 L178.29,358.51 L178.64,358.82 L179,359.16 L179.35,359.54 L179.71,359.96 L179.97,360.3 L180.24,360.66 L180.5,361.05 L180.86,361.36 L181.48,361.27 L182.01,361.14 L182.54,360.95 L182.99,360.75 L183.43,360.52 L183.87,360.26 L184.32,359.97 L184.67,359.71 L185.03,359.45 L185.38,359.16 L185.74,358.87 L186.09,359.19 L186.44,359.61 L186.8,360.04 L187.15,360.48 L187.42,360.82 L187.69,361.17 L187.95,361.53 L188.22,361.91 L188.48,362.29 L188.75,362.68 L189.02,363.09 L189.28,363.51 L189.55,363.95 L189.81,364.4 L190.08,364.86 L190.35,365.35 L190.61,365.85 L190.88,366.32 L191.14,365.92 L191.41,365.55 L191.68,365.18 L191.94,364.83 L192.21,364.49 L192.56,364.05 L192.92,363.63 L193.27,363.23 L193.63,362.85 L193.98,362.48 L194.34,362.13 L194.87,362.51 L195.04,363.06 L195.22,363.64 L195.4,364.23 L195.58,364.85 L195.75,365.5 L195.93,366.17 L196.11,366.88 L196.29,367.62 L196.46,368.39 L196.64,369.2 L196.82,370.06 L196.99,370.97 L197.17,371.93 L197.35,372.95 L197.44,373.48 L197.53,374.04 L197.62,374.61 L197.7,375.21 L197.79,375.82 L198.15,376.11 L198.77,376.11 L199.39,376.11 L200.01,376.11 L200.63,376.11 L201.25,376.11 L201.87,376.11 L202.49,376.11 L203.11,376.11 L203.73,376.11 L204.35,376.11 L204.97,376.11 L205.59,376.11 L206.22,376.11 L206.84,376.11 L207.46,376.11 L208.08,376.11 L208.7,376.11 L209.32,376.11 L209.94,376.11 L210.56,376.11 L211.18,376.11 L211.8,376.11 L212.42,376.11 L213.04,376.11 L213.57,375.71 L213.66,375.16 L213.75,374.63 L213.84,374.11 L214.02,373.11 L214.19,372.15 L214.37,371.24 L214.55,370.36 L214.73,369.52 L214.9,368.71 L215.08,367.93 L215.26,367.18 L215.44,366.45 L215.61,365.74 L215.79,365.05 L215.97,364.38 L216.15,363.85 L216.41,363.5 L216.68,363.13 L216.94,362.76 L217.21,362.37 L217.48,361.97 L217.74,361.55 L218.01,361.13 L218.27,360.7 L218.54,360.25 L218.81,359.8 L219.07,359.33 L219.34,358.86 L219.6,358.37 L219.87,357.88 L220.13,357.38 L220.4,356.87 L220.67,356.35 L220.93,355.83 L221.2,355.3 L221.46,354.76 L221.73,354.21 L222,353.62 L222.17,353.02 L222.35,352.43 L222.53,351.85 L222.71,351.27 L222.88,350.71 L223.06,350.16 L223.24,349.61 L223.42,349.07 L223.59,348.54 L223.77,348.02 L223.95,347.5 L224.12,346.99 L224.3,346.48 L224.48,345.99 L224.66,345.49 L224.83,345 L225.01,344.52 L225.19,344.04 L225.37,343.57 L225.54,343.1 L225.72,342.63 L225.9,342.17 L226.08,341.72 L226.34,341.21 L226.61,340.75 L226.87,340.27 L227.14,339.8 L227.4,339.32 L227.67,338.83 L227.94,338.34 L228.2,337.84 L228.47,337.34 L228.73,336.83 L229,336.32 L229.27,335.81 L229.53,335.29 L229.8,334.77 L230.06,334.25 L230.33,333.72 L230.6,333.19 L230.86,332.61 L231.04,332.16 L231.22,331.71 L231.39,331.27 L231.57,330.83 L231.75,330.4 L231.93,329.96 L232.1,329.53 L232.28,329.1 L232.46,328.68 L232.72,328.05 L232.99,327.42 L233.26,326.8 L233.52,326.18 L233.79,325.57 L234.05,325 L234.32,324.48 L234.59,323.96 L234.85,323.44 L235.12,322.92 L235.38,322.4 L235.65,321.88 L235.92,321.35 L236.18,320.83 L236.45,320.3 L236.71,319.78 L236.98,319.25 L237.25,318.73 L237.51,318.2 L237.78,317.68 L238.04,317.15 L238.31,316.62 L238.58,316.1 L238.84,315.56 L239.11,314.99 L239.37,314.42 L239.64,313.85 L239.91,313.29 L240.17,312.73 L240.44,312.17 L240.7,311.62 L240.97,311.07 L241.24,310.52 L241.5,309.97 L241.77,309.43 L242.03,308.88 L242.3,308.34 L242.57,307.81 L242.83,307.27 L243.1,306.74 L243.36,306.21 L243.63,305.68 L243.9,305.15 L244.16,304.62 L244.43,304.13 L244.69,303.64 L244.96,303.16 L245.23,302.67 L245.49,302.18 L245.76,301.69 L246.02,301.21 L246.29,300.72 L246.56,300.23 L246.82,299.74 L247.09,299.26 L247.35,298.77 L247.62,298.29 L247.89,297.79 L248.15,297.29 L248.42,296.78 L248.68,296.28 L248.95,295.78 L249.22,295.28 L249.48,294.78 L249.75,294.29 L250.01,293.79 L250.28,293.3 L250.54,292.81 L250.81,292.32 L251.08,291.83 L251.34,291.35 L251.61,290.86 L251.87,290.38 L252.14,289.9 L252.41,289.42 L252.67,288.94 L252.94,288.46 L253.2,287.99 L253.47,287.53 L253.74,287.07 L254,286.61 L254.27,286.15 L254.53,285.69 L254.8,285.23 L255.07,284.77 L255.33,284.31 L255.6,283.86 L255.86,283.4 L256.13,282.95 L256.4,282.5 L256.66,282.05 L256.93,281.6 L257.19,281.15 L257.46,280.7 L257.73,280.25 L257.99,279.79 L258.26,279.33 L258.52,278.88 L258.79,278.43 L259.06,277.98 L259.32,277.53 L259.59,277.08 L259.85,276.64 L260.12,276.19 L260.39,275.75 L260.65,275.32 L260.92,274.89 L261.18,274.46 L261.45,274.03 L261.72,273.61 L261.98,273.18 L262.25,272.76 L262.51,272.33 L262.78,271.91 L263.05,271.49 L263.31,271.07 L263.58,270.65 L263.84,270.24 L264.11,269.82 L264.38,269.4 L264.64,268.99 L264.91,268.58 L265.17,268.17 L265.44,267.76 L265.71,267.34 L265.97,266.93 L266.24,266.52 L266.5,266.12 L266.77,265.71 L267.04,265.3 L267.3,264.9 L267.57,264.5 L267.83,264.1 L268.1,263.7 L268.37,263.3 L268.63,262.9 L268.9,262.5 L269.16,262.11 L269.43,261.72 L269.7,261.32 L269.96,260.93 L270.05,260.8" stroke="#000" stroke-width="1.45"/>
<path d="M137.15,357.21 L137.77,357.21 L138.39,357.21 L139.01,357.22 L139.63,357.23 L140.25,357.24 L140.87,357.26 L141.49,357.27 L142.11,357.29 L142.74,357.31 L143.36,357.33 L143.98,357.35 L144.6,357.38 L145.22,357.4 L145.84,357.43 L146.46,357.46 L147.08,357.49 L147.7,357.52 L148.32,357.56 L148.94,357.6 L149.56,357.63 L150.18,357.67 L150.8,357.71 L151.42,357.76 L152.04,357.8 L152.67,357.85 L153.29,357.89 L153.91,357.94 L154.53,358 L155.15,358.05 L155.77,358.1 L156.39,358.16 L157.01,358.22 L157.63,358.28 L158.25,358.34 L158.87,358.4 L159.49,358.47 L160.11,358.54 L160.73,358.61 L161.35,358.68 L161.97,358.76 L162.6,358.83 L163.22,358.91 L163.75,358.98 L164.28,359.05 L164.81,359.13 L165.34,359.2 L165.88,359.28 L166.41,359.36 L166.94,359.44 L167.47,359.53 L168,359.61 L168.54,359.7 L169.07,359.8 L169.6,359.89 L170.13,359.99 L170.66,360.09 L171.2,360.19 L171.73,360.3 L172.26,360.41 L172.79,360.56 L173.23,360.73 L173.77,360.88 L174.3,360.98 L174.92,361.03 L175.54,361.01 L176.07,360.93 L176.6,360.8 L177.22,360.85 L177.67,361.1 L178.11,361.4 L178.47,361.67 L178.82,361.97 L179.17,362.3 L179.53,362.66 L179.88,363.06 L180.24,363.5 L180.5,363.86 L180.77,364.24 L181.04,364.65 L181.3,365.08 L181.57,365.55 L181.83,366.04 L182.45,366.02 L182.9,365.74 L183.25,365.48 L183.61,365.19 L183.96,364.88 L184.32,364.54 L184.67,364.18 L185.03,363.81 L185.38,363.41 L185.74,363 L186.09,362.61 L186.53,362.95 L186.8,363.51 L187.07,364.09 L187.33,364.7 L187.6,365.33 L187.77,365.76 L187.95,366.21 L188.13,366.67 L188.31,367.15 L188.48,367.64 L188.66,368.14 L188.84,368.67 L189.02,369.21 L189.19,369.78 L189.37,370.36 L189.55,370.97 L189.72,371.61 L189.9,372.27 L190.08,372.96 L190.26,373.68 L190.43,374.44 L190.61,375.04 L190.88,374.57 L191.14,374.12 L191.41,373.68 L191.68,373.26 L191.94,372.86 L192.21,372.48 L192.47,372.11 L192.74,371.75 L193.01,371.41 L193.36,370.97 L193.71,370.56 L194.07,370.16 L194.42,369.79 L194.78,369.43 L195.13,369.09 L195.4,369.66 L195.58,370.3 L195.75,370.97 L195.93,371.66 L196.11,372.39 L196.29,373.16 L196.46,373.96 L196.64,374.81 L196.82,375.7 L197.08,376.11 L197.7,376.11 L198.32,376.11 L198.95,376.11 L199.57,376.11 L200.19,376.11 L200.81,376.11 L201.43,376.11 L202.05,376.11 L202.67,376.11 L203.29,376.11 L203.91,376.11 L204.53,376.11 L205.15,376.11 L205.77,376.11 L206.39,376.11 L207.01,376.11 L207.63,376.11 L208.25,376.11 L208.88,376.11 L209.5,376.11 L210.12,376.11 L210.74,376.11 L211.36,376.11 L211.98,376.11 L212.6,376.11 L213.22,376.11 L213.66,375.93 L213.75,375.37 L213.84,374.84 L213.93,374.31 L214.02,373.8 L214.19,372.81 L214.37,371.87 L214.55,370.96 L214.73,370.09 L214.9,369.26 L215.08,368.45 L215.26,367.67 L215.44,366.92 L215.61,366.19 L215.79,365.48 L215.97,364.78 L216.15,364.11 L216.32,363.46 L216.5,362.82 L216.68,362.24 L217.03,361.95 L217.39,361.64 L217.74,361.3 L218.1,360.93 L218.45,360.53 L218.81,360.11 L219.07,359.77 L219.34,359.41 L219.6,359.05 L219.87,358.66 L220.13,358.26 L220.4,357.85 L220.67,357.43 L220.93,356.99 L221.2,356.54 L221.46,356.08 L221.73,355.6 L222,355.12 L222.17,354.45 L222.35,353.77 L222.53,353.12 L222.71,352.47 L222.88,351.84 L223.06,351.23 L223.24,350.62 L223.42,350.03 L223.59,349.45 L223.77,348.87 L223.95,348.31 L224.12,347.76 L224.3,347.21 L224.48,346.67 L224.66,346.14 L224.83,345.62 L225.01,345.11 L225.19,344.6 L225.45,344.06 L225.72,343.58 L225.99,343.09 L226.25,342.6 L226.52,342.11 L226.78,341.61 L227.05,341.11 L227.32,340.6 L227.58,340.08 L227.85,339.57 L228.11,339.05 L228.38,338.52 L228.65,338 L228.91,337.47 L229.18,336.93 L229.44,336.4 L229.71,335.86 L229.98,335.32 L230.24,334.78 L230.51,334.23 L230.77,333.62 L230.95,333.19 L231.13,332.76 L231.31,332.33 L231.48,331.9 L231.66,331.47 L231.84,331.05 L232.1,330.42 L232.37,329.79 L232.64,329.17 L232.9,328.56 L233.17,327.95 L233.43,327.34 L233.7,326.73 L233.97,326.13 L234.23,325.54 L234.5,324.94 L234.76,324.35 L235.03,323.77 L235.3,323.22 L235.56,322.71 L235.83,322.2 L236.09,321.69 L236.36,321.17 L236.63,320.66 L236.89,320.14 L237.16,319.62 L237.42,319.1 L237.69,318.59 L237.96,318.07 L238.22,317.55 L238.49,317.03 L238.75,316.46 L239.02,315.89 L239.29,315.33 L239.55,314.76 L239.82,314.21 L240.08,313.65 L240.35,313.1 L240.62,312.54 L240.88,311.99 L241.15,311.45 L241.41,310.9 L241.68,310.36 L241.95,309.82 L242.21,309.28 L242.48,308.75 L242.74,308.21 L243.01,307.68 L243.27,307.15 L243.54,306.63 L243.81,306.1 L244.07,305.59 L244.34,305.09 L244.6,304.59 L244.87,304.09 L245.14,303.6 L245.4,303.1 L245.67,302.6 L245.93,302.11 L246.2,301.61 L246.47,301.12 L246.73,300.62 L247,300.13 L247.26,299.64 L247.53,299.15 L247.8,298.66 L248.06,298.17 L248.33,297.67 L248.59,297.17 L248.86,296.67 L249.13,296.17 L249.39,295.68 L249.66,295.18 L249.92,294.69 L250.19,294.2 L250.46,293.71 L250.72,293.22 L250.99,292.74 L251.25,292.25 L251.52,291.77 L251.79,291.29 L252.05,290.8 L252.32,290.33 L252.58,289.85 L252.85,289.37 L253.12,288.9 L253.38,288.43 L253.65,287.97 L253.91,287.51 L254.18,287.05 L254.45,286.59 L254.71,286.13 L254.98,285.67 L255.24,285.21 L255.51,284.76 L255.78,284.3 L256.04,283.85 L256.31,283.4 L256.57,282.94 L256.84,282.49 L257.11,282.03 L257.37,281.58 L257.64,281.13 L257.9,280.68 L258.17,280.23 L258.44,279.78 L258.7,279.33 L258.97,278.89 L259.23,278.44 L259.5,278 L259.77,277.56 L260.03,277.12 L260.3,276.68 L260.56,276.25 L260.83,275.81 L261.1,275.38 L261.36,274.95 L261.63,274.51 L261.89,274.09 L262.16,273.66 L262.43,273.24 L262.69,272.82 L262.96,272.4 L263.22,271.98 L263.49,271.56 L263.76,271.14 L264.02,270.72 L264.29,270.31 L264.55,269.89 L264.82,269.48 L265.09,269.07 L265.35,268.66 L265.62,268.25 L265.88,267.84 L266.15,267.43 L266.41,267.03 L266.68,266.62 L266.95,266.21 L267.21,265.81 L267.48,265.41 L267.74,265.01 L268.01,264.61 L268.28,264.21 L268.54,263.81 L268.81,263.41 L269.07,263.02 L269.34,262.63 L269.61,262.23 L269.87,261.84 L270.05,261.59" stroke="#000" stroke-width="1.45"/>
<path d="M137.15,362.02 L137.77,362.02 L138.39,362.02 L139.01,362.02 L139.63,362.01 L140.25,362.01 L140.87,362 L141.49,361.99 L142.11,361.98 L142.74,361.97 L143.36,361.96 L143.98,361.95 L144.6,361.94 L145.22,361.92 L145.84,361.91 L146.46,361.89 L147.08,361.88 L147.7,361.86 L148.32,361.84 L148.94,361.83 L149.56,361.81 L150.18,361.79 L150.8,361.77 L151.42,361.75 L152.04,361.73 L152.67,361.71 L153.29,361.69 L153.91,361.67 L154.53,361.65 L155.15,361.63 L155.77,361.61 L156.39,361.6 L157.01,361.58 L157.63,361.56 L158.25,361.54 L158.87,361.53 L159.49,361.51 L160.11,361.5 L160.73,361.49 L161.35,361.48 L161.97,361.47 L162.6,361.47 L163.22,361.46 L163.84,361.46 L164.46,361.47 L165.08,361.47 L165.7,361.48 L166.32,361.5 L166.94,361.51 L167.56,361.54 L168.18,361.57 L168.8,361.6 L169.42,361.64 L170.04,361.69 L170.66,361.75 L171.28,361.81 L171.9,361.89 L172.44,361.96 L172.97,362.09 L173.5,362.24 L174.03,362.36 L174.56,362.47 L175.1,362.56 L175.63,362.63 L176.25,362.69 L176.87,362.72 L177.49,362.74 L178.02,362.92 L178.38,363.18 L178.73,363.47 L179.09,363.8 L179.44,364.16 L179.8,364.56 L180.15,364.99 L180.42,365.35 L180.68,365.73 L180.95,366.13 L181.21,366.57 L181.57,366.81 L182.1,366.97 L182.63,367.13 L183.16,367.28 L183.7,367.43 L184.23,367.56 L184.76,367.68 L185.29,367.78 L185.82,367.87 L186.36,368 L186.71,368.38 L186.89,368.86 L187.07,369.35 L187.24,369.85 L187.42,370.37 L187.6,370.91 L187.77,371.48 L187.95,372.06 L188.13,372.66 L188.31,373.29 L188.48,373.94 L188.66,374.63 L188.84,375.34 L189.02,376.08 L189.64,376.11 L190.26,376.11 L190.88,376.11 L191.5,376.11 L192.12,376.11 L192.74,376.11 L193.36,376.11 L193.98,376.11 L194.6,376.11 L195.22,376.11 L195.84,376.11 L196.46,376.11 L197.08,376.11 L197.7,376.11 L198.32,376.11 L198.95,376.11 L199.57,376.11 L200.19,376.11 L200.81,376.11 L201.43,376.11 L202.05,376.11 L202.67,376.11 L203.29,376.11 L203.91,376.11 L204.53,376.11 L205.15,376.11 L205.77,376.11 L206.39,376.11 L207.01,376.11 L207.63,376.11 L208.25,376.11 L208.88,376.11 L209.5,376.11 L210.12,376.11 L210.74,376.11 L211.36,376.11 L211.98,376.11 L212.6,376.11 L213.22,376.11 L213.57,375.56 L213.75,374.89 L213.93,374.23 L214.11,373.58 L214.28,372.95 L214.46,372.33 L214.64,371.72 L214.82,371.12 L214.99,370.53 L215.17,369.95 L215.35,369.37 L215.52,368.81 L215.7,368.25 L215.88,367.71 L216.06,367.16 L216.23,366.63 L216.41,366.1 L216.59,365.58 L216.77,365.07 L216.94,364.56 L217.12,364.05 L217.3,363.55 L217.56,363.03 L217.83,362.55 L218.1,362.07 L218.36,361.57 L218.63,361.07 L218.89,360.57 L219.16,360.05 L219.43,359.53 L219.69,359 L219.96,358.47 L220.22,357.93 L220.49,357.39 L220.76,356.84 L221.02,356.29 L221.29,355.73 L221.55,355.17 L221.82,354.61 L222,354.18 L222.17,353.69 L222.35,353.21 L222.53,352.73 L222.71,352.26 L222.88,351.78 L223.06,351.32 L223.24,350.85 L223.42,350.39 L223.59,349.93 L223.77,349.48 L223.95,349.03 L224.12,348.58 L224.3,348.13 L224.48,347.68 L224.66,347.24 L224.83,346.8 L225.01,346.37 L225.19,345.93 L225.37,345.5 L225.54,345.07 L225.72,344.64 L225.9,344.21 L226.08,343.79 L226.25,343.36 L226.52,342.82 L226.78,342.32 L227.05,341.81 L227.32,341.29 L227.58,340.78 L227.85,340.26 L228.11,339.73 L228.38,339.2 L228.65,338.67 L228.91,338.14 L229.18,337.6 L229.44,337.07 L229.71,336.53 L229.98,335.96 L230.15,335.53 L230.33,335.1 L230.51,334.68 L230.77,334.05 L231.04,333.42 L231.31,332.8 L231.57,332.19 L231.84,331.57 L232.1,330.96 L232.37,330.35 L232.64,329.75 L232.9,329.15 L233.17,328.56 L233.43,327.96 L233.7,327.37 L233.97,326.79 L234.23,326.2 L234.5,325.63 L234.76,325.09 L235.03,324.55 L235.3,324.01 L235.56,323.47 L235.83,322.93 L236.09,322.39 L236.36,321.85 L236.63,321.31 L236.89,320.77 L237.16,320.23 L237.42,319.7 L237.69,319.16 L237.96,318.62 L238.22,318.09 L238.49,317.55 L238.75,317.02 L239.02,316.49 L239.29,315.95 L239.55,315.39 L239.82,314.84 L240.08,314.29 L240.35,313.74 L240.62,313.19 L240.88,312.65 L241.15,312.11 L241.41,311.57 L241.68,311.03 L241.95,310.49 L242.21,309.96 L242.48,309.43 L242.74,308.9 L243.01,308.39 L243.27,307.88 L243.54,307.38 L243.81,306.87 L244.07,306.36 L244.34,305.85 L244.6,305.35 L244.87,304.85 L245.14,304.34 L245.4,303.84 L245.67,303.34 L245.93,302.84 L246.2,302.34 L246.47,301.84 L246.73,301.34 L247,300.85 L247.26,300.35 L247.53,299.86 L247.8,299.36 L248.06,298.87 L248.33,298.38 L248.59,297.89 L248.86,297.39 L249.13,296.89 L249.39,296.4 L249.66,295.91 L249.92,295.41 L250.19,294.93 L250.46,294.44 L250.72,293.95 L250.99,293.47 L251.25,292.98 L251.52,292.5 L251.79,292.02 L252.05,291.54 L252.32,291.06 L252.58,290.59 L252.85,290.12 L253.12,289.66 L253.38,289.19 L253.65,288.72 L253.91,288.26 L254.18,287.8 L254.45,287.34 L254.71,286.88 L254.98,286.42 L255.24,285.96 L255.51,285.5 L255.78,285.05 L256.04,284.59 L256.31,284.14 L256.57,283.69 L256.84,283.23 L257.11,282.78 L257.37,282.33 L257.64,281.88 L257.9,281.43 L258.17,280.98 L258.44,280.53 L258.7,280.09 L258.97,279.64 L259.23,279.2 L259.5,278.76 L259.77,278.32 L260.03,277.88 L260.3,277.44 L260.56,277.01 L260.83,276.58 L261.1,276.14 L261.36,275.71 L261.63,275.28 L261.89,274.86 L262.16,274.43 L262.43,274.01 L262.69,273.58 L262.96,273.16 L263.22,272.74 L263.49,272.32 L263.76,271.91 L264.02,271.49 L264.29,271.08 L264.55,270.66 L264.82,270.25 L265.09,269.84 L265.35,269.43 L265.62,269.02 L265.88,268.61 L266.15,268.2 L266.41,267.8 L266.68,267.39 L266.95,266.99 L267.21,266.59 L267.48,266.19 L267.74,265.79 L268.01,265.39 L268.28,264.99 L268.54,264.6 L268.81,264.2 L269.07,263.81 L269.34,263.42 L269.61,263.03 L269.87,262.64 L270.05,262.38" stroke="#000" stroke-width="1.45"/>
<path d="M137.15,344.3 L137.77,344.31 L138.39,344.32 L139.01,344.33 L139.63,344.34 L140.25,344.36 L140.87,344.39 L141.49,344.41 L142.11,344.44 L142.74,344.47 L143.36,344.51 L143.98,344.55 L144.6,344.59 L145.22,344.63 L145.84,344.68 L146.46,344.73 L147.08,344.78 L147.7,344.84 L148.32,344.89 L148.94,344.95 L149.56,345.02 L150.18,345.08 L150.8,345.15 L151.42,345.22 L152.04,345.3 L152.67,345.37 L153.29,345.45 L153.82,345.52 L154.35,345.59 L154.88,345.66 L155.41,345.74 L155.95,345.82 L156.48,345.9 L157.01,345.98 L157.54,346.06 L158.07,346.14 L158.61,346.23 L159.14,346.32 L159.67,346.41 L160.2,346.5 L160.73,346.6 L161.27,346.69 L161.8,346.79 L162.33,346.89 L162.86,346.99 L163.39,347.1 L163.93,347.21 L164.46,347.32 L164.99,347.43 L165.52,347.54 L166.05,347.65 L166.58,347.77 L167.12,347.89 L167.65,348.02 L168.18,348.14 L168.71,348.27 L169.24,348.4 L169.78,348.53 L170.31,348.67 L170.84,348.8 L171.37,348.95 L171.9,349.09 L172.44,349.24 L172.88,349.4 L173.32,349.57 L173.85,349.75 L174.39,349.89 L174.92,350 L175.45,350.07 L176.07,350.12 L176.69,350.11 L177.31,350.17 L177.76,350.4 L178.2,350.67 L178.64,350.96 L179,351.22 L179.35,351.5 L179.71,351.8 L180.06,352.13 L180.42,352.49 L180.77,352.87 L181.12,353.27 L181.66,353.35 L182.19,353.19 L182.63,353.01 L183.08,352.79 L183.52,352.53 L183.96,352.24 L184.41,352.48 L184.76,352.81 L185.11,353.16 L185.47,353.54 L185.82,353.94 L186.18,354.36 L186.53,354.79 L186.89,355.23 L187.15,355.57 L187.42,355.92 L187.69,356.28 L187.95,356.65 L188.22,357.02 L188.48,357.41 L188.75,357.81 L189.19,357.56 L189.55,357.18 L189.9,356.81 L190.26,356.46 L190.61,356.12 L190.97,355.79 L191.32,355.48 L191.68,355.17 L192.03,354.88 L192.38,354.6 L192.74,355 L193.01,355.4 L193.27,355.83 L193.54,356.26 L193.8,356.71 L194.07,357.18 L194.34,357.67 L194.6,358.17 L194.87,358.7 L195.13,359.25 L195.4,359.82 L195.67,360.42 L195.93,361.04 L196.11,361.47 L196.29,361.92 L196.46,362.38 L196.64,362.86 L196.82,363.36 L196.99,363.87 L197.53,363.64 L197.79,363.28 L198.06,362.93 L198.32,362.59 L198.68,362.17 L199.03,361.76 L199.39,361.38 L199.74,361.01 L200.1,360.66 L200.36,361.25 L200.54,361.89 L200.72,362.55 L200.9,363.24 L201.07,363.97 L201.25,364.72 L201.43,365.52 L201.61,366.36 L201.78,367.24 L201.96,368.18 L202.14,369.17 L202.23,369.69 L202.31,370.23 L202.4,370.78 L202.49,371.36 L202.58,371.95 L202.67,372.57 L202.76,373.21 L202.85,373.87 L202.94,374.57 L203.02,375.29 L203.11,376.05 L203.73,376.11 L204.35,376.11 L204.97,376.11 L205.59,376.11 L206.22,376.11 L206.84,376.11 L207.46,376.11 L208.08,376.11 L208.7,376.11 L209.32,376.11 L209.94,376.11 L210.56,376.11 L211.18,376.11 L211.8,376.11 L212.42,376.11 L212.6,375.31 L212.78,374.39 L212.95,373.51 L213.49,373.77 L213.75,374.23 L214.02,374.7 L214.28,375.16 L214.55,375.63 L214.82,376.1 L215.44,376.11 L216.06,376.11 L216.23,375.37 L216.32,374.71 L216.41,374.08 L216.5,373.46 L216.59,372.86 L216.68,372.28 L216.77,371.71 L216.85,371.17 L216.94,370.63 L217.03,370.11 L217.21,369.1 L217.39,368.14 L217.56,367.23 L217.74,366.35 L217.92,365.5 L218.1,364.68 L218.27,363.89 L218.45,363.13 L218.63,362.39 L218.81,361.67 L218.98,360.97 L219.16,360.29 L219.34,359.63 L219.51,358.98 L219.69,358.35 L219.87,357.73 L220.05,357.13 L220.31,356.76 L220.67,356.34 L221.02,355.91 L221.29,355.56 L221.55,355.2 L221.82,354.83 L222.09,354.44 L222.35,354.04 L222.62,353.63 L222.88,353.21 L223.15,352.78 L223.42,352.33 L223.68,351.88 L223.95,351.41 L224.12,350.95 L224.3,350.4 L224.48,349.86 L224.66,349.33 L224.83,348.81 L225.01,348.29 L225.19,347.77 L225.37,347.26 L225.54,346.76 L225.72,346.27 L225.9,345.77 L226.08,345.29 L226.25,344.81 L226.43,344.33 L226.61,343.85 L226.78,343.39 L226.96,342.92 L227.14,342.46 L227.32,342 L227.49,341.55 L227.67,341.1 L227.85,340.65 L228.03,340.2 L228.2,339.76 L228.38,339.32 L228.56,338.89 L228.73,338.46 L228.91,338.03 L229.18,337.45 L229.44,337 L229.71,336.54 L229.98,336.07 L230.24,335.6 L230.51,335.12 L230.77,334.64 L231.04,334.15 L231.31,333.66 L231.57,333.16 L231.84,332.6 L232.02,332.17 L232.19,331.74 L232.37,331.32 L232.55,330.89 L232.81,330.26 L233.08,329.64 L233.35,329.02 L233.61,328.4 L233.88,327.79 L234.14,327.18 L234.41,326.58 L234.68,325.98 L234.94,325.39 L235.21,324.8 L235.47,324.21 L235.74,323.63 L236,323.05 L236.27,322.51 L236.54,322.01 L236.8,321.51 L237.07,321 L237.33,320.5 L237.6,319.99 L237.87,319.48 L238.13,318.97 L238.4,318.46 L238.66,317.95 L238.93,317.44 L239.2,316.93 L239.46,316.42 L239.73,315.91 L239.99,315.39 L240.26,314.88 L240.53,314.37 L240.79,313.82 L241.06,313.24 L241.32,312.66 L241.59,312.09 L241.86,311.52 L242.12,310.95 L242.39,310.39 L242.65,309.83 L242.92,309.28 L243.19,308.73 L243.45,308.18 L243.72,307.64 L243.98,307.13 L244.25,306.64 L244.52,306.14 L244.78,305.65 L245.05,305.16 L245.31,304.67 L245.58,304.18 L245.85,303.69 L246.11,303.2 L246.38,302.71 L246.64,302.22 L246.91,301.73 L247.18,301.24 L247.44,300.76 L247.71,300.27 L247.97,299.78 L248.24,299.3 L248.51,298.81 L248.77,298.31 L249.04,297.8 L249.3,297.3 L249.57,296.8 L249.84,296.31 L250.1,295.81 L250.37,295.32 L250.63,294.83 L250.9,294.34 L251.17,293.85 L251.43,293.36 L251.7,292.88 L251.96,292.4 L252.23,291.92 L252.5,291.46 L252.76,291 L253.03,290.54 L253.29,290.08 L253.56,289.62 L253.83,289.16 L254.09,288.7 L254.36,288.25 L254.62,287.79 L254.89,287.34 L255.16,286.88 L255.42,286.43 L255.69,285.97 L255.95,285.51 L256.22,285.05 L256.49,284.6 L256.75,284.14 L257.02,283.69 L257.28,283.23 L257.55,282.78 L257.82,282.33 L258.08,281.88 L258.35,281.43 L258.61,280.99 L258.88,280.54 L259.14,280.1 L259.41,279.66 L259.68,279.22 L259.94,278.78 L260.21,278.34 L260.47,277.91 L260.74,277.48 L261.01,277.05 L261.27,276.62 L261.54,276.2 L261.8,275.77 L262.07,275.35 L262.34,274.93 L262.6,274.5 L262.87,274.08 L263.13,273.67 L263.4,273.25 L263.67,272.83 L263.93,272.42 L264.2,272 L264.46,271.58 L264.73,271.17 L265,270.75 L265.26,270.34 L265.53,269.93 L265.79,269.52 L266.06,269.11 L266.33,268.7 L266.59,268.29 L266.86,267.89 L267.12,267.49 L267.39,267.09 L267.66,266.68 L267.92,266.29 L268.19,265.89 L268.45,265.5 L268.72,265.11 L268.99,264.72 L269.25,264.33 L269.52,263.94 L269.78,263.55 L270.05,263.17" stroke="#000" stroke-width="1.45"/>
<path d="M137.15,336.56 L137.68,336.74 L138.21,336.92 L138.66,337.08 L139.1,337.25 L139.54,337.42 L139.99,337.6 L140.43,337.79 L140.87,337.98 L141.32,338.18 L141.76,338.39 L142.2,338.61 L142.65,338.84 L143.09,339.07 L143.53,339.32 L143.98,339.58 L144.42,339.85 L144.86,340.13 L145.31,340.42 L145.75,340.73 L146.1,340.98 L146.46,341.25 L146.81,341.52 L147.17,341.81 L147.52,342.11 L147.88,342.41 L148.23,342.73 L148.59,343.06 L148.94,343.41 L149.3,343.77 L149.65,344.14 L150.01,344.53 L150.36,344.93 L150.71,345.35 L151.07,345.78 L151.34,346.12 L151.6,346.47 L151.87,346.83 L152.13,347.2 L152.4,347.58 L152.67,347.97 L152.93,348.38 L153.2,348.8 L153.46,349.23 L153.73,349.67 L154,350.13 L154.26,350.6 L154.53,351.09 L154.79,351.59 L155.06,352.11 L155.33,352.65 L155.59,353.2 L155.86,353.77 L156.12,354.36 L156.39,354.96 L156.66,355.59 L156.83,356.02 L157.01,356.45 L157.19,356.9 L157.36,357.36 L157.54,357.82 L157.72,358.3 L157.9,358.78 L158.07,359.28 L158.25,359.79 L158.43,360.3 L158.61,360.83 L158.78,361.37 L158.96,361.92 L159.14,362.49 L159.31,363.06 L159.49,363.65 L159.67,364.25 L159.85,364.87 L160.02,365.49 L160.2,366.14 L160.38,366.79 L160.56,367.46 L160.73,368.14 L160.91,368.84 L161.09,369.55 L161.27,370.28 L161.44,371.03 L161.62,371.79 L161.8,372.57 L161.97,373.36 L162.15,374.17 L162.33,375 L162.51,375.85 L162.86,376.11 L163.48,376.11 L164.1,376.11 L164.72,376.11 L165.34,376.11 L165.96,376.11 L166.58,376.11 L167.21,376.11 L167.83,376.11 L168.45,376.11 L169.07,376.11 L169.69,376.11 L170.31,376.11 L170.93,376.11 L171.55,376.11 L172.17,376.11 L172.79,376.11 L173.41,376.11 L174.03,376.11 L174.65,376.11 L175.27,376.11 L175.89,376.11 L176.51,376.11 L177.14,376.11 L177.76,376.11 L178.38,376.11 L179,376.11 L179.62,376.11 L180.24,376.11 L180.86,376.11 L181.48,376.11 L182.1,376.11 L182.72,376.11 L183.34,376.11 L183.96,376.11 L184.58,376.11 L185.2,376.11 L185.82,376.11 L186.44,376.11 L187.07,376.11 L187.69,376.11 L188.31,376.11 L188.93,376.11 L189.55,376.11 L190.17,376.11 L190.79,376.11 L191.41,376.11 L192.03,376.11 L192.65,376.11 L193.27,376.11 L193.89,376.11 L194.51,376.11 L195.13,376.11 L195.75,376.11 L196.37,376.11 L196.99,376.11 L197.62,376.11 L198.24,376.11 L198.86,376.11 L199.48,376.11 L200.1,376.11 L200.72,376.11 L201.34,376.11 L201.96,376.11 L202.58,376.11 L203.2,376.11 L203.82,376.11 L204.44,376.11 L205.06,376.11 L205.68,376.11 L206.3,376.11 L206.92,376.11 L207.55,376.11 L208.17,376.11 L208.79,376.11 L209.41,376.11 L210.03,376.11 L210.65,376.11 L211.27,376.11 L211.89,376.11 L212.51,376.11 L213.13,376.11 L213.75,376.11 L214.02,375.59 L214.19,375.15 L214.37,374.71 L214.55,374.28 L214.73,373.84 L214.9,373.4 L215.08,372.97 L215.26,372.53 L215.44,372.1 L215.61,371.66 L215.79,371.23 L215.97,370.8 L216.15,370.37 L216.32,369.94 L216.5,369.5 L216.68,369.07 L216.85,368.64 L217.03,368.22 L217.21,367.79 L217.39,367.36 L217.56,366.93 L217.74,366.51 L217.92,366.08 L218.1,365.65 L218.27,365.23 L218.45,364.8 L218.63,364.38 L218.81,363.96 L218.98,363.53 L219.25,362.9 L219.51,362.27 L219.78,361.64 L220.05,361.01 L220.31,360.38 L220.58,359.76 L220.84,359.13 L221.11,358.51 L221.38,357.88 L221.64,357.26 L221.91,356.64 L222.17,356.02 L222.44,355.41 L222.71,354.79 L222.97,354.18 L223.24,353.56 L223.5,352.95 L223.77,352.34 L224.04,351.73 L224.3,351.12 L224.57,350.52 L224.83,349.91 L225.1,349.31 L225.37,348.7 L225.63,348.1 L225.9,347.5 L226.16,346.9 L226.43,346.3 L226.7,345.71 L226.96,345.11 L227.23,344.52 L227.49,343.93 L227.76,343.33 L228.03,342.74 L228.29,342.16 L228.56,341.57 L228.82,340.98 L229.09,340.4 L229.36,339.81 L229.62,339.23 L229.89,338.65 L230.15,338.07 L230.42,337.49 L230.69,336.92 L230.95,336.34 L231.22,335.77 L231.48,335.19 L231.75,334.62 L232.02,334.05 L232.28,333.48 L232.55,332.92 L232.81,332.35 L233.08,331.78 L233.35,331.22 L233.61,330.66 L233.88,330.1 L234.14,329.54 L234.41,328.98 L234.68,328.42 L234.94,327.86 L235.21,327.31 L235.47,326.76 L235.74,326.2 L236,325.65 L236.27,325.1 L236.54,324.56 L236.8,324.01 L237.07,323.46 L237.33,322.92 L237.6,322.38 L237.87,321.83 L238.13,321.29 L238.4,320.75 L238.66,320.22 L238.93,319.68 L239.2,319.15 L239.46,318.61 L239.73,318.08 L239.99,317.55 L240.26,317.02 L240.53,316.49 L240.79,315.96 L241.06,315.44 L241.32,314.91 L241.59,314.39 L241.86,313.87 L242.12,313.35 L242.39,312.83 L242.65,312.31 L242.92,311.79 L243.19,311.28 L243.45,310.76 L243.72,310.25 L243.98,309.74 L244.25,309.23 L244.52,308.72 L244.78,308.21 L245.05,307.7 L245.31,307.2 L245.58,306.69 L245.85,306.19 L246.11,305.69 L246.38,305.19 L246.64,304.69 L246.91,304.19 L247.18,303.7 L247.44,303.2 L247.71,302.71 L247.97,302.22 L248.24,301.73 L248.51,301.24 L248.77,300.75 L249.04,300.26 L249.3,299.78 L249.57,299.29 L249.84,298.81 L250.1,298.33 L250.37,297.85 L250.63,297.37 L250.9,296.89 L251.17,296.41 L251.43,295.94 L251.7,295.47 L251.96,294.99 L252.23,294.52 L252.5,294.05 L252.76,293.58 L253.03,293.12 L253.29,292.65 L253.56,292.19 L253.83,291.72 L254.09,291.26 L254.36,290.8 L254.62,290.34 L254.89,289.88 L255.16,289.43 L255.42,288.97 L255.69,288.52 L255.95,288.06 L256.22,287.61 L256.49,287.16 L256.75,286.71 L257.02,286.26 L257.28,285.82 L257.55,285.37 L257.82,284.93 L258.08,284.49 L258.35,284.05 L258.61,283.61 L258.88,283.17 L259.14,282.73 L259.41,282.29 L259.68,281.86 L259.94,281.43 L260.21,280.99 L260.47,280.56 L260.74,280.13 L261.01,279.7 L261.27,279.28 L261.54,278.85 L261.8,278.43 L262.07,278.01 L262.34,277.58 L262.6,277.16 L262.87,276.74 L263.13,276.33 L263.4,275.91 L263.67,275.5 L263.93,275.08 L264.2,274.67 L264.46,274.26 L264.73,273.85 L265,273.44 L265.26,273.03 L265.53,272.63 L265.79,272.22 L266.06,271.82 L266.33,271.42 L266.59,271.02 L266.86,270.62 L267.12,270.22 L267.39,269.82 L267.66,269.43 L267.92,269.03 L268.19,268.64 L268.45,268.25 L268.72,267.86 L268.99,267.47 L269.25,267.08 L269.52,266.69 L269.78,266.31 L270.05,265.92" stroke="#000" stroke-width="1.45"/>
<path d="M137.15,338.3 L137.68,338.43 L138.21,338.56 L138.75,338.69 L139.28,338.83 L139.81,338.97 L140.34,339.12 L140.87,339.27 L141.41,339.43 L141.94,339.6 L142.47,339.77 L143,339.95 L143.53,340.13 L143.98,340.29 L144.42,340.46 L144.86,340.63 L145.31,340.81 L145.75,341 L146.19,341.19 L146.64,341.39 L147.08,341.6 L147.52,341.82 L147.97,342.05 L148.41,342.28 L148.85,342.53 L149.3,342.79 L149.74,343.06 L150.18,343.34 L150.63,343.63 L151.07,343.94 L151.42,344.19 L151.78,344.46 L152.13,344.73 L152.49,345.02 L152.84,345.32 L153.2,345.62 L153.55,345.94 L153.91,346.28 L154.26,346.62 L154.62,346.98 L154.97,347.35 L155.33,347.74 L155.68,348.14 L156.03,348.56 L156.39,349 L156.66,349.33 L156.92,349.68 L157.19,350.04 L157.45,350.41 L157.72,350.79 L157.98,351.19 L158.25,351.59 L158.52,352.01 L158.78,352.44 L159.05,352.89 L159.31,353.35 L159.58,353.82 L159.85,354.31 L160.11,354.81 L160.38,355.33 L160.64,355.86 L160.91,356.41 L161.18,356.98 L161.44,357.57 L161.71,358.18 L161.97,358.8 L162.15,359.23 L162.33,359.67 L162.51,360.12 L162.68,360.57 L162.86,361.04 L163.04,361.52 L163.22,362 L163.39,362.5 L163.57,363.01 L163.75,363.52 L163.93,364.05 L164.1,364.59 L164.28,365.14 L164.46,365.71 L164.63,366.29 L164.81,366.87 L164.99,367.48 L165.17,368.09 L165.34,368.72 L165.52,369.36 L165.7,370.01 L165.88,370.68 L166.05,371.37 L166.23,372.07 L166.41,372.78 L166.58,373.51 L166.76,374.25 L166.94,375.02 L167.12,375.79 L167.47,376.11 L168.09,376.11 L168.71,376.11 L169.33,376.11 L169.95,376.11 L170.57,376.11 L171.2,376.11 L171.82,376.11 L172.44,376.11 L173.06,376.11 L173.68,376.11 L174.3,376.11 L174.92,376.11 L175.54,376.11 L176.16,376.11 L176.78,376.11 L177.4,376.11 L178.02,376.11 L178.64,376.11 L179.26,376.11 L179.88,376.11 L180.5,376.11 L181.12,376.11 L181.75,376.11 L182.37,376.11 L182.99,376.11 L183.61,376.11 L184.23,376.11 L184.85,376.11 L185.47,376.11 L186.09,376.11 L186.71,376.11 L187.33,376.11 L187.95,376.11 L188.57,376.11 L189.19,376.11 L189.81,376.11 L190.43,376.11 L191.05,376.11 L191.68,376.11 L192.3,376.11 L192.92,376.11 L193.54,376.11 L194.16,376.11 L194.78,376.11 L195.4,376.11 L196.02,376.11 L196.64,376.11 L197.26,376.11 L197.88,376.11 L198.5,376.11 L199.12,376.11 L199.74,376.11 L200.36,376.11 L200.98,376.11 L201.61,376.11 L202.23,376.11 L202.85,376.11 L203.47,376.11 L204.09,376.11 L204.71,376.11 L205.33,376.11 L205.95,376.11 L206.57,376.11 L207.19,376.11 L207.81,376.11 L208.43,376.11 L209.05,376.11 L209.67,376.11 L210.29,376.11 L210.91,376.11 L211.53,376.11 L212.16,376.11 L212.78,376.11 L213.4,376.11 L214.02,376.11 L214.37,375.76 L214.55,375.32 L214.73,374.88 L214.9,374.45 L215.08,374.01 L215.26,373.58 L215.44,373.15 L215.61,372.71 L215.79,372.28 L215.97,371.85 L216.15,371.42 L216.32,370.98 L216.5,370.55 L216.68,370.12 L216.85,369.7 L217.03,369.27 L217.21,368.84 L217.39,368.41 L217.56,367.98 L217.74,367.56 L217.92,367.13 L218.1,366.71 L218.27,366.28 L218.45,365.86 L218.63,365.44 L218.81,365.01 L219.07,364.38 L219.34,363.75 L219.6,363.12 L219.87,362.49 L220.13,361.86 L220.4,361.23 L220.67,360.61 L220.93,359.98 L221.2,359.36 L221.46,358.74 L221.73,358.12 L222,357.5 L222.26,356.88 L222.53,356.27 L222.79,355.65 L223.06,355.04 L223.33,354.43 L223.59,353.81 L223.86,353.2 L224.12,352.6 L224.39,351.99 L224.66,351.38 L224.92,350.78 L225.19,350.18 L225.45,349.57 L225.72,348.97 L225.99,348.37 L226.25,347.78 L226.52,347.18 L226.78,346.58 L227.05,345.99 L227.32,345.4 L227.58,344.81 L227.85,344.22 L228.11,343.63 L228.38,343.04 L228.65,342.45 L228.91,341.87 L229.18,341.28 L229.44,340.7 L229.71,340.12 L229.98,339.54 L230.24,338.96 L230.51,338.39 L230.77,337.81 L231.04,337.24 L231.31,336.66 L231.57,336.09 L231.84,335.52 L232.1,334.95 L232.37,334.38 L232.64,333.82 L232.9,333.25 L233.17,332.69 L233.43,332.12 L233.7,331.56 L233.97,331 L234.23,330.44 L234.5,329.89 L234.76,329.33 L235.03,328.77 L235.3,328.22 L235.56,327.67 L235.83,327.12 L236.09,326.57 L236.36,326.02 L236.63,325.47 L236.89,324.93 L237.16,324.38 L237.42,323.84 L237.69,323.3 L237.96,322.76 L238.22,322.22 L238.49,321.68 L238.75,321.14 L239.02,320.61 L239.29,320.07 L239.55,319.54 L239.82,319.01 L240.08,318.48 L240.35,317.95 L240.62,317.42 L240.88,316.9 L241.15,316.37 L241.41,315.85 L241.68,315.33 L241.95,314.8 L242.21,314.28 L242.48,313.77 L242.74,313.25 L243.01,312.73 L243.27,312.22 L243.54,311.71 L243.81,311.19 L244.07,310.68 L244.34,310.17 L244.6,309.67 L244.87,309.16 L245.14,308.65 L245.4,308.15 L245.67,307.65 L245.93,307.15 L246.2,306.65 L246.47,306.15 L246.73,305.65 L247,305.15 L247.26,304.66 L247.53,304.16 L247.8,303.67 L248.06,303.18 L248.33,302.69 L248.59,302.2 L248.86,301.72 L249.13,301.23 L249.39,300.75 L249.66,300.26 L249.92,299.78 L250.19,299.3 L250.46,298.82 L250.72,298.34 L250.99,297.87 L251.25,297.39 L251.52,296.92 L251.79,296.44 L252.05,295.97 L252.32,295.5 L252.58,295.03 L252.85,294.57 L253.12,294.1 L253.38,293.64 L253.65,293.17 L253.91,292.71 L254.18,292.25 L254.45,291.79 L254.71,291.33 L254.98,290.87 L255.24,290.42 L255.51,289.96 L255.78,289.51 L256.04,289.06 L256.31,288.61 L256.57,288.16 L256.84,287.71 L257.11,287.26 L257.37,286.82 L257.64,286.37 L257.9,285.93 L258.17,285.49 L258.44,285.05 L258.7,284.61 L258.97,284.17 L259.23,283.74 L259.5,283.3 L259.77,282.87 L260.03,282.44 L260.3,282.01 L260.56,281.58 L260.83,281.15 L261.1,280.72 L261.36,280.3 L261.63,279.87 L261.89,279.45 L262.16,279.03 L262.43,278.61 L262.69,278.19 L262.96,277.77 L263.22,277.35 L263.49,276.94 L263.76,276.52 L264.02,276.11 L264.29,275.7 L264.55,275.29 L264.82,274.88 L265.09,274.47 L265.35,274.07 L265.62,273.66 L265.88,273.26 L266.15,272.86 L266.41,272.45 L266.68,272.05 L266.95,271.66 L267.21,271.26 L267.48,270.86 L267.74,270.47 L268.01,270.08 L268.28,269.68 L268.54,269.29 L268.81,268.9 L269.07,268.52 L269.34,268.13 L269.61,267.74 L269.87,267.36 L270.05,267.11" stroke="#000" stroke-width="1.45"/>
</g>
<g stroke="#000" stroke-width="1.3">
<line x1="115" y1="364.3" x2="121" y2="364.3"/>
<line x1="336.5" y1="364.3" x2="330.5" y2="364.3"/>
<line x1="115" y1="352.45" x2="118" y2="352.45"/>
<line x1="336.5" y1="352.45" x2="333.5" y2="352.45"/>
<line x1="115" y1="345.53" x2="118" y2="345.53"/>
<line x1="336.5" y1="345.53" x2="333.5" y2="345.53"/>
<line x1="115" y1="340.61" x2="118" y2="340.61"/>
<line x1="336.5" y1="340.61" x2="333.5" y2="340.61"/>
<line x1="115" y1="336.8" x2="118" y2="336.8"/>
<line x1="336.5" y1="336.8" x2="333.5" y2="336.8"/>
<line x1="115" y1="333.68" x2="118" y2="333.68"/>
<line x1="336.5" y1="333.68" x2="333.5" y2="333.68"/>
<line x1="115" y1="331.05" x2="118" y2="331.05"/>
<line x1="336.5" y1="331.05" x2="333.5" y2="331.05"/>
<line x1="115" y1="328.76" x2="118" y2="328.76"/>
<line x1="336.5" y1="328.76" x2="333.5" y2="328.76"/>
<line x1="115" y1="326.75" x2="118" y2="326.75"/>
<line x1="336.5" y1="326.75" x2="333.5" y2="326.75"/>
<line x1="115" y1="324.95" x2="121" y2="324.95"/>
<line x1="336.5" y1="324.95" x2="330.5" y2="324.95"/>
<line x1="115" y1="313.1" x2="118" y2="313.1"/>
<line x1="336.5" y1="313.1" x2="333.5" y2="313.1"/>
<line x1="115" y1="306.18" x2="118" y2="306.18"/>
<line x1="336.5" y1="306.18" x2="333.5" y2="306.18"/>
<line x1="115" y1="301.26" x2="118" y2="301.26"/>
<line x1="336.5" y1="301.26" x2="333.5" y2="301.26"/>
<line x1="115" y1="297.45" x2="118" y2="297.45"/>
<line x1="336.5" y1="297.45" x2="333.5" y2="297.45"/>
<line x1="115" y1="294.33" x2="118" y2="294.33"/>
<line x1="336.5" y1="294.33" x2="333.5" y2="294.33"/>
<line x1="115" y1="291.7" x2="118" y2="291.7"/>
<line x1="336.5" y1="291.7" x2="333.5" y2="291.7"/>
<line x1="115" y1="289.41" x2="118" y2="289.41"/>
<line x1="336.5" y1="289.41" x2="333.5" y2="289.41"/>
<line x1="115" y1="287.4" x2="118" y2="287.4"/>
<line x1="336.5" y1="287.4" x2="333.5" y2="287.4"/>
<line x1="115" y1="285.6" x2="121" y2="285.6"/>
<line x1="336.5" y1="285.6" x2="330.5" y2="285.6"/>
<line x1="115" y1="273.75" x2="118" y2="273.75"/>
<line x1="336.5" y1="273.75" x2="333.5" y2="273.75"/>
<line x1="115" y1="266.83" x2="118" y2="266.83"/>
<line x1="336.5" y1="266.83" x2="333.5" y2="266.83"/>
<line x1="115" y1="261.91" x2="118" y2="261.91"/>
<line x1="336.5" y1="261.91" x2="333.5" y2="261.91"/>
<line x1="115" y1="258.1" x2="118" y2="258.1"/>
<line x1="336.5" y1="258.1" x2="333.5" y2="258.1"/>
<line x1="115" y1="254.98" x2="118" y2="254.98"/>
<line x1="336.5" y1="254.98" x2="333.5" y2="254.98"/>
<line x1="115" y1="252.35" x2="118" y2="252.35"/>
<line x1="336.5" y1="252.35" x2="333.5" y2="252.35"/>
<line x1="115" y1="250.06" x2="118" y2="250.06"/>
<line x1="336.5" y1="250.06" x2="333.5" y2="250.06"/>
<line x1="115" y1="248.05" x2="118" y2="248.05"/>
<line x1="336.5" y1="248.05" x2="333.5" y2="248.05"/>
<line x1="115" y1="246.25" x2="121" y2="246.25"/>
<line x1="336.5" y1="246.25" x2="330.5" y2="246.25"/>
<line x1="115" y1="234.4" x2="118" y2="234.4"/>
<line x1="336.5" y1="234.4" x2="333.5" y2="234.4"/>
<line x1="115" y1="227.48" x2="118" y2="227.48"/>
<line x1="336.5" y1="227.48" x2="333.5" y2="227.48"/>
<line x1="115" y1="222.56" x2="118" y2="222.56"/>
<line x1="336.5" y1="222.56" x2="333.5" y2="222.56"/>
<line x1="115" y1="218.75" x2="118" y2="218.75"/>
<line x1="336.5" y1="218.75" x2="333.5" y2="218.75"/>
<line x1="115" y1="215.63" x2="118" y2="215.63"/>
<line x1="336.5" y1="215.63" x2="333.5" y2="215.63"/>
<line x1="115" y1="213" x2="118" y2="213"/>
<line x1="336.5" y1="213" x2="333.5" y2="213"/>
<line x1="115" y1="210.71" x2="118" y2="210.71"/>
<line x1="336.5" y1="210.71" x2="333.5" y2="210.71"/>
<line x1="115" y1="208.7" x2="118" y2="208.7"/>
<line x1="336.5" y1="208.7" x2="333.5" y2="208.7"/>
<line x1="115" y1="206.9" x2="121" y2="206.9"/>
<line x1="336.5" y1="206.9" x2="330.5" y2="206.9"/>
<line x1="115" y1="195.05" x2="118" y2="195.05"/>
<line x1="336.5" y1="195.05" x2="333.5" y2="195.05"/>
<line x1="115" y1="188.13" x2="118" y2="188.13"/>
<line x1="336.5" y1="188.13" x2="333.5" y2="188.13"/>
<line x1="115" y1="183.21" x2="118" y2="183.21"/>
<line x1="336.5" y1="183.21" x2="333.5" y2="183.21"/>
<line x1="115" y1="179.4" x2="118" y2="179.4"/>
<line x1="336.5" y1="179.4" x2="333.5" y2="179.4"/>
<line x1="115" y1="176.28" x2="118" y2="176.28"/>
<line x1="336.5" y1="176.28" x2="333.5" y2="176.28"/>
<line x1="115" y1="173.65" x2="118" y2="173.65"/>
<line x1="336.5" y1="173.65" x2="333.5" y2="173.65"/>
<line x1="115" y1="171.36" x2="118" y2="171.36"/>
<line x1="336.5" y1="171.36" x2="333.5" y2="171.36"/>
<line x1="115" y1="169.35" x2="118" y2="169.35"/>
<line x1="336.5" y1="169.35" x2="333.5" y2="169.35"/>
<line x1="115" y1="167.55" x2="121" y2="167.55"/>
<line x1="336.5" y1="167.55" x2="330.5" y2="167.55"/>
<line x1="115" y1="155.7" x2="118" y2="155.7"/>
<line x1="336.5" y1="155.7" x2="333.5" y2="155.7"/>
<line x1="115" y1="148.78" x2="118" y2="148.78"/>
<line x1="336.5" y1="148.78" x2="333.5" y2="148.78"/>
<line x1="115" y1="143.86" x2="118" y2="143.86"/>
<line x1="336.5" y1="143.86" x2="333.5" y2="143.86"/>
<line x1="115" y1="140.05" x2="118" y2="140.05"/>
<line x1="336.5" y1="140.05" x2="333.5" y2="140.05"/>
<line x1="115" y1="136.93" x2="118" y2="136.93"/>
<line x1="336.5" y1="136.93" x2="333.5" y2="136.93"/>
<line x1="115" y1="134.3" x2="118" y2="134.3"/>
<line x1="336.5" y1="134.3" x2="333.5" y2="134.3"/>
<line x1="115" y1="132.01" x2="118" y2="132.01"/>
<line x1="336.5" y1="132.01" x2="333.5" y2="132.01"/>
<line x1="115" y1="130" x2="118" y2="130"/>
<line x1="336.5" y1="130" x2="333.5" y2="130"/>
<line x1="115" y1="128.2" x2="121" y2="128.2"/>
<line x1="336.5" y1="128.2" x2="330.5" y2="128.2"/>
<line x1="115" y1="116.35" x2="118" y2="116.35"/>
<line x1="336.5" y1="116.35" x2="333.5" y2="116.35"/>
<line x1="115" y1="109.43" x2="118" y2="109.43"/>
<line x1="336.5" y1="109.43" x2="333.5" y2="109.43"/>
<line x1="115" y1="104.51" x2="118" y2="104.51"/>
<line x1="336.5" y1="104.51" x2="333.5" y2="104.51"/>
<line x1="115" y1="100.7" x2="118" y2="100.7"/>
<line x1="336.5" y1="100.7" x2="333.5" y2="100.7"/>
<line x1="115" y1="97.58" x2="118" y2="97.58"/>
<line x1="336.5" y1="97.58" x2="333.5" y2="97.58"/>
<line x1="115" y1="94.95" x2="118" y2="94.95"/>
<line x1="336.5" y1="94.95" x2="333.5" y2="94.95"/>
<line x1="115" y1="92.66" x2="118" y2="92.66"/>
<line x1="336.5" y1="92.66" x2="333.5" y2="92.66"/>
<line x1="115" y1="90.65" x2="118" y2="90.65"/>
<line x1="336.5" y1="90.65" x2="333.5" y2="90.65"/>
<line x1="115" y1="88.85" x2="121" y2="88.85"/>
<line x1="336.5" y1="88.85" x2="330.5" y2="88.85"/>
<line x1="115" y1="77" x2="118" y2="77"/>
<line x1="336.5" y1="77" x2="333.5" y2="77"/>
<line x1="115" y1="70.08" x2="118" y2="70.08"/>
<line x1="336.5" y1="70.08" x2="333.5" y2="70.08"/>
<line x1="115" y1="65.16" x2="118" y2="65.16"/>
<line x1="336.5" y1="65.16" x2="333.5" y2="65.16"/>
<line x1="115" y1="61.35" x2="118" y2="61.35"/>
<line x1="336.5" y1="61.35" x2="333.5" y2="61.35"/>
<line x1="115" y1="58.23" x2="118" y2="58.23"/>
<line x1="336.5" y1="58.23" x2="333.5" y2="58.23"/>
<line x1="115" y1="55.6" x2="118" y2="55.6"/>
<line x1="336.5" y1="55.6" x2="333.5" y2="55.6"/>
<line x1="115" y1="53.31" x2="118" y2="53.31"/>
<line x1="336.5" y1="53.31" x2="333.5" y2="53.31"/>
<line x1="115" y1="51.3" x2="118" y2="51.3"/>
<line x1="336.5" y1="51.3" x2="333.5" y2="51.3"/>
<line x1="115" y1="49.5" x2="121" y2="49.5"/>
<line x1="336.5" y1="49.5" x2="330.5" y2="49.5"/>
<line x1="137.15" y1="364.3" x2="137.15" y2="361.3"/>
<line x1="137.15" y1="49.5" x2="137.15" y2="52.5"/>
<line x1="181.45" y1="364.3" x2="181.45" y2="358.3"/>
<line x1="181.45" y1="49.5" x2="181.45" y2="55.5"/>
<line x1="225.75" y1="364.3" x2="225.75" y2="361.3"/>
<line x1="225.75" y1="49.5" x2="225.75" y2="52.5"/>
<line x1="270.05" y1="364.3" x2="270.05" y2="358.3"/>
<line x1="270.05" y1="49.5" x2="270.05" y2="55.5"/>
<line x1="314.35" y1="364.3" x2="314.35" y2="361.3"/>
<line x1="314.35" y1="49.5" x2="314.35" y2="52.5"/>
</g>
<rect x="115.0" y="49.5" width="221.5" height="314.8" fill="none" stroke="#000" stroke-width="1.4"/>
<text x="71.8" y="57.6" font-size="22">10</text><text x="96.3" y="46.5" font-size="13.3">-2</text>
<text x="71.8" y="136.3" font-size="22">10</text><text x="96.3" y="125.2" font-size="13.3">-4</text>
<text x="71.8" y="215" font-size="22">10</text><text x="96.3" y="203.9" font-size="13.3">-6</text>
<text x="71.8" y="293.7" font-size="22">10</text><text x="96.3" y="282.6" font-size="13.3">-8</text>
<text x="64.6" y="372.6" font-size="22">10</text><text x="89" y="361.5" font-size="13.3">-10</text>
<text x="181.45" y="387.6" font-size="22" text-anchor="middle">0</text>
<text x="270.05" y="387.6" font-size="22" text-anchor="middle">1</text>
<text x="225.8" y="423.8" font-size="22.3" text-anchor="middle">Base-emitter voltage [V]</text>
<text transform="translate(49.4,205.2) rotate(-90)" font-size="22.3" text-anchor="middle">Current, abs. [A]</text>
<text font-size="16.5"><tspan x="126.5" y="75.7" font-style="italic">V</tspan><tspan x="136.8" y="82" font-size="10.2">CE</tspan><tspan x="154.5" y="75.7">=</tspan><tspan x="167.2" y="75.7">5.0</tspan><tspan x="194.2" y="75.7">V</tspan></text>
<text font-size="20.7" fill="#00f"><tspan x="127.5" y="114.6">Collector</tspan><tspan x="127.8" y="139.7">current</tspan></text>
<text font-size="20.7" fill="#000"><tspan x="252.6" y="320.9">Base</tspan><tspan x="252.9" y="346.9">current</tspan></text>
<g fill="#f00" font-size="15"><text x="277.2" y="79">293</text><text x="277.2" y="96.6">283</text><text x="277.4" y="149.9">243</text>
<text y="123"><tspan x="294.6" font-style="italic">T</tspan><tspan x="306.8">[K]</tspan></text></g>
<line x1="286.5" y1="112" x2="286.5" y2="131" stroke="#f00" stroke-width="1.5"/>
<path d="M286.5,105 L289.2,113.5 L283.8,113.5 Z" fill="#f00"/>
<g stroke="#f00" stroke-width="1.6" fill="none">
<line x1="468.03" y1="188.3" x2="662.47" y2="292.07"/>
<line x1="468.03" y1="198.39" x2="662.47" y2="299.24"/>
<line x1="468.03" y1="208.97" x2="662.47" y2="307.89"/>
</g>
<g stroke="#00f" stroke-width="1.6" fill="#fff">
<circle cx="468.03" cy="186.3" r="4.1"/>
<path d="M468.03,191.8 L473.23,197 L468.03,202.2 L462.83,197 Z"/>
<rect x="464.53" y="204.8" width="7" height="7"/>
<circle cx="501.43" cy="206.6" r="4.1"/>
<path d="M501.43,210.8 L506.63,216 L501.43,221.2 L496.23,216 Z"/>
<rect x="497.93" y="222.6" width="7" height="7"/>
<circle cx="537.26" cy="226.5" r="4.1"/>
<path d="M537.26,229.7 L542.46,234.9 L537.26,240.1 L532.06,234.9 Z"/>
<rect x="533.76" y="240.8" width="7" height="7"/>
<circle cx="575.83" cy="246.8" r="4.1"/>
<path d="M575.83,250.2 L581.03,255.4 L575.83,260.6 L570.63,255.4 Z"/>
<rect x="572.33" y="260.7" width="7" height="7"/>
<circle cx="617.44" cy="269.6" r="4.1"/>
<path d="M617.44,271.8 L622.64,277 L617.44,282.2 L612.24,277 Z"/>
<rect x="613.94" y="282.8" width="7" height="7"/>
<circle cx="662.47" cy="289.8" r="4.1"/>
<path d="M662.47,292.3 L667.67,297.5 L662.47,302.7 L657.27,297.5 Z"/>
<rect x="658.97" y="303.1" width="7" height="7"/>
</g>
<g stroke="#000" stroke-width="1.3">
<line x1="451.5" y1="363.8" x2="457.5" y2="363.8"/>
<line x1="673" y1="363.8" x2="667" y2="363.8"/>
<line x1="451.5" y1="324.43" x2="454.5" y2="324.43"/>
<line x1="673" y1="324.43" x2="670" y2="324.43"/>
<line x1="451.5" y1="285.05" x2="457.5" y2="285.05"/>
<line x1="673" y1="285.05" x2="667" y2="285.05"/>
<line x1="451.5" y1="245.68" x2="454.5" y2="245.68"/>
<line x1="673" y1="245.68" x2="670" y2="245.68"/>
<line x1="451.5" y1="206.3" x2="457.5" y2="206.3"/>
<line x1="673" y1="206.3" x2="667" y2="206.3"/>
<line x1="451.5" y1="166.93" x2="454.5" y2="166.93"/>
<line x1="673" y1="166.93" x2="670" y2="166.93"/>
<line x1="451.5" y1="127.55" x2="457.5" y2="127.55"/>
<line x1="673" y1="127.55" x2="667" y2="127.55"/>
<line x1="451.5" y1="88.17" x2="454.5" y2="88.17"/>
<line x1="673" y1="88.17" x2="670" y2="88.17"/>
<line x1="451.5" y1="48.8" x2="457.5" y2="48.8"/>
<line x1="673" y1="48.8" x2="667" y2="48.8"/>
<line x1="465.34" y1="363.8" x2="465.34" y2="357.8"/>
<line x1="465.34" y1="48.8" x2="465.34" y2="54.8"/>
<line x1="493.03" y1="363.8" x2="493.03" y2="360.8"/>
<line x1="493.03" y1="48.8" x2="493.03" y2="51.8"/>
<line x1="520.72" y1="363.8" x2="520.72" y2="357.8"/>
<line x1="520.72" y1="48.8" x2="520.72" y2="54.8"/>
<line x1="548.41" y1="363.8" x2="548.41" y2="360.8"/>
<line x1="548.41" y1="48.8" x2="548.41" y2="51.8"/>
<line x1="576.09" y1="363.8" x2="576.09" y2="357.8"/>
<line x1="576.09" y1="48.8" x2="576.09" y2="54.8"/>
<line x1="603.78" y1="363.8" x2="603.78" y2="360.8"/>
<line x1="603.78" y1="48.8" x2="603.78" y2="51.8"/>
<line x1="631.47" y1="363.8" x2="631.47" y2="357.8"/>
<line x1="631.47" y1="48.8" x2="631.47" y2="54.8"/>
<line x1="659.16" y1="363.8" x2="659.16" y2="360.8"/>
<line x1="659.16" y1="48.8" x2="659.16" y2="51.8"/>
</g>
<rect x="451.5" y="48.8" width="221.5" height="315.0" fill="none" stroke="#000" stroke-width="1.4"/>
<text x="444.2" y="55.4" font-size="22" text-anchor="end">-4</text>
<text x="444.2" y="134.15" font-size="22" text-anchor="end">-6</text>
<text x="444.2" y="212.9" font-size="22" text-anchor="end">-8</text>
<text x="444.2" y="291.65" font-size="22" text-anchor="end">-10</text>
<text x="444.2" y="370.4" font-size="22" text-anchor="end">-12</text>
<text x="465.34" y="387.6" font-size="22" text-anchor="middle">3.4</text>
<text x="520.72" y="387.6" font-size="22" text-anchor="middle">3.6</text>
<text x="576.09" y="387.6" font-size="22" text-anchor="middle">3.8</text>
<text x="631.47" y="387.6" font-size="22" text-anchor="middle">4.0</text>
<text font-size="22" y="423.6"><tspan x="494.2">1000</tspan><tspan x="547.5">/</tspan><tspan x="557.4" font-style="italic">T</tspan><tspan x="577.6">[1</tspan><tspan x="599.3">/</tspan><tspan x="607.5">K</tspan><tspan x="625">]</tspan></text>
<text transform="translate(400.1,207.8) rotate(-90)" font-size="22.3" text-anchor="middle">ln(Collector current) [ln(A)]</text>
<g font-size="16.5">
<text x="465" y="83.6">data</text>
<text y="83.6"><tspan x="524" font-style="italic">V</tspan><tspan x="533.6" y="89.7" font-size="10.2">BE</tspan><tspan x="550" y="83.6">[V]</tspan></text>
<text y="83.6"><tspan x="590" font-style="italic">E</tspan><tspan x="600.6" y="89.9" font-size="10.2">act</tspan><tspan x="617.5" y="83.6">[meV]</tspan></text>
<text x="522.4" y="109.3">0.60</text><text x="589.9" y="109.3">322.5</text>
<text x="522.4" y="129.5">0.55</text><text x="589.9" y="129.5">312.5</text>
<text x="522.4" y="149.7">0.50</text><text x="589.9" y="149.7">305.0</text>
</g>
<g stroke="#00f" stroke-width="1.6" fill="#fff">
<circle cx="483.1" cy="103.4" r="4.1"/>
<path d="M483.2,118.7 L488.4,123.9 L483.2,129.1 L478,123.9 Z"/>
<rect x="479.7" y="140.2" width="7" height="7"/>
</g>
<text font-size="16.5"><tspan x="463.1" y="316.2" font-style="italic">V</tspan><tspan x="473" y="322.2" font-size="10.2">CE</tspan><tspan x="490.1" y="316.2">=</tspan><tspan x="503" y="316.2">5.0</tspan><tspan x="530" y="316.2">V</tspan></text>
<line x1="460.9" y1="336.4" x2="501" y2="336.4" stroke="#f00" stroke-width="1.6"/>
<text font-size="16.5" y="342.4"><tspan x="510.3">fit:</tspan><tspan x="532.8">~</tspan><tspan x="547.5">exp[-</tspan><tspan x="585" font-style="italic">E</tspan><tspan x="597.2" y="347.9" font-size="10.2">act</tspan><tspan x="614.5" y="342.4">/</tspan><tspan x="621.5" font-style="italic">k</tspan><tspan x="631" y="347.9" font-size="10.2">B</tspan><tspan x="638" y="342.4" font-style="italic">T</tspan><tspan x="648.2">]</tspan></text>
</svg></body></html>
